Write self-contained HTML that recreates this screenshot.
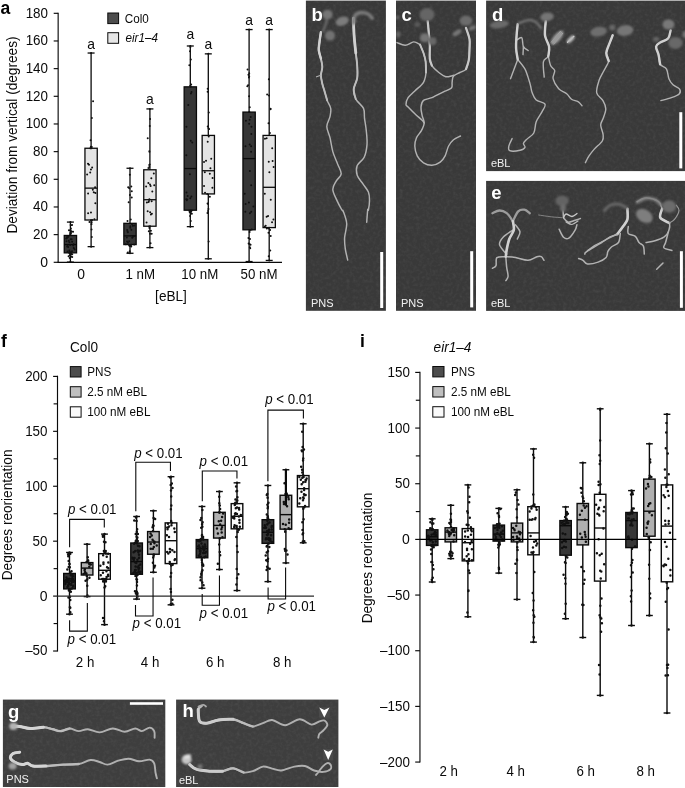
<!DOCTYPE html>
<html lang="en"><head><meta charset="utf-8"><title>Figure</title>
<style>html,body{margin:0;padding:0;background:#fff;overflow:hidden}svg{display:block}</style></head>
<body>
<svg width="685" height="788" viewBox="0 0 685 788" font-family='"Liberation Sans", Arial, Helvetica, sans-serif'>
<defs><filter id="bl" x="-5%" y="-5%" width="110%" height="110%"><feGaussianBlur stdDeviation="0.55"/></filter><filter id="bl2" x="-20%" y="-20%" width="140%" height="140%"><feGaussianBlur stdDeviation="1.2"/></filter><filter id="nz" x="0" y="0" width="100%" height="100%"><feTurbulence type="fractalNoise" baseFrequency="0.3" numOctaves="2" seed="4"/><feColorMatrix type="matrix" values="0 0 0 0 1 0 0 0 0 1 0 0 0 0 1 0.5 0.5 0 0 -0.42"/></filter><clipPath id="cp"><rect x="305.9" y="0.6" width="80" height="310.2"/><rect x="396" y="0.6" width="80" height="310.2"/><rect x="486.1" y="0.6" width="199" height="170.5"/><rect x="486.1" y="180.9" width="199" height="130"/><rect x="2.9" y="699.6" width="162.4" height="87.4"/><rect x="176.1" y="699.6" width="162.3" height="87.4"/></clipPath></defs>
<rect x="0" y="0" width="685" height="788" fill="#fff"/>
<line x1="58.15" y1="12.76" x2="58.15" y2="262.85" stroke="#0a0a0a" stroke-width="1.15" />
<line x1="57.6" y1="262.3" x2="282" y2="262.3" stroke="#0a0a0a" stroke-width="1.15" />
<line x1="53.7" y1="262.3" x2="58.15" y2="262.3" stroke="#0a0a0a" stroke-width="1.15" />
<text x="48" y="266.8" font-size="14.0" text-anchor="end" fill="#0a0a0a">0</text>
<line x1="53.7" y1="234.63" x2="58.15" y2="234.63" stroke="#0a0a0a" stroke-width="1.15" />
<text x="48" y="239.13" font-size="14.0" text-anchor="end" textLength="14.9" lengthAdjust="spacingAndGlyphs" fill="#0a0a0a">20</text>
<line x1="53.7" y1="206.97" x2="58.15" y2="206.97" stroke="#0a0a0a" stroke-width="1.15" />
<text x="48" y="211.47" font-size="14.0" text-anchor="end" textLength="14.9" lengthAdjust="spacingAndGlyphs" fill="#0a0a0a">40</text>
<line x1="53.7" y1="179.3" x2="58.15" y2="179.3" stroke="#0a0a0a" stroke-width="1.15" />
<text x="48" y="183.8" font-size="14.0" text-anchor="end" textLength="14.9" lengthAdjust="spacingAndGlyphs" fill="#0a0a0a">60</text>
<line x1="53.7" y1="151.64" x2="58.15" y2="151.64" stroke="#0a0a0a" stroke-width="1.15" />
<text x="48" y="156.14" font-size="14.0" text-anchor="end" textLength="14.9" lengthAdjust="spacingAndGlyphs" fill="#0a0a0a">80</text>
<line x1="53.7" y1="123.97" x2="58.15" y2="123.97" stroke="#0a0a0a" stroke-width="1.15" />
<text x="48" y="128.47" font-size="14.0" text-anchor="end" textLength="22.36" lengthAdjust="spacingAndGlyphs" fill="#0a0a0a">100</text>
<line x1="53.7" y1="96.3" x2="58.15" y2="96.3" stroke="#0a0a0a" stroke-width="1.15" />
<text x="48" y="100.8" font-size="14.0" text-anchor="end" textLength="22.36" lengthAdjust="spacingAndGlyphs" fill="#0a0a0a">120</text>
<line x1="53.7" y1="68.64" x2="58.15" y2="68.64" stroke="#0a0a0a" stroke-width="1.15" />
<text x="48" y="73.14" font-size="14.0" text-anchor="end" textLength="22.36" lengthAdjust="spacingAndGlyphs" fill="#0a0a0a">140</text>
<line x1="53.7" y1="40.97" x2="58.15" y2="40.97" stroke="#0a0a0a" stroke-width="1.15" />
<text x="48" y="45.47" font-size="14.0" text-anchor="end" textLength="22.36" lengthAdjust="spacingAndGlyphs" fill="#0a0a0a">160</text>
<line x1="53.7" y1="13.31" x2="58.15" y2="13.31" stroke="#0a0a0a" stroke-width="1.15" />
<text x="48" y="17.81" font-size="14.0" text-anchor="end" textLength="22.36" lengthAdjust="spacingAndGlyphs" fill="#0a0a0a">180</text>
<text x="0.5" y="13.7" font-size="17.5" font-weight="bold" fill="#000">a</text>
<text x="16.6" y="135" font-size="14.2" text-anchor="middle" textLength="197" lengthAdjust="spacingAndGlyphs" fill="#0a0a0a" transform="rotate(-90 16.6 135)">Deviation from vertical (degrees)</text>
<rect x="107.8" y="13" width="10.8" height="10.6" fill="#4d4d4d" stroke="#0a0a0a" stroke-width="1"/>
<text x="124.8" y="22.6" font-size="12.23" textLength="24.06" lengthAdjust="spacingAndGlyphs" fill="#0a0a0a">Col0</text>
<rect x="107.8" y="32.7" width="10.8" height="10.6" fill="#e6e6e6" stroke="#0a0a0a" stroke-width="1"/>
<text x="125.4" y="42.3" font-size="12.23" font-style="italic" textLength="32.52" lengthAdjust="spacingAndGlyphs" fill="#0a0a0a">eir1–4</text>
<line x1="70.4" y1="222.08" x2="70.4" y2="262.1" stroke="#0a0a0a" stroke-width="1.3" />
<line x1="66.9" y1="222.08" x2="73.9" y2="222.08" stroke="#0a0a0a" stroke-width="1.3" />
<line x1="66.9" y1="262.1" x2="73.9" y2="262.1" stroke="#0a0a0a" stroke-width="1.3" />
<rect x="64.25" y="235.47" width="12.3" height="17.39" fill="#363636" stroke="#0a0a0a" stroke-width="1.3"/>
<line x1="64.25" y1="244.57" x2="76.55" y2="244.57" stroke="#0a0a0a" stroke-width="1.3" />
<path d="M70.23 254.07a1.0 1.0 0 1 0 2 0a1.0 1.0 0 1 0 -2 0zM69.72 252.25a1.0 1.0 0 1 0 2 0a1.0 1.0 0 1 0 -2 0zM65.49 241.24a1.0 1.0 0 1 0 2 0a1.0 1.0 0 1 0 -2 0zM70.56 231.52a1.0 1.0 0 1 0 2 0a1.0 1.0 0 1 0 -2 0zM69.06 252.88a1.0 1.0 0 1 0 2 0a1.0 1.0 0 1 0 -2 0zM68.73 252.1a1.0 1.0 0 1 0 2 0a1.0 1.0 0 1 0 -2 0zM66.07 237.04a1.0 1.0 0 1 0 2 0a1.0 1.0 0 1 0 -2 0zM69.55 234.57a1.0 1.0 0 1 0 2 0a1.0 1.0 0 1 0 -2 0zM70.62 256.85a1.0 1.0 0 1 0 2 0a1.0 1.0 0 1 0 -2 0zM73.62 249.57a1.0 1.0 0 1 0 2 0a1.0 1.0 0 1 0 -2 0zM72.57 244.15a1.0 1.0 0 1 0 2 0a1.0 1.0 0 1 0 -2 0zM68.98 234.03a1.0 1.0 0 1 0 2 0a1.0 1.0 0 1 0 -2 0zM70.02 253.14a1.0 1.0 0 1 0 2 0a1.0 1.0 0 1 0 -2 0zM66.57 246.1a1.0 1.0 0 1 0 2 0a1.0 1.0 0 1 0 -2 0zM70.63 239.28a1.0 1.0 0 1 0 2 0a1.0 1.0 0 1 0 -2 0zM69.97 233.2a1.0 1.0 0 1 0 2 0a1.0 1.0 0 1 0 -2 0zM69.72 255.98a1.0 1.0 0 1 0 2 0a1.0 1.0 0 1 0 -2 0zM71 251.15a1.0 1.0 0 1 0 2 0a1.0 1.0 0 1 0 -2 0zM67.75 240.68a1.0 1.0 0 1 0 2 0a1.0 1.0 0 1 0 -2 0zM69.53 230.36a1.0 1.0 0 1 0 2 0a1.0 1.0 0 1 0 -2 0zM68.86 255.08a1.0 1.0 0 1 0 2 0a1.0 1.0 0 1 0 -2 0zM67.13 247.07a1.0 1.0 0 1 0 2 0a1.0 1.0 0 1 0 -2 0zM69.62 239.34a1.0 1.0 0 1 0 2 0a1.0 1.0 0 1 0 -2 0zM71.07 224.94a1.0 1.0 0 1 0 2 0a1.0 1.0 0 1 0 -2 0zM68.75 258.09a1.0 1.0 0 1 0 2 0a1.0 1.0 0 1 0 -2 0zM68.67 251.88a1.0 1.0 0 1 0 2 0a1.0 1.0 0 1 0 -2 0zM66.32 237.68a1.0 1.0 0 1 0 2 0a1.0 1.0 0 1 0 -2 0zM72.08 231.77a1.0 1.0 0 1 0 2 0a1.0 1.0 0 1 0 -2 0zM68.58 252.88a1.0 1.0 0 1 0 2 0a1.0 1.0 0 1 0 -2 0zM72.73 248.11a1.0 1.0 0 1 0 2 0a1.0 1.0 0 1 0 -2 0zM71.13 241.72a1.0 1.0 0 1 0 2 0a1.0 1.0 0 1 0 -2 0zM67.94 230.22a1.0 1.0 0 1 0 2 0a1.0 1.0 0 1 0 -2 0zM67.59 256.32a1.0 1.0 0 1 0 2 0a1.0 1.0 0 1 0 -2 0zM69.17 245.03a1.0 1.0 0 1 0 2 0a1.0 1.0 0 1 0 -2 0zM65.51 238.52a1.0 1.0 0 1 0 2 0a1.0 1.0 0 1 0 -2 0zM69.91 228.39a1.0 1.0 0 1 0 2 0a1.0 1.0 0 1 0 -2 0zM71.23 257.08a1.0 1.0 0 1 0 2 0a1.0 1.0 0 1 0 -2 0zM68.39 250.5a1.0 1.0 0 1 0 2 0a1.0 1.0 0 1 0 -2 0zM65.17 238.48a1.0 1.0 0 1 0 2 0a1.0 1.0 0 1 0 -2 0zM69.32 232.14a1.0 1.0 0 1 0 2 0a1.0 1.0 0 1 0 -2 0zM69.65 253.23a1.0 1.0 0 1 0 2 0a1.0 1.0 0 1 0 -2 0zM66.12 246.49a1.0 1.0 0 1 0 2 0a1.0 1.0 0 1 0 -2 0zM68.43 242.32a1.0 1.0 0 1 0 2 0a1.0 1.0 0 1 0 -2 0zM69.63 225.02a1.0 1.0 0 1 0 2 0a1.0 1.0 0 1 0 -2 0zM68.22 252.95a1.0 1.0 0 1 0 2 0a1.0 1.0 0 1 0 -2 0zM72.23 245.54a1.0 1.0 0 1 0 2 0a1.0 1.0 0 1 0 -2 0zM67.44 236.7a1.0 1.0 0 1 0 2 0a1.0 1.0 0 1 0 -2 0zM69.79 232.71a1.0 1.0 0 1 0 2 0a1.0 1.0 0 1 0 -2 0zM71.25 254.31a1.0 1.0 0 1 0 2 0a1.0 1.0 0 1 0 -2 0zM66.53 251.6a1.0 1.0 0 1 0 2 0a1.0 1.0 0 1 0 -2 0zM69.4 262.1a1.0 1.0 0 1 0 2 0a1.0 1.0 0 1 0 -2 0zM69.4 222.08a1.0 1.0 0 1 0 2 0a1.0 1.0 0 1 0 -2 0z" fill="#111"/>
<line x1="91.1" y1="53.03" x2="91.1" y2="246.64" stroke="#0a0a0a" stroke-width="1.3" />
<line x1="87.6" y1="53.03" x2="94.6" y2="53.03" stroke="#0a0a0a" stroke-width="1.3" />
<line x1="87.6" y1="246.64" x2="94.6" y2="246.64" stroke="#0a0a0a" stroke-width="1.3" />
<rect x="84.95" y="148.25" width="12.3" height="71.76" fill="#e4e4e4" stroke="#0a0a0a" stroke-width="1.3"/>
<line x1="84.95" y1="188.13" x2="97.25" y2="188.13" stroke="#0a0a0a" stroke-width="1.3" />
<path d="M88.45 221.93a1.0 1.0 0 1 0 2 0a1.0 1.0 0 1 0 -2 0zM89.97 212.57a1.0 1.0 0 1 0 2 0a1.0 1.0 0 1 0 -2 0zM88 164.64a1.0 1.0 0 1 0 2 0a1.0 1.0 0 1 0 -2 0zM89.28 148.25a1.0 1.0 0 1 0 2 0a1.0 1.0 0 1 0 -2 0zM90.56 229.58a1.0 1.0 0 1 0 2 0a1.0 1.0 0 1 0 -2 0zM91.79 189.63a1.0 1.0 0 1 0 2 0a1.0 1.0 0 1 0 -2 0zM91.14 167.57a1.0 1.0 0 1 0 2 0a1.0 1.0 0 1 0 -2 0zM92.09 101.17a1.0 1.0 0 1 0 2 0a1.0 1.0 0 1 0 -2 0zM90.8 237.04a1.0 1.0 0 1 0 2 0a1.0 1.0 0 1 0 -2 0zM92.74 192.13a1.0 1.0 0 1 0 2 0a1.0 1.0 0 1 0 -2 0zM89.21 172.48a1.0 1.0 0 1 0 2 0a1.0 1.0 0 1 0 -2 0zM89.87 146.64a1.0 1.0 0 1 0 2 0a1.0 1.0 0 1 0 -2 0zM89.84 220.22a1.0 1.0 0 1 0 2 0a1.0 1.0 0 1 0 -2 0zM87.11 213.36a1.0 1.0 0 1 0 2 0a1.0 1.0 0 1 0 -2 0zM86.14 174.57a1.0 1.0 0 1 0 2 0a1.0 1.0 0 1 0 -2 0zM90.36 148.25a1.0 1.0 0 1 0 2 0a1.0 1.0 0 1 0 -2 0zM90.47 224.32a1.0 1.0 0 1 0 2 0a1.0 1.0 0 1 0 -2 0zM93.42 219.2a1.0 1.0 0 1 0 2 0a1.0 1.0 0 1 0 -2 0zM86.99 163.64a1.0 1.0 0 1 0 2 0a1.0 1.0 0 1 0 -2 0zM89.56 140.27a1.0 1.0 0 1 0 2 0a1.0 1.0 0 1 0 -2 0zM90.87 220.62a1.0 1.0 0 1 0 2 0a1.0 1.0 0 1 0 -2 0zM94.47 192.95a1.0 1.0 0 1 0 2 0a1.0 1.0 0 1 0 -2 0zM89.96 169.55a1.0 1.0 0 1 0 2 0a1.0 1.0 0 1 0 -2 0zM90.82 147.1a1.0 1.0 0 1 0 2 0a1.0 1.0 0 1 0 -2 0zM90.64 222.45a1.0 1.0 0 1 0 2 0a1.0 1.0 0 1 0 -2 0zM87.1 193.59a1.0 1.0 0 1 0 2 0a1.0 1.0 0 1 0 -2 0zM94.09 187.21a1.0 1.0 0 1 0 2 0a1.0 1.0 0 1 0 -2 0zM90.85 118.06a1.0 1.0 0 1 0 2 0a1.0 1.0 0 1 0 -2 0zM91.08 220.05a1.0 1.0 0 1 0 2 0a1.0 1.0 0 1 0 -2 0zM94.34 203.17a1.0 1.0 0 1 0 2 0a1.0 1.0 0 1 0 -2 0zM90.1 246.64a1.0 1.0 0 1 0 2 0a1.0 1.0 0 1 0 -2 0zM90.1 53.03a1.0 1.0 0 1 0 2 0a1.0 1.0 0 1 0 -2 0z" fill="#111"/>
<text x="91.1" y="49.03" font-size="13.9" text-anchor="middle" fill="#0a0a0a">a</text>
<line x1="130" y1="168.26" x2="130" y2="253.27" stroke="#0a0a0a" stroke-width="1.3" />
<line x1="126.5" y1="168.26" x2="133.5" y2="168.26" stroke="#0a0a0a" stroke-width="1.3" />
<line x1="126.5" y1="253.27" x2="133.5" y2="253.27" stroke="#0a0a0a" stroke-width="1.3" />
<rect x="123.85" y="223.32" width="12.3" height="21.25" fill="#363636" stroke="#0a0a0a" stroke-width="1.3"/>
<line x1="123.85" y1="235.88" x2="136.15" y2="235.88" stroke="#0a0a0a" stroke-width="1.3" />
<path d="M128.75 251.25a1.0 1.0 0 1 0 2 0a1.0 1.0 0 1 0 -2 0zM126.05 241.39a1.0 1.0 0 1 0 2 0a1.0 1.0 0 1 0 -2 0zM129.29 226.19a1.0 1.0 0 1 0 2 0a1.0 1.0 0 1 0 -2 0zM128.28 188.19a1.0 1.0 0 1 0 2 0a1.0 1.0 0 1 0 -2 0zM129.3 245.75a1.0 1.0 0 1 0 2 0a1.0 1.0 0 1 0 -2 0zM132.12 236.01a1.0 1.0 0 1 0 2 0a1.0 1.0 0 1 0 -2 0zM131.82 225.76a1.0 1.0 0 1 0 2 0a1.0 1.0 0 1 0 -2 0zM130.77 191.31a1.0 1.0 0 1 0 2 0a1.0 1.0 0 1 0 -2 0zM128.08 245.18a1.0 1.0 0 1 0 2 0a1.0 1.0 0 1 0 -2 0zM124.82 244.32a1.0 1.0 0 1 0 2 0a1.0 1.0 0 1 0 -2 0zM126.87 232.37a1.0 1.0 0 1 0 2 0a1.0 1.0 0 1 0 -2 0zM128.9 194.9a1.0 1.0 0 1 0 2 0a1.0 1.0 0 1 0 -2 0zM126.81 252.6a1.0 1.0 0 1 0 2 0a1.0 1.0 0 1 0 -2 0zM133.03 235.98a1.0 1.0 0 1 0 2 0a1.0 1.0 0 1 0 -2 0zM126.52 231.3a1.0 1.0 0 1 0 2 0a1.0 1.0 0 1 0 -2 0zM129.75 219.51a1.0 1.0 0 1 0 2 0a1.0 1.0 0 1 0 -2 0zM129.39 245.04a1.0 1.0 0 1 0 2 0a1.0 1.0 0 1 0 -2 0zM132.01 236.75a1.0 1.0 0 1 0 2 0a1.0 1.0 0 1 0 -2 0zM130.35 229.86a1.0 1.0 0 1 0 2 0a1.0 1.0 0 1 0 -2 0zM130.32 186.5a1.0 1.0 0 1 0 2 0a1.0 1.0 0 1 0 -2 0zM127.85 244.68a1.0 1.0 0 1 0 2 0a1.0 1.0 0 1 0 -2 0zM131.22 237.77a1.0 1.0 0 1 0 2 0a1.0 1.0 0 1 0 -2 0zM126.15 229.88a1.0 1.0 0 1 0 2 0a1.0 1.0 0 1 0 -2 0zM127.17 187.37a1.0 1.0 0 1 0 2 0a1.0 1.0 0 1 0 -2 0zM129.82 245.77a1.0 1.0 0 1 0 2 0a1.0 1.0 0 1 0 -2 0zM128.13 241.13a1.0 1.0 0 1 0 2 0a1.0 1.0 0 1 0 -2 0zM130.99 223.99a1.0 1.0 0 1 0 2 0a1.0 1.0 0 1 0 -2 0zM126.51 221.05a1.0 1.0 0 1 0 2 0a1.0 1.0 0 1 0 -2 0zM130.24 244.79a1.0 1.0 0 1 0 2 0a1.0 1.0 0 1 0 -2 0zM125.87 237.56a1.0 1.0 0 1 0 2 0a1.0 1.0 0 1 0 -2 0zM133.25 225.5a1.0 1.0 0 1 0 2 0a1.0 1.0 0 1 0 -2 0zM130.74 197.45a1.0 1.0 0 1 0 2 0a1.0 1.0 0 1 0 -2 0zM128.5 245.89a1.0 1.0 0 1 0 2 0a1.0 1.0 0 1 0 -2 0zM133.17 244.45a1.0 1.0 0 1 0 2 0a1.0 1.0 0 1 0 -2 0zM129.24 227.72a1.0 1.0 0 1 0 2 0a1.0 1.0 0 1 0 -2 0zM128.84 174.66a1.0 1.0 0 1 0 2 0a1.0 1.0 0 1 0 -2 0zM130.27 246.51a1.0 1.0 0 1 0 2 0a1.0 1.0 0 1 0 -2 0zM126.8 242.74a1.0 1.0 0 1 0 2 0a1.0 1.0 0 1 0 -2 0zM126.7 232.2a1.0 1.0 0 1 0 2 0a1.0 1.0 0 1 0 -2 0zM127.67 202.25a1.0 1.0 0 1 0 2 0a1.0 1.0 0 1 0 -2 0zM129 253.27a1.0 1.0 0 1 0 2 0a1.0 1.0 0 1 0 -2 0zM129 168.26a1.0 1.0 0 1 0 2 0a1.0 1.0 0 1 0 -2 0z" fill="#111"/>
<line x1="149.9" y1="108.92" x2="149.9" y2="247.61" stroke="#0a0a0a" stroke-width="1.3" />
<line x1="146.4" y1="108.92" x2="153.4" y2="108.92" stroke="#0a0a0a" stroke-width="1.3" />
<line x1="146.4" y1="247.61" x2="153.4" y2="247.61" stroke="#0a0a0a" stroke-width="1.3" />
<rect x="143.75" y="169.78" width="12.3" height="56.44" fill="#e4e4e4" stroke="#0a0a0a" stroke-width="1.3"/>
<line x1="143.75" y1="199.72" x2="156.05" y2="199.72" stroke="#0a0a0a" stroke-width="1.3" />
<path d="M148.44 228.1a1.0 1.0 0 1 0 2 0a1.0 1.0 0 1 0 -2 0zM147.61 202.11a1.0 1.0 0 1 0 2 0a1.0 1.0 0 1 0 -2 0zM149.64 186a1.0 1.0 0 1 0 2 0a1.0 1.0 0 1 0 -2 0zM149.15 119a1.0 1.0 0 1 0 2 0a1.0 1.0 0 1 0 -2 0zM149.91 230.72a1.0 1.0 0 1 0 2 0a1.0 1.0 0 1 0 -2 0zM149.11 212.13a1.0 1.0 0 1 0 2 0a1.0 1.0 0 1 0 -2 0zM148.37 199.16a1.0 1.0 0 1 0 2 0a1.0 1.0 0 1 0 -2 0zM148.33 166.91a1.0 1.0 0 1 0 2 0a1.0 1.0 0 1 0 -2 0zM149.08 226.22a1.0 1.0 0 1 0 2 0a1.0 1.0 0 1 0 -2 0zM150.89 213.67a1.0 1.0 0 1 0 2 0a1.0 1.0 0 1 0 -2 0zM147.36 183.06a1.0 1.0 0 1 0 2 0a1.0 1.0 0 1 0 -2 0zM148.32 151.13a1.0 1.0 0 1 0 2 0a1.0 1.0 0 1 0 -2 0zM149 233.64a1.0 1.0 0 1 0 2 0a1.0 1.0 0 1 0 -2 0zM146.67 211.37a1.0 1.0 0 1 0 2 0a1.0 1.0 0 1 0 -2 0zM151.31 191.43a1.0 1.0 0 1 0 2 0a1.0 1.0 0 1 0 -2 0zM148.44 151.81a1.0 1.0 0 1 0 2 0a1.0 1.0 0 1 0 -2 0zM149.04 233.79a1.0 1.0 0 1 0 2 0a1.0 1.0 0 1 0 -2 0zM149.9 214.48a1.0 1.0 0 1 0 2 0a1.0 1.0 0 1 0 -2 0zM149.01 184.58a1.0 1.0 0 1 0 2 0a1.0 1.0 0 1 0 -2 0zM146.73 138.35a1.0 1.0 0 1 0 2 0a1.0 1.0 0 1 0 -2 0zM147.8 231.35a1.0 1.0 0 1 0 2 0a1.0 1.0 0 1 0 -2 0zM150.66 201.27a1.0 1.0 0 1 0 2 0a1.0 1.0 0 1 0 -2 0zM152.82 173.48a1.0 1.0 0 1 0 2 0a1.0 1.0 0 1 0 -2 0zM148.67 164.41a1.0 1.0 0 1 0 2 0a1.0 1.0 0 1 0 -2 0zM150.67 233.74a1.0 1.0 0 1 0 2 0a1.0 1.0 0 1 0 -2 0zM145.55 222.59a1.0 1.0 0 1 0 2 0a1.0 1.0 0 1 0 -2 0zM145.11 186.48a1.0 1.0 0 1 0 2 0a1.0 1.0 0 1 0 -2 0zM148.24 165.09a1.0 1.0 0 1 0 2 0a1.0 1.0 0 1 0 -2 0zM148.07 226.41a1.0 1.0 0 1 0 2 0a1.0 1.0 0 1 0 -2 0zM145.84 202.45a1.0 1.0 0 1 0 2 0a1.0 1.0 0 1 0 -2 0zM150.32 178.28a1.0 1.0 0 1 0 2 0a1.0 1.0 0 1 0 -2 0zM147.39 167.94a1.0 1.0 0 1 0 2 0a1.0 1.0 0 1 0 -2 0zM149.58 243.31a1.0 1.0 0 1 0 2 0a1.0 1.0 0 1 0 -2 0zM148 200.98a1.0 1.0 0 1 0 2 0a1.0 1.0 0 1 0 -2 0zM153.24 185.13a1.0 1.0 0 1 0 2 0a1.0 1.0 0 1 0 -2 0zM148.76 126.03a1.0 1.0 0 1 0 2 0a1.0 1.0 0 1 0 -2 0zM148.9 247.61a1.0 1.0 0 1 0 2 0a1.0 1.0 0 1 0 -2 0zM148.9 108.92a1.0 1.0 0 1 0 2 0a1.0 1.0 0 1 0 -2 0z" fill="#111"/>
<text x="149.9" y="103.92" font-size="13.9" text-anchor="middle" fill="#0a0a0a">a</text>
<line x1="190.3" y1="45.99" x2="190.3" y2="226.63" stroke="#0a0a0a" stroke-width="1.3" />
<line x1="186.8" y1="45.99" x2="193.8" y2="45.99" stroke="#0a0a0a" stroke-width="1.3" />
<line x1="186.8" y1="226.63" x2="193.8" y2="226.63" stroke="#0a0a0a" stroke-width="1.3" />
<rect x="184.15" y="86.84" width="12.3" height="123.37" fill="#363636" stroke="#0a0a0a" stroke-width="1.3"/>
<line x1="184.15" y1="168.54" x2="196.45" y2="168.54" stroke="#0a0a0a" stroke-width="1.3" />
<path d="M188.22 210.83a1.0 1.0 0 1 0 2 0a1.0 1.0 0 1 0 -2 0zM186.61 196.08a1.0 1.0 0 1 0 2 0a1.0 1.0 0 1 0 -2 0zM191.27 142.51a1.0 1.0 0 1 0 2 0a1.0 1.0 0 1 0 -2 0zM189.79 86.81a1.0 1.0 0 1 0 2 0a1.0 1.0 0 1 0 -2 0zM189.13 215.89a1.0 1.0 0 1 0 2 0a1.0 1.0 0 1 0 -2 0zM190.4 196.4a1.0 1.0 0 1 0 2 0a1.0 1.0 0 1 0 -2 0zM185.44 126.69a1.0 1.0 0 1 0 2 0a1.0 1.0 0 1 0 -2 0zM189.37 47.08a1.0 1.0 0 1 0 2 0a1.0 1.0 0 1 0 -2 0zM189.76 220.92a1.0 1.0 0 1 0 2 0a1.0 1.0 0 1 0 -2 0zM185.22 199.14a1.0 1.0 0 1 0 2 0a1.0 1.0 0 1 0 -2 0zM187.27 104.9a1.0 1.0 0 1 0 2 0a1.0 1.0 0 1 0 -2 0zM189.22 85.81a1.0 1.0 0 1 0 2 0a1.0 1.0 0 1 0 -2 0zM190.84 213.69a1.0 1.0 0 1 0 2 0a1.0 1.0 0 1 0 -2 0zM186.19 199.43a1.0 1.0 0 1 0 2 0a1.0 1.0 0 1 0 -2 0zM189.93 93.44a1.0 1.0 0 1 0 2 0a1.0 1.0 0 1 0 -2 0zM188.34 65.32a1.0 1.0 0 1 0 2 0a1.0 1.0 0 1 0 -2 0zM190.71 210.42a1.0 1.0 0 1 0 2 0a1.0 1.0 0 1 0 -2 0zM185.51 192.49a1.0 1.0 0 1 0 2 0a1.0 1.0 0 1 0 -2 0zM190.49 91.88a1.0 1.0 0 1 0 2 0a1.0 1.0 0 1 0 -2 0zM189.83 59.4a1.0 1.0 0 1 0 2 0a1.0 1.0 0 1 0 -2 0zM189.53 210.4a1.0 1.0 0 1 0 2 0a1.0 1.0 0 1 0 -2 0zM188.89 174.25a1.0 1.0 0 1 0 2 0a1.0 1.0 0 1 0 -2 0zM189.77 140.83a1.0 1.0 0 1 0 2 0a1.0 1.0 0 1 0 -2 0zM189.01 51.22a1.0 1.0 0 1 0 2 0a1.0 1.0 0 1 0 -2 0zM190.13 211.75a1.0 1.0 0 1 0 2 0a1.0 1.0 0 1 0 -2 0zM185.84 200.27a1.0 1.0 0 1 0 2 0a1.0 1.0 0 1 0 -2 0zM185.32 155.35a1.0 1.0 0 1 0 2 0a1.0 1.0 0 1 0 -2 0zM190.17 84.55a1.0 1.0 0 1 0 2 0a1.0 1.0 0 1 0 -2 0zM188.74 212.23a1.0 1.0 0 1 0 2 0a1.0 1.0 0 1 0 -2 0zM189.3 198.13a1.0 1.0 0 1 0 2 0a1.0 1.0 0 1 0 -2 0zM189.3 226.63a1.0 1.0 0 1 0 2 0a1.0 1.0 0 1 0 -2 0zM189.3 45.99a1.0 1.0 0 1 0 2 0a1.0 1.0 0 1 0 -2 0z" fill="#111"/>
<text x="190.3" y="38.69" font-size="13.9" text-anchor="middle" fill="#0a0a0a">a</text>
<line x1="208.3" y1="53.86" x2="208.3" y2="258.79" stroke="#0a0a0a" stroke-width="1.3" />
<line x1="204.8" y1="53.86" x2="211.8" y2="53.86" stroke="#0a0a0a" stroke-width="1.3" />
<line x1="204.8" y1="258.79" x2="211.8" y2="258.79" stroke="#0a0a0a" stroke-width="1.3" />
<rect x="202.15" y="135.42" width="12.3" height="58.51" fill="#e4e4e4" stroke="#0a0a0a" stroke-width="1.3"/>
<line x1="202.15" y1="170.74" x2="214.45" y2="170.74" stroke="#0a0a0a" stroke-width="1.3" />
<path d="M208.86 196.83a1.0 1.0 0 1 0 2 0a1.0 1.0 0 1 0 -2 0zM203.03 185.88a1.0 1.0 0 1 0 2 0a1.0 1.0 0 1 0 -2 0zM203.01 161.9a1.0 1.0 0 1 0 2 0a1.0 1.0 0 1 0 -2 0zM206.69 88.78a1.0 1.0 0 1 0 2 0a1.0 1.0 0 1 0 -2 0zM207.1 210.9a1.0 1.0 0 1 0 2 0a1.0 1.0 0 1 0 -2 0zM203.81 172.26a1.0 1.0 0 1 0 2 0a1.0 1.0 0 1 0 -2 0zM206.7 141.81a1.0 1.0 0 1 0 2 0a1.0 1.0 0 1 0 -2 0zM207.8 112.41a1.0 1.0 0 1 0 2 0a1.0 1.0 0 1 0 -2 0zM206.45 213a1.0 1.0 0 1 0 2 0a1.0 1.0 0 1 0 -2 0zM211.57 177.98a1.0 1.0 0 1 0 2 0a1.0 1.0 0 1 0 -2 0zM210.24 158.64a1.0 1.0 0 1 0 2 0a1.0 1.0 0 1 0 -2 0zM206.64 91.75a1.0 1.0 0 1 0 2 0a1.0 1.0 0 1 0 -2 0zM206.54 203.61a1.0 1.0 0 1 0 2 0a1.0 1.0 0 1 0 -2 0zM204.02 192.67a1.0 1.0 0 1 0 2 0a1.0 1.0 0 1 0 -2 0zM209.43 168.25a1.0 1.0 0 1 0 2 0a1.0 1.0 0 1 0 -2 0zM207.51 128.42a1.0 1.0 0 1 0 2 0a1.0 1.0 0 1 0 -2 0zM207.65 241.45a1.0 1.0 0 1 0 2 0a1.0 1.0 0 1 0 -2 0zM208.81 173.75a1.0 1.0 0 1 0 2 0a1.0 1.0 0 1 0 -2 0zM205.02 160.78a1.0 1.0 0 1 0 2 0a1.0 1.0 0 1 0 -2 0zM206.74 126.46a1.0 1.0 0 1 0 2 0a1.0 1.0 0 1 0 -2 0zM207.45 209.08a1.0 1.0 0 1 0 2 0a1.0 1.0 0 1 0 -2 0zM211.39 187.82a1.0 1.0 0 1 0 2 0a1.0 1.0 0 1 0 -2 0zM207.72 136.38a1.0 1.0 0 1 0 2 0a1.0 1.0 0 1 0 -2 0zM208.13 128.96a1.0 1.0 0 1 0 2 0a1.0 1.0 0 1 0 -2 0zM207.12 204.06a1.0 1.0 0 1 0 2 0a1.0 1.0 0 1 0 -2 0zM206.25 193.9a1.0 1.0 0 1 0 2 0a1.0 1.0 0 1 0 -2 0zM207.3 258.79a1.0 1.0 0 1 0 2 0a1.0 1.0 0 1 0 -2 0zM207.3 53.86a1.0 1.0 0 1 0 2 0a1.0 1.0 0 1 0 -2 0z" fill="#111"/>
<text x="208.3" y="48.86" font-size="13.9" text-anchor="middle" fill="#0a0a0a">a</text>
<line x1="249.1" y1="29.57" x2="249.1" y2="261.55" stroke="#0a0a0a" stroke-width="1.3" />
<line x1="245.6" y1="29.57" x2="252.6" y2="29.57" stroke="#0a0a0a" stroke-width="1.3" />
<line x1="245.6" y1="261.55" x2="252.6" y2="261.55" stroke="#0a0a0a" stroke-width="1.3" />
<rect x="242.95" y="112.09" width="12.3" height="117.71" fill="#363636" stroke="#0a0a0a" stroke-width="1.3"/>
<line x1="242.95" y1="158.6" x2="255.25" y2="158.6" stroke="#0a0a0a" stroke-width="1.3" />
<path d="M247.44 238.11a1.0 1.0 0 1 0 2 0a1.0 1.0 0 1 0 -2 0zM243.72 193.87a1.0 1.0 0 1 0 2 0a1.0 1.0 0 1 0 -2 0zM244.47 146.31a1.0 1.0 0 1 0 2 0a1.0 1.0 0 1 0 -2 0zM248.09 96.27a1.0 1.0 0 1 0 2 0a1.0 1.0 0 1 0 -2 0zM248.93 229.91a1.0 1.0 0 1 0 2 0a1.0 1.0 0 1 0 -2 0zM248.86 213.23a1.0 1.0 0 1 0 2 0a1.0 1.0 0 1 0 -2 0zM250.32 133.99a1.0 1.0 0 1 0 2 0a1.0 1.0 0 1 0 -2 0zM248.22 73.29a1.0 1.0 0 1 0 2 0a1.0 1.0 0 1 0 -2 0zM248.81 247.2a1.0 1.0 0 1 0 2 0a1.0 1.0 0 1 0 -2 0zM252.39 206.58a1.0 1.0 0 1 0 2 0a1.0 1.0 0 1 0 -2 0zM250.09 151.65a1.0 1.0 0 1 0 2 0a1.0 1.0 0 1 0 -2 0zM247.43 74.8a1.0 1.0 0 1 0 2 0a1.0 1.0 0 1 0 -2 0zM249.16 229.92a1.0 1.0 0 1 0 2 0a1.0 1.0 0 1 0 -2 0zM250.17 185.14a1.0 1.0 0 1 0 2 0a1.0 1.0 0 1 0 -2 0zM244.91 120.83a1.0 1.0 0 1 0 2 0a1.0 1.0 0 1 0 -2 0zM246.32 86.33a1.0 1.0 0 1 0 2 0a1.0 1.0 0 1 0 -2 0zM249 239.07a1.0 1.0 0 1 0 2 0a1.0 1.0 0 1 0 -2 0zM248.84 170.96a1.0 1.0 0 1 0 2 0a1.0 1.0 0 1 0 -2 0zM249.72 117.08a1.0 1.0 0 1 0 2 0a1.0 1.0 0 1 0 -2 0zM246.57 69.41a1.0 1.0 0 1 0 2 0a1.0 1.0 0 1 0 -2 0zM248.62 232.06a1.0 1.0 0 1 0 2 0a1.0 1.0 0 1 0 -2 0zM244.6 204.12a1.0 1.0 0 1 0 2 0a1.0 1.0 0 1 0 -2 0zM248.62 119.73a1.0 1.0 0 1 0 2 0a1.0 1.0 0 1 0 -2 0zM248.2 76.4a1.0 1.0 0 1 0 2 0a1.0 1.0 0 1 0 -2 0zM247.62 243.48a1.0 1.0 0 1 0 2 0a1.0 1.0 0 1 0 -2 0zM250.74 229.57a1.0 1.0 0 1 0 2 0a1.0 1.0 0 1 0 -2 0zM248.13 123.8a1.0 1.0 0 1 0 2 0a1.0 1.0 0 1 0 -2 0zM247.07 85.31a1.0 1.0 0 1 0 2 0a1.0 1.0 0 1 0 -2 0zM249.57 244.8a1.0 1.0 0 1 0 2 0a1.0 1.0 0 1 0 -2 0zM244.33 211.85a1.0 1.0 0 1 0 2 0a1.0 1.0 0 1 0 -2 0zM250.13 146.25a1.0 1.0 0 1 0 2 0a1.0 1.0 0 1 0 -2 0zM248.75 107.32a1.0 1.0 0 1 0 2 0a1.0 1.0 0 1 0 -2 0zM249.24 248.26a1.0 1.0 0 1 0 2 0a1.0 1.0 0 1 0 -2 0zM247.91 202.57a1.0 1.0 0 1 0 2 0a1.0 1.0 0 1 0 -2 0zM250.46 126.8a1.0 1.0 0 1 0 2 0a1.0 1.0 0 1 0 -2 0zM247.93 77.5a1.0 1.0 0 1 0 2 0a1.0 1.0 0 1 0 -2 0zM248.59 244.13a1.0 1.0 0 1 0 2 0a1.0 1.0 0 1 0 -2 0zM250.25 211.73a1.0 1.0 0 1 0 2 0a1.0 1.0 0 1 0 -2 0zM248.7 144.44a1.0 1.0 0 1 0 2 0a1.0 1.0 0 1 0 -2 0zM248.36 112.06a1.0 1.0 0 1 0 2 0a1.0 1.0 0 1 0 -2 0zM248.1 261.55a1.0 1.0 0 1 0 2 0a1.0 1.0 0 1 0 -2 0zM248.1 29.57a1.0 1.0 0 1 0 2 0a1.0 1.0 0 1 0 -2 0z" fill="#111"/>
<text x="249.1" y="24.57" font-size="13.9" text-anchor="middle" fill="#0a0a0a">a</text>
<line x1="269.2" y1="29.57" x2="269.2" y2="260.44" stroke="#0a0a0a" stroke-width="1.3" />
<line x1="265.7" y1="29.57" x2="272.7" y2="29.57" stroke="#0a0a0a" stroke-width="1.3" />
<line x1="265.7" y1="260.44" x2="272.7" y2="260.44" stroke="#0a0a0a" stroke-width="1.3" />
<rect x="263.05" y="135.42" width="12.3" height="92.18" fill="#e4e4e4" stroke="#0a0a0a" stroke-width="1.3"/>
<line x1="263.05" y1="187.3" x2="275.35" y2="187.3" stroke="#0a0a0a" stroke-width="1.3" />
<path d="M268.03 227.81a1.0 1.0 0 1 0 2 0a1.0 1.0 0 1 0 -2 0zM269.76 199.71a1.0 1.0 0 1 0 2 0a1.0 1.0 0 1 0 -2 0zM268.35 172.21a1.0 1.0 0 1 0 2 0a1.0 1.0 0 1 0 -2 0zM269.66 108.78a1.0 1.0 0 1 0 2 0a1.0 1.0 0 1 0 -2 0zM269.73 235.92a1.0 1.0 0 1 0 2 0a1.0 1.0 0 1 0 -2 0zM272.43 219.57a1.0 1.0 0 1 0 2 0a1.0 1.0 0 1 0 -2 0zM263.93 138.72a1.0 1.0 0 1 0 2 0a1.0 1.0 0 1 0 -2 0zM269.61 109.36a1.0 1.0 0 1 0 2 0a1.0 1.0 0 1 0 -2 0zM269.25 250.57a1.0 1.0 0 1 0 2 0a1.0 1.0 0 1 0 -2 0zM265.63 216.77a1.0 1.0 0 1 0 2 0a1.0 1.0 0 1 0 -2 0zM265.64 138.24a1.0 1.0 0 1 0 2 0a1.0 1.0 0 1 0 -2 0zM267.99 95.53a1.0 1.0 0 1 0 2 0a1.0 1.0 0 1 0 -2 0zM265.8 228.58a1.0 1.0 0 1 0 2 0a1.0 1.0 0 1 0 -2 0zM271.04 222.26a1.0 1.0 0 1 0 2 0a1.0 1.0 0 1 0 -2 0zM271.63 160.91a1.0 1.0 0 1 0 2 0a1.0 1.0 0 1 0 -2 0zM267.83 79.24a1.0 1.0 0 1 0 2 0a1.0 1.0 0 1 0 -2 0zM269.11 229.96a1.0 1.0 0 1 0 2 0a1.0 1.0 0 1 0 -2 0zM263.8 226.6a1.0 1.0 0 1 0 2 0a1.0 1.0 0 1 0 -2 0zM267.76 161.79a1.0 1.0 0 1 0 2 0a1.0 1.0 0 1 0 -2 0zM267.52 123.15a1.0 1.0 0 1 0 2 0a1.0 1.0 0 1 0 -2 0zM267.72 228.56a1.0 1.0 0 1 0 2 0a1.0 1.0 0 1 0 -2 0zM263.79 193.74a1.0 1.0 0 1 0 2 0a1.0 1.0 0 1 0 -2 0zM271.2 148.35a1.0 1.0 0 1 0 2 0a1.0 1.0 0 1 0 -2 0zM268.91 133.09a1.0 1.0 0 1 0 2 0a1.0 1.0 0 1 0 -2 0zM267.71 256.22a1.0 1.0 0 1 0 2 0a1.0 1.0 0 1 0 -2 0zM267.07 215.92a1.0 1.0 0 1 0 2 0a1.0 1.0 0 1 0 -2 0zM272.62 166.92a1.0 1.0 0 1 0 2 0a1.0 1.0 0 1 0 -2 0zM266.14 94.57a1.0 1.0 0 1 0 2 0a1.0 1.0 0 1 0 -2 0zM267.49 232.84a1.0 1.0 0 1 0 2 0a1.0 1.0 0 1 0 -2 0zM264.67 225.65a1.0 1.0 0 1 0 2 0a1.0 1.0 0 1 0 -2 0zM268.2 260.44a1.0 1.0 0 1 0 2 0a1.0 1.0 0 1 0 -2 0zM268.2 29.57a1.0 1.0 0 1 0 2 0a1.0 1.0 0 1 0 -2 0z" fill="#111"/>
<text x="269.2" y="24.57" font-size="13.9" text-anchor="middle" fill="#0a0a0a">a</text>
<text x="81.2" y="279.3" font-size="13.9" text-anchor="middle" fill="#0a0a0a">0</text>
<text x="140.3" y="279.3" font-size="13.9" text-anchor="middle" textLength="29.57" lengthAdjust="spacingAndGlyphs" fill="#0a0a0a">1 nM</text>
<text x="199.8" y="279.3" font-size="13.9" text-anchor="middle" textLength="36.96" lengthAdjust="spacingAndGlyphs" fill="#0a0a0a">10 nM</text>
<text x="259" y="279.3" font-size="13.9" text-anchor="middle" textLength="36.96" lengthAdjust="spacingAndGlyphs" fill="#0a0a0a">50 nM</text>
<text x="171" y="300.6" font-size="14.21" text-anchor="middle" textLength="31.76" lengthAdjust="spacingAndGlyphs" fill="#0a0a0a">[eBL]</text>
<line x1="57.5" y1="375.85" x2="57.5" y2="651.57" stroke="#0a0a0a" stroke-width="1.15" />
<line x1="53.1" y1="651.02" x2="57.5" y2="651.02" stroke="#0a0a0a" stroke-width="1.15" />
<text x="47.5" y="655.42" font-size="14.0" text-anchor="end" textLength="22.36" lengthAdjust="spacingAndGlyphs" fill="#0a0a0a">–50</text>
<line x1="53.6" y1="623.56" x2="57.5" y2="623.56" stroke="#0a0a0a" stroke-width="1.15" />
<line x1="53.1" y1="596.1" x2="57.5" y2="596.1" stroke="#0a0a0a" stroke-width="1.15" />
<text x="47.5" y="600.5" font-size="14.0" text-anchor="end" fill="#0a0a0a">0</text>
<line x1="53.6" y1="568.64" x2="57.5" y2="568.64" stroke="#0a0a0a" stroke-width="1.15" />
<line x1="53.1" y1="541.18" x2="57.5" y2="541.18" stroke="#0a0a0a" stroke-width="1.15" />
<text x="47.5" y="545.58" font-size="14.0" text-anchor="end" textLength="14.9" lengthAdjust="spacingAndGlyphs" fill="#0a0a0a">50</text>
<line x1="53.6" y1="513.71" x2="57.5" y2="513.71" stroke="#0a0a0a" stroke-width="1.15" />
<line x1="53.1" y1="486.25" x2="57.5" y2="486.25" stroke="#0a0a0a" stroke-width="1.15" />
<text x="47.5" y="490.65" font-size="14.0" text-anchor="end" textLength="22.36" lengthAdjust="spacingAndGlyphs" fill="#0a0a0a">100</text>
<line x1="53.6" y1="458.79" x2="57.5" y2="458.79" stroke="#0a0a0a" stroke-width="1.15" />
<line x1="53.1" y1="431.33" x2="57.5" y2="431.33" stroke="#0a0a0a" stroke-width="1.15" />
<text x="47.5" y="435.73" font-size="14.0" text-anchor="end" textLength="22.36" lengthAdjust="spacingAndGlyphs" fill="#0a0a0a">150</text>
<line x1="53.6" y1="403.86" x2="57.5" y2="403.86" stroke="#0a0a0a" stroke-width="1.15" />
<line x1="53.1" y1="376.4" x2="57.5" y2="376.4" stroke="#0a0a0a" stroke-width="1.15" />
<text x="47.5" y="380.8" font-size="14.0" text-anchor="end" textLength="22.36" lengthAdjust="spacingAndGlyphs" fill="#0a0a0a">200</text>
<text x="1" y="347.4" font-size="17.5" font-weight="bold" fill="#000">f</text>
<text x="11.9" y="514.9" font-size="14.2" text-anchor="middle" textLength="130.7" lengthAdjust="spacingAndGlyphs" fill="#0a0a0a" transform="rotate(-90 11.9 514.9)">Degrees reorientation</text>
<text x="70" y="351.6" font-size="14.21" textLength="27.97" lengthAdjust="spacingAndGlyphs" fill="#0a0a0a">Col0</text>
<rect x="70.3" y="366.6" width="10.8" height="10.4" fill="#4d4d4d" stroke="#0a0a0a" stroke-width="1"/>
<text x="87.3" y="375.9" font-size="12.23" textLength="24.06" lengthAdjust="spacingAndGlyphs" fill="#0a0a0a">PNS</text>
<rect x="70.3" y="386.7" width="10.8" height="10.4" fill="#bfbfbf" stroke="#0a0a0a" stroke-width="1"/>
<text x="87.3" y="395.9" font-size="12.23" textLength="59.84" lengthAdjust="spacingAndGlyphs" fill="#0a0a0a">2.5 nM eBL</text>
<rect x="70.3" y="406.8" width="10.8" height="10.4" fill="#fafafa" stroke="#0a0a0a" stroke-width="1"/>
<text x="87.3" y="415.9" font-size="12.23" textLength="63.09" lengthAdjust="spacingAndGlyphs" fill="#0a0a0a">100 nM eBL</text>
<line x1="69.5" y1="552.47" x2="69.5" y2="614.18" stroke="#0a0a0a" stroke-width="1.4" />
<line x1="66.1" y1="552.47" x2="72.9" y2="552.47" stroke="#0a0a0a" stroke-width="1.4" />
<line x1="66.1" y1="614.18" x2="72.9" y2="614.18" stroke="#0a0a0a" stroke-width="1.4" />
<rect x="63.7" y="573.48" width="11.6" height="15.4" fill="#363636" stroke="#0a0a0a" stroke-width="1.4"/>
<line x1="63.7" y1="580.96" x2="75.3" y2="580.96" stroke="#0a0a0a" stroke-width="1.4" />
<path d="M68.58 607.15a1.25 1.25 0 1 0 2.5 0a1.25 1.25 0 1 0 -2.5 0zM71.89 586.62a1.25 1.25 0 1 0 2.5 0a1.25 1.25 0 1 0 -2.5 0zM66.29 579.1a1.25 1.25 0 1 0 2.5 0a1.25 1.25 0 1 0 -2.5 0zM68.58 567.21a1.25 1.25 0 1 0 2.5 0a1.25 1.25 0 1 0 -2.5 0zM69.08 612.22a1.25 1.25 0 1 0 2.5 0a1.25 1.25 0 1 0 -2.5 0zM70.86 581.88a1.25 1.25 0 1 0 2.5 0a1.25 1.25 0 1 0 -2.5 0zM71.7 576.24a1.25 1.25 0 1 0 2.5 0a1.25 1.25 0 1 0 -2.5 0zM66.84 554.66a1.25 1.25 0 1 0 2.5 0a1.25 1.25 0 1 0 -2.5 0zM67.8 588.99a1.25 1.25 0 1 0 2.5 0a1.25 1.25 0 1 0 -2.5 0zM67.84 583.08a1.25 1.25 0 1 0 2.5 0a1.25 1.25 0 1 0 -2.5 0zM69.46 575.33a1.25 1.25 0 1 0 2.5 0a1.25 1.25 0 1 0 -2.5 0zM70.27 571.27a1.25 1.25 0 1 0 2.5 0a1.25 1.25 0 1 0 -2.5 0zM68.89 589.5a1.25 1.25 0 1 0 2.5 0a1.25 1.25 0 1 0 -2.5 0zM66.94 585.14a1.25 1.25 0 1 0 2.5 0a1.25 1.25 0 1 0 -2.5 0zM70.25 578.73a1.25 1.25 0 1 0 2.5 0a1.25 1.25 0 1 0 -2.5 0zM68.16 553.36a1.25 1.25 0 1 0 2.5 0a1.25 1.25 0 1 0 -2.5 0zM69.6 591.79a1.25 1.25 0 1 0 2.5 0a1.25 1.25 0 1 0 -2.5 0zM67.37 584.47a1.25 1.25 0 1 0 2.5 0a1.25 1.25 0 1 0 -2.5 0zM65.42 579.71a1.25 1.25 0 1 0 2.5 0a1.25 1.25 0 1 0 -2.5 0zM69.15 572.24a1.25 1.25 0 1 0 2.5 0a1.25 1.25 0 1 0 -2.5 0zM67.64 590.54a1.25 1.25 0 1 0 2.5 0a1.25 1.25 0 1 0 -2.5 0zM72.4 581.7a1.25 1.25 0 1 0 2.5 0a1.25 1.25 0 1 0 -2.5 0zM65.24 577.59a1.25 1.25 0 1 0 2.5 0a1.25 1.25 0 1 0 -2.5 0zM68.96 572.4a1.25 1.25 0 1 0 2.5 0a1.25 1.25 0 1 0 -2.5 0zM68.71 589.22a1.25 1.25 0 1 0 2.5 0a1.25 1.25 0 1 0 -2.5 0zM66.23 586.99a1.25 1.25 0 1 0 2.5 0a1.25 1.25 0 1 0 -2.5 0zM71.48 576.7a1.25 1.25 0 1 0 2.5 0a1.25 1.25 0 1 0 -2.5 0zM67.43 560.97a1.25 1.25 0 1 0 2.5 0a1.25 1.25 0 1 0 -2.5 0zM68.75 596.79a1.25 1.25 0 1 0 2.5 0a1.25 1.25 0 1 0 -2.5 0zM66.9 585.9a1.25 1.25 0 1 0 2.5 0a1.25 1.25 0 1 0 -2.5 0zM66.39 580.5a1.25 1.25 0 1 0 2.5 0a1.25 1.25 0 1 0 -2.5 0zM69.02 553.68a1.25 1.25 0 1 0 2.5 0a1.25 1.25 0 1 0 -2.5 0zM69.03 599.88a1.25 1.25 0 1 0 2.5 0a1.25 1.25 0 1 0 -2.5 0zM65.88 582.05a1.25 1.25 0 1 0 2.5 0a1.25 1.25 0 1 0 -2.5 0zM66.15 578.93a1.25 1.25 0 1 0 2.5 0a1.25 1.25 0 1 0 -2.5 0zM66.08 569.45a1.25 1.25 0 1 0 2.5 0a1.25 1.25 0 1 0 -2.5 0zM69.02 607.71a1.25 1.25 0 1 0 2.5 0a1.25 1.25 0 1 0 -2.5 0zM64.26 581.97a1.25 1.25 0 1 0 2.5 0a1.25 1.25 0 1 0 -2.5 0zM70 580.72a1.25 1.25 0 1 0 2.5 0a1.25 1.25 0 1 0 -2.5 0zM67.03 556.25a1.25 1.25 0 1 0 2.5 0a1.25 1.25 0 1 0 -2.5 0zM68.46 588.88a1.25 1.25 0 1 0 2.5 0a1.25 1.25 0 1 0 -2.5 0zM71.81 585.78a1.25 1.25 0 1 0 2.5 0a1.25 1.25 0 1 0 -2.5 0zM71.22 574.78a1.25 1.25 0 1 0 2.5 0a1.25 1.25 0 1 0 -2.5 0zM68.25 553.51a1.25 1.25 0 1 0 2.5 0a1.25 1.25 0 1 0 -2.5 0zM68.7 589.76a1.25 1.25 0 1 0 2.5 0a1.25 1.25 0 1 0 -2.5 0zM69.77 584.74a1.25 1.25 0 1 0 2.5 0a1.25 1.25 0 1 0 -2.5 0zM70.1 573.92a1.25 1.25 0 1 0 2.5 0a1.25 1.25 0 1 0 -2.5 0zM68.35 563.88a1.25 1.25 0 1 0 2.5 0a1.25 1.25 0 1 0 -2.5 0zM67.23 597.55a1.25 1.25 0 1 0 2.5 0a1.25 1.25 0 1 0 -2.5 0zM70.61 588.57a1.25 1.25 0 1 0 2.5 0a1.25 1.25 0 1 0 -2.5 0zM71.76 579.22a1.25 1.25 0 1 0 2.5 0a1.25 1.25 0 1 0 -2.5 0zM68.09 563.92a1.25 1.25 0 1 0 2.5 0a1.25 1.25 0 1 0 -2.5 0zM68.71 590.99a1.25 1.25 0 1 0 2.5 0a1.25 1.25 0 1 0 -2.5 0zM69.91 583.84a1.25 1.25 0 1 0 2.5 0a1.25 1.25 0 1 0 -2.5 0zM64.66 580.12a1.25 1.25 0 1 0 2.5 0a1.25 1.25 0 1 0 -2.5 0zM67.45 566.91a1.25 1.25 0 1 0 2.5 0a1.25 1.25 0 1 0 -2.5 0zM67.79 590.59a1.25 1.25 0 1 0 2.5 0a1.25 1.25 0 1 0 -2.5 0zM64.16 584.12a1.25 1.25 0 1 0 2.5 0a1.25 1.25 0 1 0 -2.5 0zM67.92 578.7a1.25 1.25 0 1 0 2.5 0a1.25 1.25 0 1 0 -2.5 0zM67.07 554a1.25 1.25 0 1 0 2.5 0a1.25 1.25 0 1 0 -2.5 0zM68.25 614.18a1.25 1.25 0 1 0 2.5 0a1.25 1.25 0 1 0 -2.5 0zM68.25 552.47a1.25 1.25 0 1 0 2.5 0a1.25 1.25 0 1 0 -2.5 0z" fill="#111"/>
<line x1="87.1" y1="544.22" x2="87.1" y2="596.58" stroke="#0a0a0a" stroke-width="1.4" />
<line x1="83.7" y1="544.22" x2="90.5" y2="544.22" stroke="#0a0a0a" stroke-width="1.4" />
<line x1="83.7" y1="596.58" x2="90.5" y2="596.58" stroke="#0a0a0a" stroke-width="1.4" />
<rect x="81.3" y="562.59" width="11.6" height="12.43" fill="#b0b0b0" stroke="#0a0a0a" stroke-width="1.4"/>
<line x1="81.3" y1="568.09" x2="92.9" y2="568.09" stroke="#0a0a0a" stroke-width="1.4" />
<path d="M84.33 580.67a1.25 1.25 0 1 0 2.5 0a1.25 1.25 0 1 0 -2.5 0zM83.74 573.39a1.25 1.25 0 1 0 2.5 0a1.25 1.25 0 1 0 -2.5 0zM87.56 562.81a1.25 1.25 0 1 0 2.5 0a1.25 1.25 0 1 0 -2.5 0zM86.93 560.39a1.25 1.25 0 1 0 2.5 0a1.25 1.25 0 1 0 -2.5 0zM86 585.63a1.25 1.25 0 1 0 2.5 0a1.25 1.25 0 1 0 -2.5 0zM83.82 572.11a1.25 1.25 0 1 0 2.5 0a1.25 1.25 0 1 0 -2.5 0zM89.4 564.42a1.25 1.25 0 1 0 2.5 0a1.25 1.25 0 1 0 -2.5 0zM86.67 561.32a1.25 1.25 0 1 0 2.5 0a1.25 1.25 0 1 0 -2.5 0zM86.03 579.55a1.25 1.25 0 1 0 2.5 0a1.25 1.25 0 1 0 -2.5 0zM83.33 570.29a1.25 1.25 0 1 0 2.5 0a1.25 1.25 0 1 0 -2.5 0zM87.85 563.71a1.25 1.25 0 1 0 2.5 0a1.25 1.25 0 1 0 -2.5 0zM86.53 557.22a1.25 1.25 0 1 0 2.5 0a1.25 1.25 0 1 0 -2.5 0zM88.21 577.66a1.25 1.25 0 1 0 2.5 0a1.25 1.25 0 1 0 -2.5 0zM83.6 569.34a1.25 1.25 0 1 0 2.5 0a1.25 1.25 0 1 0 -2.5 0zM88.03 566.87a1.25 1.25 0 1 0 2.5 0a1.25 1.25 0 1 0 -2.5 0zM86.89 560.55a1.25 1.25 0 1 0 2.5 0a1.25 1.25 0 1 0 -2.5 0zM85.53 576.08a1.25 1.25 0 1 0 2.5 0a1.25 1.25 0 1 0 -2.5 0zM85.16 573.47a1.25 1.25 0 1 0 2.5 0a1.25 1.25 0 1 0 -2.5 0zM89.6 564.43a1.25 1.25 0 1 0 2.5 0a1.25 1.25 0 1 0 -2.5 0zM85.35 562.01a1.25 1.25 0 1 0 2.5 0a1.25 1.25 0 1 0 -2.5 0zM86.25 595.59a1.25 1.25 0 1 0 2.5 0a1.25 1.25 0 1 0 -2.5 0zM82.11 574.04a1.25 1.25 0 1 0 2.5 0a1.25 1.25 0 1 0 -2.5 0zM85.85 596.58a1.25 1.25 0 1 0 2.5 0a1.25 1.25 0 1 0 -2.5 0zM85.85 544.22a1.25 1.25 0 1 0 2.5 0a1.25 1.25 0 1 0 -2.5 0z" fill="#111"/>
<line x1="104.5" y1="534.1" x2="104.5" y2="624.63" stroke="#0a0a0a" stroke-width="1.4" />
<line x1="101.1" y1="534.1" x2="107.9" y2="534.1" stroke="#0a0a0a" stroke-width="1.4" />
<line x1="101.1" y1="624.63" x2="107.9" y2="624.63" stroke="#0a0a0a" stroke-width="1.4" />
<rect x="98.7" y="553.68" width="11.6" height="25.52" fill="#fcfcfc" stroke="#0a0a0a" stroke-width="1.4"/>
<line x1="98.7" y1="570.29" x2="110.3" y2="570.29" stroke="#0a0a0a" stroke-width="1.4" />
<path d="M101.7 579.49a1.25 1.25 0 1 0 2.5 0a1.25 1.25 0 1 0 -2.5 0zM105.19 571.33a1.25 1.25 0 1 0 2.5 0a1.25 1.25 0 1 0 -2.5 0zM106.85 553.72a1.25 1.25 0 1 0 2.5 0a1.25 1.25 0 1 0 -2.5 0zM104.48 551.03a1.25 1.25 0 1 0 2.5 0a1.25 1.25 0 1 0 -2.5 0zM104.66 581.39a1.25 1.25 0 1 0 2.5 0a1.25 1.25 0 1 0 -2.5 0zM104.62 578.92a1.25 1.25 0 1 0 2.5 0a1.25 1.25 0 1 0 -2.5 0zM102.2 564a1.25 1.25 0 1 0 2.5 0a1.25 1.25 0 1 0 -2.5 0zM102.65 550.99a1.25 1.25 0 1 0 2.5 0a1.25 1.25 0 1 0 -2.5 0zM104 581.06a1.25 1.25 0 1 0 2.5 0a1.25 1.25 0 1 0 -2.5 0zM107.05 576.07a1.25 1.25 0 1 0 2.5 0a1.25 1.25 0 1 0 -2.5 0zM107.13 568.24a1.25 1.25 0 1 0 2.5 0a1.25 1.25 0 1 0 -2.5 0zM103.26 552.53a1.25 1.25 0 1 0 2.5 0a1.25 1.25 0 1 0 -2.5 0zM104 586.3a1.25 1.25 0 1 0 2.5 0a1.25 1.25 0 1 0 -2.5 0zM99.49 575.35a1.25 1.25 0 1 0 2.5 0a1.25 1.25 0 1 0 -2.5 0zM102.19 562.43a1.25 1.25 0 1 0 2.5 0a1.25 1.25 0 1 0 -2.5 0zM101.7 536.85a1.25 1.25 0 1 0 2.5 0a1.25 1.25 0 1 0 -2.5 0zM101.95 581.55a1.25 1.25 0 1 0 2.5 0a1.25 1.25 0 1 0 -2.5 0zM102.51 578.93a1.25 1.25 0 1 0 2.5 0a1.25 1.25 0 1 0 -2.5 0zM105.48 556.81a1.25 1.25 0 1 0 2.5 0a1.25 1.25 0 1 0 -2.5 0zM104.74 553.62a1.25 1.25 0 1 0 2.5 0a1.25 1.25 0 1 0 -2.5 0zM105.18 579.31a1.25 1.25 0 1 0 2.5 0a1.25 1.25 0 1 0 -2.5 0zM105.32 576.91a1.25 1.25 0 1 0 2.5 0a1.25 1.25 0 1 0 -2.5 0zM101.91 555.37a1.25 1.25 0 1 0 2.5 0a1.25 1.25 0 1 0 -2.5 0zM104.05 551.8a1.25 1.25 0 1 0 2.5 0a1.25 1.25 0 1 0 -2.5 0zM102.71 621.23a1.25 1.25 0 1 0 2.5 0a1.25 1.25 0 1 0 -2.5 0zM101.72 572.81a1.25 1.25 0 1 0 2.5 0a1.25 1.25 0 1 0 -2.5 0zM99.11 565.71a1.25 1.25 0 1 0 2.5 0a1.25 1.25 0 1 0 -2.5 0zM102.76 541.86a1.25 1.25 0 1 0 2.5 0a1.25 1.25 0 1 0 -2.5 0zM101.77 618.03a1.25 1.25 0 1 0 2.5 0a1.25 1.25 0 1 0 -2.5 0zM101.03 578.98a1.25 1.25 0 1 0 2.5 0a1.25 1.25 0 1 0 -2.5 0zM107.07 562.4a1.25 1.25 0 1 0 2.5 0a1.25 1.25 0 1 0 -2.5 0zM101.59 535.69a1.25 1.25 0 1 0 2.5 0a1.25 1.25 0 1 0 -2.5 0zM103.24 587.41a1.25 1.25 0 1 0 2.5 0a1.25 1.25 0 1 0 -2.5 0zM106.83 574.8a1.25 1.25 0 1 0 2.5 0a1.25 1.25 0 1 0 -2.5 0zM105.78 567.25a1.25 1.25 0 1 0 2.5 0a1.25 1.25 0 1 0 -2.5 0zM104.23 542.33a1.25 1.25 0 1 0 2.5 0a1.25 1.25 0 1 0 -2.5 0zM103.25 624.63a1.25 1.25 0 1 0 2.5 0a1.25 1.25 0 1 0 -2.5 0zM103.25 534.1a1.25 1.25 0 1 0 2.5 0a1.25 1.25 0 1 0 -2.5 0z" fill="#111"/>
<line x1="136.6" y1="516.5" x2="136.6" y2="599.11" stroke="#0a0a0a" stroke-width="1.4" />
<line x1="133.2" y1="516.5" x2="140" y2="516.5" stroke="#0a0a0a" stroke-width="1.4" />
<line x1="133.2" y1="599.11" x2="140" y2="599.11" stroke="#0a0a0a" stroke-width="1.4" />
<rect x="130.8" y="543.01" width="11.6" height="31.24" fill="#363636" stroke="#0a0a0a" stroke-width="1.4"/>
<line x1="130.8" y1="561.6" x2="142.4" y2="561.6" stroke="#0a0a0a" stroke-width="1.4" />
<path d="M135.53 591.75a1.25 1.25 0 1 0 2.5 0a1.25 1.25 0 1 0 -2.5 0zM133.84 570.1a1.25 1.25 0 1 0 2.5 0a1.25 1.25 0 1 0 -2.5 0zM137.71 554.87a1.25 1.25 0 1 0 2.5 0a1.25 1.25 0 1 0 -2.5 0zM134.09 542.74a1.25 1.25 0 1 0 2.5 0a1.25 1.25 0 1 0 -2.5 0zM135.36 575.59a1.25 1.25 0 1 0 2.5 0a1.25 1.25 0 1 0 -2.5 0zM131.46 573.43a1.25 1.25 0 1 0 2.5 0a1.25 1.25 0 1 0 -2.5 0zM133.89 551.33a1.25 1.25 0 1 0 2.5 0a1.25 1.25 0 1 0 -2.5 0zM134.65 517.43a1.25 1.25 0 1 0 2.5 0a1.25 1.25 0 1 0 -2.5 0zM136.08 594.14a1.25 1.25 0 1 0 2.5 0a1.25 1.25 0 1 0 -2.5 0zM131.98 573.19a1.25 1.25 0 1 0 2.5 0a1.25 1.25 0 1 0 -2.5 0zM137.1 552.33a1.25 1.25 0 1 0 2.5 0a1.25 1.25 0 1 0 -2.5 0zM135.29 536.79a1.25 1.25 0 1 0 2.5 0a1.25 1.25 0 1 0 -2.5 0zM134.23 576.07a1.25 1.25 0 1 0 2.5 0a1.25 1.25 0 1 0 -2.5 0zM137.42 565.72a1.25 1.25 0 1 0 2.5 0a1.25 1.25 0 1 0 -2.5 0zM136.72 545.85a1.25 1.25 0 1 0 2.5 0a1.25 1.25 0 1 0 -2.5 0zM135.99 542.42a1.25 1.25 0 1 0 2.5 0a1.25 1.25 0 1 0 -2.5 0zM135.02 592.45a1.25 1.25 0 1 0 2.5 0a1.25 1.25 0 1 0 -2.5 0zM137.34 569.53a1.25 1.25 0 1 0 2.5 0a1.25 1.25 0 1 0 -2.5 0zM133.24 557.9a1.25 1.25 0 1 0 2.5 0a1.25 1.25 0 1 0 -2.5 0zM136.51 540.9a1.25 1.25 0 1 0 2.5 0a1.25 1.25 0 1 0 -2.5 0zM136.26 575.1a1.25 1.25 0 1 0 2.5 0a1.25 1.25 0 1 0 -2.5 0zM134.48 570.12a1.25 1.25 0 1 0 2.5 0a1.25 1.25 0 1 0 -2.5 0zM135.41 543.15a1.25 1.25 0 1 0 2.5 0a1.25 1.25 0 1 0 -2.5 0zM134.54 541.11a1.25 1.25 0 1 0 2.5 0a1.25 1.25 0 1 0 -2.5 0zM133.73 591.2a1.25 1.25 0 1 0 2.5 0a1.25 1.25 0 1 0 -2.5 0zM135.14 572.96a1.25 1.25 0 1 0 2.5 0a1.25 1.25 0 1 0 -2.5 0zM138.19 546.37a1.25 1.25 0 1 0 2.5 0a1.25 1.25 0 1 0 -2.5 0zM133.01 520.45a1.25 1.25 0 1 0 2.5 0a1.25 1.25 0 1 0 -2.5 0zM135.22 574.33a1.25 1.25 0 1 0 2.5 0a1.25 1.25 0 1 0 -2.5 0zM139.3 571.85a1.25 1.25 0 1 0 2.5 0a1.25 1.25 0 1 0 -2.5 0zM138.94 550.76a1.25 1.25 0 1 0 2.5 0a1.25 1.25 0 1 0 -2.5 0zM135.8 538.53a1.25 1.25 0 1 0 2.5 0a1.25 1.25 0 1 0 -2.5 0zM134.67 593.44a1.25 1.25 0 1 0 2.5 0a1.25 1.25 0 1 0 -2.5 0zM139.07 564.41a1.25 1.25 0 1 0 2.5 0a1.25 1.25 0 1 0 -2.5 0zM136.15 559.63a1.25 1.25 0 1 0 2.5 0a1.25 1.25 0 1 0 -2.5 0zM135.58 531.8a1.25 1.25 0 1 0 2.5 0a1.25 1.25 0 1 0 -2.5 0zM135 575.85a1.25 1.25 0 1 0 2.5 0a1.25 1.25 0 1 0 -2.5 0zM133.3 571.67a1.25 1.25 0 1 0 2.5 0a1.25 1.25 0 1 0 -2.5 0zM136.62 550.46a1.25 1.25 0 1 0 2.5 0a1.25 1.25 0 1 0 -2.5 0zM135.73 541.5a1.25 1.25 0 1 0 2.5 0a1.25 1.25 0 1 0 -2.5 0zM134.7 574.26a1.25 1.25 0 1 0 2.5 0a1.25 1.25 0 1 0 -2.5 0zM133.78 571.91a1.25 1.25 0 1 0 2.5 0a1.25 1.25 0 1 0 -2.5 0zM137.82 557.82a1.25 1.25 0 1 0 2.5 0a1.25 1.25 0 1 0 -2.5 0zM136.59 534.03a1.25 1.25 0 1 0 2.5 0a1.25 1.25 0 1 0 -2.5 0zM136.1 574.42a1.25 1.25 0 1 0 2.5 0a1.25 1.25 0 1 0 -2.5 0zM136.51 567.29a1.25 1.25 0 1 0 2.5 0a1.25 1.25 0 1 0 -2.5 0zM132.54 559.91a1.25 1.25 0 1 0 2.5 0a1.25 1.25 0 1 0 -2.5 0zM135.9 529.22a1.25 1.25 0 1 0 2.5 0a1.25 1.25 0 1 0 -2.5 0zM135.18 579.24a1.25 1.25 0 1 0 2.5 0a1.25 1.25 0 1 0 -2.5 0zM133.78 562.19a1.25 1.25 0 1 0 2.5 0a1.25 1.25 0 1 0 -2.5 0zM134.16 551.07a1.25 1.25 0 1 0 2.5 0a1.25 1.25 0 1 0 -2.5 0zM136.13 537.53a1.25 1.25 0 1 0 2.5 0a1.25 1.25 0 1 0 -2.5 0zM136.23 593.37a1.25 1.25 0 1 0 2.5 0a1.25 1.25 0 1 0 -2.5 0zM137.25 571.76a1.25 1.25 0 1 0 2.5 0a1.25 1.25 0 1 0 -2.5 0zM131.22 557.81a1.25 1.25 0 1 0 2.5 0a1.25 1.25 0 1 0 -2.5 0zM135.33 521.01a1.25 1.25 0 1 0 2.5 0a1.25 1.25 0 1 0 -2.5 0zM135.76 579.55a1.25 1.25 0 1 0 2.5 0a1.25 1.25 0 1 0 -2.5 0zM135.02 563.08a1.25 1.25 0 1 0 2.5 0a1.25 1.25 0 1 0 -2.5 0zM131.3 558.58a1.25 1.25 0 1 0 2.5 0a1.25 1.25 0 1 0 -2.5 0zM134.49 533.93a1.25 1.25 0 1 0 2.5 0a1.25 1.25 0 1 0 -2.5 0zM135.69 585.4a1.25 1.25 0 1 0 2.5 0a1.25 1.25 0 1 0 -2.5 0zM134.27 566.38a1.25 1.25 0 1 0 2.5 0a1.25 1.25 0 1 0 -2.5 0zM132.39 552.22a1.25 1.25 0 1 0 2.5 0a1.25 1.25 0 1 0 -2.5 0zM135.13 540.27a1.25 1.25 0 1 0 2.5 0a1.25 1.25 0 1 0 -2.5 0zM135.75 581.94a1.25 1.25 0 1 0 2.5 0a1.25 1.25 0 1 0 -2.5 0zM137.9 568.05a1.25 1.25 0 1 0 2.5 0a1.25 1.25 0 1 0 -2.5 0zM132.82 543.63a1.25 1.25 0 1 0 2.5 0a1.25 1.25 0 1 0 -2.5 0zM135.15 542.37a1.25 1.25 0 1 0 2.5 0a1.25 1.25 0 1 0 -2.5 0zM136.4 596.62a1.25 1.25 0 1 0 2.5 0a1.25 1.25 0 1 0 -2.5 0zM138.91 573.57a1.25 1.25 0 1 0 2.5 0a1.25 1.25 0 1 0 -2.5 0zM135.35 599.11a1.25 1.25 0 1 0 2.5 0a1.25 1.25 0 1 0 -2.5 0zM135.35 516.5a1.25 1.25 0 1 0 2.5 0a1.25 1.25 0 1 0 -2.5 0z" fill="#111"/>
<line x1="153.4" y1="510.78" x2="153.4" y2="572.27" stroke="#0a0a0a" stroke-width="1.4" />
<line x1="150" y1="510.78" x2="156.8" y2="510.78" stroke="#0a0a0a" stroke-width="1.4" />
<line x1="150" y1="572.27" x2="156.8" y2="572.27" stroke="#0a0a0a" stroke-width="1.4" />
<rect x="147.6" y="531.57" width="11.6" height="22.66" fill="#b0b0b0" stroke="#0a0a0a" stroke-width="1.4"/>
<line x1="147.6" y1="542.02" x2="159.2" y2="542.02" stroke="#0a0a0a" stroke-width="1.4" />
<path d="M151.99 557.51a1.25 1.25 0 1 0 2.5 0a1.25 1.25 0 1 0 -2.5 0zM153.16 543.19a1.25 1.25 0 1 0 2.5 0a1.25 1.25 0 1 0 -2.5 0zM149.31 533.4a1.25 1.25 0 1 0 2.5 0a1.25 1.25 0 1 0 -2.5 0zM152.31 518.1a1.25 1.25 0 1 0 2.5 0a1.25 1.25 0 1 0 -2.5 0zM153.08 567.59a1.25 1.25 0 1 0 2.5 0a1.25 1.25 0 1 0 -2.5 0zM149.5 544.11a1.25 1.25 0 1 0 2.5 0a1.25 1.25 0 1 0 -2.5 0zM151.31 539.74a1.25 1.25 0 1 0 2.5 0a1.25 1.25 0 1 0 -2.5 0zM151.8 525.21a1.25 1.25 0 1 0 2.5 0a1.25 1.25 0 1 0 -2.5 0zM152.47 555.69a1.25 1.25 0 1 0 2.5 0a1.25 1.25 0 1 0 -2.5 0zM155.47 545.38a1.25 1.25 0 1 0 2.5 0a1.25 1.25 0 1 0 -2.5 0zM152.67 541.59a1.25 1.25 0 1 0 2.5 0a1.25 1.25 0 1 0 -2.5 0zM153.87 518.96a1.25 1.25 0 1 0 2.5 0a1.25 1.25 0 1 0 -2.5 0zM152.57 554.61a1.25 1.25 0 1 0 2.5 0a1.25 1.25 0 1 0 -2.5 0zM152.57 546.91a1.25 1.25 0 1 0 2.5 0a1.25 1.25 0 1 0 -2.5 0zM150.53 535.47a1.25 1.25 0 1 0 2.5 0a1.25 1.25 0 1 0 -2.5 0zM151.3 527.21a1.25 1.25 0 1 0 2.5 0a1.25 1.25 0 1 0 -2.5 0zM151.67 562.74a1.25 1.25 0 1 0 2.5 0a1.25 1.25 0 1 0 -2.5 0zM151.64 548.77a1.25 1.25 0 1 0 2.5 0a1.25 1.25 0 1 0 -2.5 0zM153.14 541.78a1.25 1.25 0 1 0 2.5 0a1.25 1.25 0 1 0 -2.5 0zM152.3 525.82a1.25 1.25 0 1 0 2.5 0a1.25 1.25 0 1 0 -2.5 0zM153.72 565.76a1.25 1.25 0 1 0 2.5 0a1.25 1.25 0 1 0 -2.5 0zM149.47 548.63a1.25 1.25 0 1 0 2.5 0a1.25 1.25 0 1 0 -2.5 0zM148.87 537.07a1.25 1.25 0 1 0 2.5 0a1.25 1.25 0 1 0 -2.5 0zM151.78 531.05a1.25 1.25 0 1 0 2.5 0a1.25 1.25 0 1 0 -2.5 0zM152.15 572.27a1.25 1.25 0 1 0 2.5 0a1.25 1.25 0 1 0 -2.5 0zM152.15 510.78a1.25 1.25 0 1 0 2.5 0a1.25 1.25 0 1 0 -2.5 0z" fill="#111"/>
<line x1="171" y1="476.68" x2="171" y2="604.83" stroke="#0a0a0a" stroke-width="1.4" />
<line x1="167.6" y1="476.68" x2="174.4" y2="476.68" stroke="#0a0a0a" stroke-width="1.4" />
<line x1="167.6" y1="604.83" x2="174.4" y2="604.83" stroke="#0a0a0a" stroke-width="1.4" />
<rect x="165.2" y="522.88" width="11.6" height="40.7" fill="#fcfcfc" stroke="#0a0a0a" stroke-width="1.4"/>
<line x1="165.2" y1="540.7" x2="176.8" y2="540.7" stroke="#0a0a0a" stroke-width="1.4" />
<path d="M169.92 573.07a1.25 1.25 0 1 0 2.5 0a1.25 1.25 0 1 0 -2.5 0zM165.91 551.91a1.25 1.25 0 1 0 2.5 0a1.25 1.25 0 1 0 -2.5 0zM166.26 529.36a1.25 1.25 0 1 0 2.5 0a1.25 1.25 0 1 0 -2.5 0zM169.94 496.44a1.25 1.25 0 1 0 2.5 0a1.25 1.25 0 1 0 -2.5 0zM168.66 563.8a1.25 1.25 0 1 0 2.5 0a1.25 1.25 0 1 0 -2.5 0zM168.73 552.05a1.25 1.25 0 1 0 2.5 0a1.25 1.25 0 1 0 -2.5 0zM166.71 523.76a1.25 1.25 0 1 0 2.5 0a1.25 1.25 0 1 0 -2.5 0zM171.26 487.88a1.25 1.25 0 1 0 2.5 0a1.25 1.25 0 1 0 -2.5 0zM169.71 592.12a1.25 1.25 0 1 0 2.5 0a1.25 1.25 0 1 0 -2.5 0zM173.77 559.15a1.25 1.25 0 1 0 2.5 0a1.25 1.25 0 1 0 -2.5 0zM173.56 531.93a1.25 1.25 0 1 0 2.5 0a1.25 1.25 0 1 0 -2.5 0zM170.58 483.43a1.25 1.25 0 1 0 2.5 0a1.25 1.25 0 1 0 -2.5 0zM171.16 599.82a1.25 1.25 0 1 0 2.5 0a1.25 1.25 0 1 0 -2.5 0zM168.5 562.08a1.25 1.25 0 1 0 2.5 0a1.25 1.25 0 1 0 -2.5 0zM166.9 527.22a1.25 1.25 0 1 0 2.5 0a1.25 1.25 0 1 0 -2.5 0zM169.48 484.93a1.25 1.25 0 1 0 2.5 0a1.25 1.25 0 1 0 -2.5 0zM171.44 564.83a1.25 1.25 0 1 0 2.5 0a1.25 1.25 0 1 0 -2.5 0zM173.26 552.09a1.25 1.25 0 1 0 2.5 0a1.25 1.25 0 1 0 -2.5 0zM167.77 536.99a1.25 1.25 0 1 0 2.5 0a1.25 1.25 0 1 0 -2.5 0zM169.64 509.32a1.25 1.25 0 1 0 2.5 0a1.25 1.25 0 1 0 -2.5 0zM169.98 565.5a1.25 1.25 0 1 0 2.5 0a1.25 1.25 0 1 0 -2.5 0zM173.39 559.89a1.25 1.25 0 1 0 2.5 0a1.25 1.25 0 1 0 -2.5 0zM173.05 528.59a1.25 1.25 0 1 0 2.5 0a1.25 1.25 0 1 0 -2.5 0zM169.85 521a1.25 1.25 0 1 0 2.5 0a1.25 1.25 0 1 0 -2.5 0zM169.3 576.77a1.25 1.25 0 1 0 2.5 0a1.25 1.25 0 1 0 -2.5 0zM168.58 549.02a1.25 1.25 0 1 0 2.5 0a1.25 1.25 0 1 0 -2.5 0zM170.21 525.14a1.25 1.25 0 1 0 2.5 0a1.25 1.25 0 1 0 -2.5 0zM170.07 505.55a1.25 1.25 0 1 0 2.5 0a1.25 1.25 0 1 0 -2.5 0zM169.46 604.31a1.25 1.25 0 1 0 2.5 0a1.25 1.25 0 1 0 -2.5 0zM168.87 549.17a1.25 1.25 0 1 0 2.5 0a1.25 1.25 0 1 0 -2.5 0zM167.79 526.49a1.25 1.25 0 1 0 2.5 0a1.25 1.25 0 1 0 -2.5 0zM168.97 477.47a1.25 1.25 0 1 0 2.5 0a1.25 1.25 0 1 0 -2.5 0zM169.34 589.03a1.25 1.25 0 1 0 2.5 0a1.25 1.25 0 1 0 -2.5 0zM167.05 553.46a1.25 1.25 0 1 0 2.5 0a1.25 1.25 0 1 0 -2.5 0zM165.98 527.45a1.25 1.25 0 1 0 2.5 0a1.25 1.25 0 1 0 -2.5 0zM169.72 490.57a1.25 1.25 0 1 0 2.5 0a1.25 1.25 0 1 0 -2.5 0zM171.07 603.65a1.25 1.25 0 1 0 2.5 0a1.25 1.25 0 1 0 -2.5 0zM171.12 550.18a1.25 1.25 0 1 0 2.5 0a1.25 1.25 0 1 0 -2.5 0zM165.59 535.13a1.25 1.25 0 1 0 2.5 0a1.25 1.25 0 1 0 -2.5 0zM170.51 522.78a1.25 1.25 0 1 0 2.5 0a1.25 1.25 0 1 0 -2.5 0zM169.75 604.83a1.25 1.25 0 1 0 2.5 0a1.25 1.25 0 1 0 -2.5 0zM169.75 476.68a1.25 1.25 0 1 0 2.5 0a1.25 1.25 0 1 0 -2.5 0z" fill="#111"/>
<line x1="202" y1="506.49" x2="202" y2="588.22" stroke="#0a0a0a" stroke-width="1.4" />
<line x1="198.6" y1="506.49" x2="205.4" y2="506.49" stroke="#0a0a0a" stroke-width="1.4" />
<line x1="198.6" y1="588.22" x2="205.4" y2="588.22" stroke="#0a0a0a" stroke-width="1.4" />
<rect x="196.2" y="539.6" width="11.6" height="18.15" fill="#363636" stroke="#0a0a0a" stroke-width="1.4"/>
<line x1="196.2" y1="548.62" x2="207.8" y2="548.62" stroke="#0a0a0a" stroke-width="1.4" />
<path d="M201.79 564.48a1.25 1.25 0 1 0 2.5 0a1.25 1.25 0 1 0 -2.5 0zM204.05 553.07a1.25 1.25 0 1 0 2.5 0a1.25 1.25 0 1 0 -2.5 0zM198.47 547.43a1.25 1.25 0 1 0 2.5 0a1.25 1.25 0 1 0 -2.5 0zM200.82 524.22a1.25 1.25 0 1 0 2.5 0a1.25 1.25 0 1 0 -2.5 0zM200.76 562.47a1.25 1.25 0 1 0 2.5 0a1.25 1.25 0 1 0 -2.5 0zM199.56 556.78a1.25 1.25 0 1 0 2.5 0a1.25 1.25 0 1 0 -2.5 0zM201.45 546.6a1.25 1.25 0 1 0 2.5 0a1.25 1.25 0 1 0 -2.5 0zM201.12 526.83a1.25 1.25 0 1 0 2.5 0a1.25 1.25 0 1 0 -2.5 0zM201.99 565.73a1.25 1.25 0 1 0 2.5 0a1.25 1.25 0 1 0 -2.5 0zM204.4 556.52a1.25 1.25 0 1 0 2.5 0a1.25 1.25 0 1 0 -2.5 0zM197.82 546.42a1.25 1.25 0 1 0 2.5 0a1.25 1.25 0 1 0 -2.5 0zM199.54 539.11a1.25 1.25 0 1 0 2.5 0a1.25 1.25 0 1 0 -2.5 0zM199.32 577.33a1.25 1.25 0 1 0 2.5 0a1.25 1.25 0 1 0 -2.5 0zM198.78 554.08a1.25 1.25 0 1 0 2.5 0a1.25 1.25 0 1 0 -2.5 0zM201.96 548.52a1.25 1.25 0 1 0 2.5 0a1.25 1.25 0 1 0 -2.5 0zM199.96 527.85a1.25 1.25 0 1 0 2.5 0a1.25 1.25 0 1 0 -2.5 0zM201.83 564.81a1.25 1.25 0 1 0 2.5 0a1.25 1.25 0 1 0 -2.5 0zM202.7 549.19a1.25 1.25 0 1 0 2.5 0a1.25 1.25 0 1 0 -2.5 0zM204.12 546.38a1.25 1.25 0 1 0 2.5 0a1.25 1.25 0 1 0 -2.5 0zM199.82 539.48a1.25 1.25 0 1 0 2.5 0a1.25 1.25 0 1 0 -2.5 0zM200.56 560.04a1.25 1.25 0 1 0 2.5 0a1.25 1.25 0 1 0 -2.5 0zM203.08 557.22a1.25 1.25 0 1 0 2.5 0a1.25 1.25 0 1 0 -2.5 0zM201.18 548.51a1.25 1.25 0 1 0 2.5 0a1.25 1.25 0 1 0 -2.5 0zM201.14 509.93a1.25 1.25 0 1 0 2.5 0a1.25 1.25 0 1 0 -2.5 0zM201.23 570.2a1.25 1.25 0 1 0 2.5 0a1.25 1.25 0 1 0 -2.5 0zM201.93 553.12a1.25 1.25 0 1 0 2.5 0a1.25 1.25 0 1 0 -2.5 0zM198.03 541.28a1.25 1.25 0 1 0 2.5 0a1.25 1.25 0 1 0 -2.5 0zM200.66 535.59a1.25 1.25 0 1 0 2.5 0a1.25 1.25 0 1 0 -2.5 0zM201.03 582.42a1.25 1.25 0 1 0 2.5 0a1.25 1.25 0 1 0 -2.5 0zM202.55 550.6a1.25 1.25 0 1 0 2.5 0a1.25 1.25 0 1 0 -2.5 0zM203.63 548.56a1.25 1.25 0 1 0 2.5 0a1.25 1.25 0 1 0 -2.5 0zM199.26 520.1a1.25 1.25 0 1 0 2.5 0a1.25 1.25 0 1 0 -2.5 0zM201.08 565.06a1.25 1.25 0 1 0 2.5 0a1.25 1.25 0 1 0 -2.5 0zM197.45 555.69a1.25 1.25 0 1 0 2.5 0a1.25 1.25 0 1 0 -2.5 0zM196.9 546.52a1.25 1.25 0 1 0 2.5 0a1.25 1.25 0 1 0 -2.5 0zM200.75 534.96a1.25 1.25 0 1 0 2.5 0a1.25 1.25 0 1 0 -2.5 0zM199.32 580.27a1.25 1.25 0 1 0 2.5 0a1.25 1.25 0 1 0 -2.5 0zM198.8 551.25a1.25 1.25 0 1 0 2.5 0a1.25 1.25 0 1 0 -2.5 0zM200.22 543.62a1.25 1.25 0 1 0 2.5 0a1.25 1.25 0 1 0 -2.5 0zM200.03 518.01a1.25 1.25 0 1 0 2.5 0a1.25 1.25 0 1 0 -2.5 0zM200.64 571.47a1.25 1.25 0 1 0 2.5 0a1.25 1.25 0 1 0 -2.5 0zM198.39 548.94a1.25 1.25 0 1 0 2.5 0a1.25 1.25 0 1 0 -2.5 0zM196.7 540.68a1.25 1.25 0 1 0 2.5 0a1.25 1.25 0 1 0 -2.5 0zM200.88 536.66a1.25 1.25 0 1 0 2.5 0a1.25 1.25 0 1 0 -2.5 0zM202.28 585.25a1.25 1.25 0 1 0 2.5 0a1.25 1.25 0 1 0 -2.5 0zM199.3 550.94a1.25 1.25 0 1 0 2.5 0a1.25 1.25 0 1 0 -2.5 0zM199.32 540.68a1.25 1.25 0 1 0 2.5 0a1.25 1.25 0 1 0 -2.5 0zM201.85 537.08a1.25 1.25 0 1 0 2.5 0a1.25 1.25 0 1 0 -2.5 0zM200.03 573.49a1.25 1.25 0 1 0 2.5 0a1.25 1.25 0 1 0 -2.5 0zM204.75 551.68a1.25 1.25 0 1 0 2.5 0a1.25 1.25 0 1 0 -2.5 0zM203.59 544.39a1.25 1.25 0 1 0 2.5 0a1.25 1.25 0 1 0 -2.5 0zM201.37 522.28a1.25 1.25 0 1 0 2.5 0a1.25 1.25 0 1 0 -2.5 0zM199.97 574.81a1.25 1.25 0 1 0 2.5 0a1.25 1.25 0 1 0 -2.5 0zM199.14 552.54a1.25 1.25 0 1 0 2.5 0a1.25 1.25 0 1 0 -2.5 0zM201.77 546.71a1.25 1.25 0 1 0 2.5 0a1.25 1.25 0 1 0 -2.5 0zM201.19 539.27a1.25 1.25 0 1 0 2.5 0a1.25 1.25 0 1 0 -2.5 0zM200.47 557.8a1.25 1.25 0 1 0 2.5 0a1.25 1.25 0 1 0 -2.5 0zM204.33 556.78a1.25 1.25 0 1 0 2.5 0a1.25 1.25 0 1 0 -2.5 0zM197.76 545.51a1.25 1.25 0 1 0 2.5 0a1.25 1.25 0 1 0 -2.5 0zM202.13 539.54a1.25 1.25 0 1 0 2.5 0a1.25 1.25 0 1 0 -2.5 0zM200.75 588.22a1.25 1.25 0 1 0 2.5 0a1.25 1.25 0 1 0 -2.5 0zM200.75 506.49a1.25 1.25 0 1 0 2.5 0a1.25 1.25 0 1 0 -2.5 0z" fill="#111"/>
<line x1="219.4" y1="491.53" x2="219.4" y2="569.52" stroke="#0a0a0a" stroke-width="1.4" />
<line x1="216" y1="491.53" x2="222.8" y2="491.53" stroke="#0a0a0a" stroke-width="1.4" />
<line x1="216" y1="569.52" x2="222.8" y2="569.52" stroke="#0a0a0a" stroke-width="1.4" />
<rect x="213.6" y="512.32" width="11.6" height="25.74" fill="#b0b0b0" stroke="#0a0a0a" stroke-width="1.4"/>
<line x1="213.6" y1="525.41" x2="225.2" y2="525.41" stroke="#0a0a0a" stroke-width="1.4" />
<path d="M218.52 551.91a1.25 1.25 0 1 0 2.5 0a1.25 1.25 0 1 0 -2.5 0zM220.13 529.24a1.25 1.25 0 1 0 2.5 0a1.25 1.25 0 1 0 -2.5 0zM218.91 524.55a1.25 1.25 0 1 0 2.5 0a1.25 1.25 0 1 0 -2.5 0zM218.86 508.96a1.25 1.25 0 1 0 2.5 0a1.25 1.25 0 1 0 -2.5 0zM216.59 563.63a1.25 1.25 0 1 0 2.5 0a1.25 1.25 0 1 0 -2.5 0zM221.22 537.23a1.25 1.25 0 1 0 2.5 0a1.25 1.25 0 1 0 -2.5 0zM221.86 513.44a1.25 1.25 0 1 0 2.5 0a1.25 1.25 0 1 0 -2.5 0zM218.27 511.95a1.25 1.25 0 1 0 2.5 0a1.25 1.25 0 1 0 -2.5 0zM218.58 538.13a1.25 1.25 0 1 0 2.5 0a1.25 1.25 0 1 0 -2.5 0zM220.76 527.34a1.25 1.25 0 1 0 2.5 0a1.25 1.25 0 1 0 -2.5 0zM220.86 517.11a1.25 1.25 0 1 0 2.5 0a1.25 1.25 0 1 0 -2.5 0zM218.05 503.23a1.25 1.25 0 1 0 2.5 0a1.25 1.25 0 1 0 -2.5 0zM218.56 538.54a1.25 1.25 0 1 0 2.5 0a1.25 1.25 0 1 0 -2.5 0zM215.69 528.48a1.25 1.25 0 1 0 2.5 0a1.25 1.25 0 1 0 -2.5 0zM217.51 521.23a1.25 1.25 0 1 0 2.5 0a1.25 1.25 0 1 0 -2.5 0zM218.12 512.3a1.25 1.25 0 1 0 2.5 0a1.25 1.25 0 1 0 -2.5 0zM218.91 555.29a1.25 1.25 0 1 0 2.5 0a1.25 1.25 0 1 0 -2.5 0zM216.65 533.4a1.25 1.25 0 1 0 2.5 0a1.25 1.25 0 1 0 -2.5 0zM218.18 512.79a1.25 1.25 0 1 0 2.5 0a1.25 1.25 0 1 0 -2.5 0zM217.98 496.76a1.25 1.25 0 1 0 2.5 0a1.25 1.25 0 1 0 -2.5 0zM217.99 544.46a1.25 1.25 0 1 0 2.5 0a1.25 1.25 0 1 0 -2.5 0zM220.43 532.54a1.25 1.25 0 1 0 2.5 0a1.25 1.25 0 1 0 -2.5 0zM219.86 520.87a1.25 1.25 0 1 0 2.5 0a1.25 1.25 0 1 0 -2.5 0zM218.54 505.51a1.25 1.25 0 1 0 2.5 0a1.25 1.25 0 1 0 -2.5 0zM218.15 569.52a1.25 1.25 0 1 0 2.5 0a1.25 1.25 0 1 0 -2.5 0zM218.15 491.53a1.25 1.25 0 1 0 2.5 0a1.25 1.25 0 1 0 -2.5 0z" fill="#111"/>
<line x1="237" y1="482.84" x2="237" y2="590.53" stroke="#0a0a0a" stroke-width="1.4" />
<line x1="233.6" y1="482.84" x2="240.4" y2="482.84" stroke="#0a0a0a" stroke-width="1.4" />
<line x1="233.6" y1="590.53" x2="240.4" y2="590.53" stroke="#0a0a0a" stroke-width="1.4" />
<rect x="231.2" y="503.63" width="11.6" height="25.19" fill="#fcfcfc" stroke="#0a0a0a" stroke-width="1.4"/>
<line x1="231.2" y1="516.28" x2="242.8" y2="516.28" stroke="#0a0a0a" stroke-width="1.4" />
<path d="M237.56 529.64a1.25 1.25 0 1 0 2.5 0a1.25 1.25 0 1 0 -2.5 0zM233 518.54a1.25 1.25 0 1 0 2.5 0a1.25 1.25 0 1 0 -2.5 0zM233.26 516.26a1.25 1.25 0 1 0 2.5 0a1.25 1.25 0 1 0 -2.5 0zM235.84 490.88a1.25 1.25 0 1 0 2.5 0a1.25 1.25 0 1 0 -2.5 0zM235.74 545.96a1.25 1.25 0 1 0 2.5 0a1.25 1.25 0 1 0 -2.5 0zM238.23 522.66a1.25 1.25 0 1 0 2.5 0a1.25 1.25 0 1 0 -2.5 0zM235.7 513.95a1.25 1.25 0 1 0 2.5 0a1.25 1.25 0 1 0 -2.5 0zM236.1 500.53a1.25 1.25 0 1 0 2.5 0a1.25 1.25 0 1 0 -2.5 0zM235.12 584.44a1.25 1.25 0 1 0 2.5 0a1.25 1.25 0 1 0 -2.5 0zM233.37 525.26a1.25 1.25 0 1 0 2.5 0a1.25 1.25 0 1 0 -2.5 0zM235.74 507.43a1.25 1.25 0 1 0 2.5 0a1.25 1.25 0 1 0 -2.5 0zM235.5 503.24a1.25 1.25 0 1 0 2.5 0a1.25 1.25 0 1 0 -2.5 0zM235.46 569a1.25 1.25 0 1 0 2.5 0a1.25 1.25 0 1 0 -2.5 0zM238.15 520.08a1.25 1.25 0 1 0 2.5 0a1.25 1.25 0 1 0 -2.5 0zM234.54 508.34a1.25 1.25 0 1 0 2.5 0a1.25 1.25 0 1 0 -2.5 0zM234.21 499.61a1.25 1.25 0 1 0 2.5 0a1.25 1.25 0 1 0 -2.5 0zM236.95 529.57a1.25 1.25 0 1 0 2.5 0a1.25 1.25 0 1 0 -2.5 0zM231.78 517.68a1.25 1.25 0 1 0 2.5 0a1.25 1.25 0 1 0 -2.5 0zM233.77 513.67a1.25 1.25 0 1 0 2.5 0a1.25 1.25 0 1 0 -2.5 0zM234.84 486.39a1.25 1.25 0 1 0 2.5 0a1.25 1.25 0 1 0 -2.5 0zM235.74 578.25a1.25 1.25 0 1 0 2.5 0a1.25 1.25 0 1 0 -2.5 0zM235.42 525.89a1.25 1.25 0 1 0 2.5 0a1.25 1.25 0 1 0 -2.5 0zM237.88 509.56a1.25 1.25 0 1 0 2.5 0a1.25 1.25 0 1 0 -2.5 0zM235.23 491.15a1.25 1.25 0 1 0 2.5 0a1.25 1.25 0 1 0 -2.5 0zM235.07 537.06a1.25 1.25 0 1 0 2.5 0a1.25 1.25 0 1 0 -2.5 0zM238.62 526.87a1.25 1.25 0 1 0 2.5 0a1.25 1.25 0 1 0 -2.5 0zM237.77 507.9a1.25 1.25 0 1 0 2.5 0a1.25 1.25 0 1 0 -2.5 0zM234.27 502.78a1.25 1.25 0 1 0 2.5 0a1.25 1.25 0 1 0 -2.5 0zM236.35 551.91a1.25 1.25 0 1 0 2.5 0a1.25 1.25 0 1 0 -2.5 0zM235.43 527.24a1.25 1.25 0 1 0 2.5 0a1.25 1.25 0 1 0 -2.5 0zM233.56 505.08a1.25 1.25 0 1 0 2.5 0a1.25 1.25 0 1 0 -2.5 0zM235.29 502.57a1.25 1.25 0 1 0 2.5 0a1.25 1.25 0 1 0 -2.5 0zM237.12 574.26a1.25 1.25 0 1 0 2.5 0a1.25 1.25 0 1 0 -2.5 0zM232.88 526.88a1.25 1.25 0 1 0 2.5 0a1.25 1.25 0 1 0 -2.5 0zM234.3 513.15a1.25 1.25 0 1 0 2.5 0a1.25 1.25 0 1 0 -2.5 0zM236.19 497.17a1.25 1.25 0 1 0 2.5 0a1.25 1.25 0 1 0 -2.5 0zM236.45 531.9a1.25 1.25 0 1 0 2.5 0a1.25 1.25 0 1 0 -2.5 0zM237.66 516.59a1.25 1.25 0 1 0 2.5 0a1.25 1.25 0 1 0 -2.5 0zM239.61 514.99a1.25 1.25 0 1 0 2.5 0a1.25 1.25 0 1 0 -2.5 0zM233.76 503.29a1.25 1.25 0 1 0 2.5 0a1.25 1.25 0 1 0 -2.5 0zM235.75 590.53a1.25 1.25 0 1 0 2.5 0a1.25 1.25 0 1 0 -2.5 0zM235.75 482.84a1.25 1.25 0 1 0 2.5 0a1.25 1.25 0 1 0 -2.5 0z" fill="#111"/>
<line x1="267.9" y1="485.48" x2="267.9" y2="581.62" stroke="#0a0a0a" stroke-width="1.4" />
<line x1="264.5" y1="485.48" x2="271.3" y2="485.48" stroke="#0a0a0a" stroke-width="1.4" />
<line x1="264.5" y1="581.62" x2="271.3" y2="581.62" stroke="#0a0a0a" stroke-width="1.4" />
<rect x="262.1" y="519.69" width="11.6" height="23.65" fill="#363636" stroke="#0a0a0a" stroke-width="1.4"/>
<line x1="262.1" y1="532.23" x2="273.7" y2="532.23" stroke="#0a0a0a" stroke-width="1.4" />
<path d="M268.42 568.66a1.25 1.25 0 1 0 2.5 0a1.25 1.25 0 1 0 -2.5 0zM266.11 535.19a1.25 1.25 0 1 0 2.5 0a1.25 1.25 0 1 0 -2.5 0zM267.8 529.77a1.25 1.25 0 1 0 2.5 0a1.25 1.25 0 1 0 -2.5 0zM266.9 519.08a1.25 1.25 0 1 0 2.5 0a1.25 1.25 0 1 0 -2.5 0zM267.54 543.43a1.25 1.25 0 1 0 2.5 0a1.25 1.25 0 1 0 -2.5 0zM269.08 538.91a1.25 1.25 0 1 0 2.5 0a1.25 1.25 0 1 0 -2.5 0zM266.65 523.53a1.25 1.25 0 1 0 2.5 0a1.25 1.25 0 1 0 -2.5 0zM266.15 504.7a1.25 1.25 0 1 0 2.5 0a1.25 1.25 0 1 0 -2.5 0zM266.77 558.77a1.25 1.25 0 1 0 2.5 0a1.25 1.25 0 1 0 -2.5 0zM268.66 538.84a1.25 1.25 0 1 0 2.5 0a1.25 1.25 0 1 0 -2.5 0zM266.07 520.84a1.25 1.25 0 1 0 2.5 0a1.25 1.25 0 1 0 -2.5 0zM266.64 507.1a1.25 1.25 0 1 0 2.5 0a1.25 1.25 0 1 0 -2.5 0zM265.68 546.03a1.25 1.25 0 1 0 2.5 0a1.25 1.25 0 1 0 -2.5 0zM269.82 535.32a1.25 1.25 0 1 0 2.5 0a1.25 1.25 0 1 0 -2.5 0zM268.32 522.52a1.25 1.25 0 1 0 2.5 0a1.25 1.25 0 1 0 -2.5 0zM266.08 494.02a1.25 1.25 0 1 0 2.5 0a1.25 1.25 0 1 0 -2.5 0zM265.45 552.58a1.25 1.25 0 1 0 2.5 0a1.25 1.25 0 1 0 -2.5 0zM267.72 539.86a1.25 1.25 0 1 0 2.5 0a1.25 1.25 0 1 0 -2.5 0zM265.98 531a1.25 1.25 0 1 0 2.5 0a1.25 1.25 0 1 0 -2.5 0zM266.35 497.7a1.25 1.25 0 1 0 2.5 0a1.25 1.25 0 1 0 -2.5 0zM265.38 546.5a1.25 1.25 0 1 0 2.5 0a1.25 1.25 0 1 0 -2.5 0zM266.28 538.63a1.25 1.25 0 1 0 2.5 0a1.25 1.25 0 1 0 -2.5 0zM265.89 524.44a1.25 1.25 0 1 0 2.5 0a1.25 1.25 0 1 0 -2.5 0zM267.18 502.82a1.25 1.25 0 1 0 2.5 0a1.25 1.25 0 1 0 -2.5 0zM266.4 561.19a1.25 1.25 0 1 0 2.5 0a1.25 1.25 0 1 0 -2.5 0zM265.72 534.69a1.25 1.25 0 1 0 2.5 0a1.25 1.25 0 1 0 -2.5 0zM270.61 526.09a1.25 1.25 0 1 0 2.5 0a1.25 1.25 0 1 0 -2.5 0zM266.12 519.59a1.25 1.25 0 1 0 2.5 0a1.25 1.25 0 1 0 -2.5 0zM266.5 567.92a1.25 1.25 0 1 0 2.5 0a1.25 1.25 0 1 0 -2.5 0zM266.81 532.89a1.25 1.25 0 1 0 2.5 0a1.25 1.25 0 1 0 -2.5 0zM267.27 530.96a1.25 1.25 0 1 0 2.5 0a1.25 1.25 0 1 0 -2.5 0zM266.42 508.37a1.25 1.25 0 1 0 2.5 0a1.25 1.25 0 1 0 -2.5 0zM265.56 560.45a1.25 1.25 0 1 0 2.5 0a1.25 1.25 0 1 0 -2.5 0zM266.83 534.13a1.25 1.25 0 1 0 2.5 0a1.25 1.25 0 1 0 -2.5 0zM270.39 527.08a1.25 1.25 0 1 0 2.5 0a1.25 1.25 0 1 0 -2.5 0zM266.28 517.63a1.25 1.25 0 1 0 2.5 0a1.25 1.25 0 1 0 -2.5 0zM265.8 566.85a1.25 1.25 0 1 0 2.5 0a1.25 1.25 0 1 0 -2.5 0zM270.7 541.98a1.25 1.25 0 1 0 2.5 0a1.25 1.25 0 1 0 -2.5 0zM262.95 527.77a1.25 1.25 0 1 0 2.5 0a1.25 1.25 0 1 0 -2.5 0zM266.53 516.35a1.25 1.25 0 1 0 2.5 0a1.25 1.25 0 1 0 -2.5 0zM266.74 551.32a1.25 1.25 0 1 0 2.5 0a1.25 1.25 0 1 0 -2.5 0zM268.31 538.67a1.25 1.25 0 1 0 2.5 0a1.25 1.25 0 1 0 -2.5 0zM264.69 527.81a1.25 1.25 0 1 0 2.5 0a1.25 1.25 0 1 0 -2.5 0zM266.53 517.37a1.25 1.25 0 1 0 2.5 0a1.25 1.25 0 1 0 -2.5 0zM264.45 555.43a1.25 1.25 0 1 0 2.5 0a1.25 1.25 0 1 0 -2.5 0zM269.17 540.91a1.25 1.25 0 1 0 2.5 0a1.25 1.25 0 1 0 -2.5 0zM264.24 527.31a1.25 1.25 0 1 0 2.5 0a1.25 1.25 0 1 0 -2.5 0zM266.93 518.83a1.25 1.25 0 1 0 2.5 0a1.25 1.25 0 1 0 -2.5 0zM264.98 560.21a1.25 1.25 0 1 0 2.5 0a1.25 1.25 0 1 0 -2.5 0zM267.17 538.13a1.25 1.25 0 1 0 2.5 0a1.25 1.25 0 1 0 -2.5 0zM270.52 529.4a1.25 1.25 0 1 0 2.5 0a1.25 1.25 0 1 0 -2.5 0zM265.55 514.44a1.25 1.25 0 1 0 2.5 0a1.25 1.25 0 1 0 -2.5 0zM265.34 569.9a1.25 1.25 0 1 0 2.5 0a1.25 1.25 0 1 0 -2.5 0zM264.93 538.14a1.25 1.25 0 1 0 2.5 0a1.25 1.25 0 1 0 -2.5 0zM263.52 525.35a1.25 1.25 0 1 0 2.5 0a1.25 1.25 0 1 0 -2.5 0zM265.54 495.03a1.25 1.25 0 1 0 2.5 0a1.25 1.25 0 1 0 -2.5 0zM268.08 546.9a1.25 1.25 0 1 0 2.5 0a1.25 1.25 0 1 0 -2.5 0zM264.59 539.16a1.25 1.25 0 1 0 2.5 0a1.25 1.25 0 1 0 -2.5 0zM264.03 526.89a1.25 1.25 0 1 0 2.5 0a1.25 1.25 0 1 0 -2.5 0zM266.52 519.69a1.25 1.25 0 1 0 2.5 0a1.25 1.25 0 1 0 -2.5 0zM266.65 581.62a1.25 1.25 0 1 0 2.5 0a1.25 1.25 0 1 0 -2.5 0zM266.65 485.48a1.25 1.25 0 1 0 2.5 0a1.25 1.25 0 1 0 -2.5 0z" fill="#111"/>
<line x1="285.9" y1="469.75" x2="285.9" y2="562.92" stroke="#0a0a0a" stroke-width="1.4" />
<line x1="282.5" y1="469.75" x2="289.3" y2="469.75" stroke="#0a0a0a" stroke-width="1.4" />
<line x1="282.5" y1="562.92" x2="289.3" y2="562.92" stroke="#0a0a0a" stroke-width="1.4" />
<rect x="280.1" y="495.27" width="11.6" height="33.88" fill="#b0b0b0" stroke="#0a0a0a" stroke-width="1.4"/>
<line x1="280.1" y1="514.63" x2="291.7" y2="514.63" stroke="#0a0a0a" stroke-width="1.4" />
<path d="M283.91 531.83a1.25 1.25 0 1 0 2.5 0a1.25 1.25 0 1 0 -2.5 0zM284.48 524.77a1.25 1.25 0 1 0 2.5 0a1.25 1.25 0 1 0 -2.5 0zM285.8 506.33a1.25 1.25 0 1 0 2.5 0a1.25 1.25 0 1 0 -2.5 0zM283.27 483.21a1.25 1.25 0 1 0 2.5 0a1.25 1.25 0 1 0 -2.5 0zM286.27 554.59a1.25 1.25 0 1 0 2.5 0a1.25 1.25 0 1 0 -2.5 0zM287.39 528.32a1.25 1.25 0 1 0 2.5 0a1.25 1.25 0 1 0 -2.5 0zM287.02 497.09a1.25 1.25 0 1 0 2.5 0a1.25 1.25 0 1 0 -2.5 0zM285.29 494.53a1.25 1.25 0 1 0 2.5 0a1.25 1.25 0 1 0 -2.5 0zM283.5 529.17a1.25 1.25 0 1 0 2.5 0a1.25 1.25 0 1 0 -2.5 0zM288.42 528.98a1.25 1.25 0 1 0 2.5 0a1.25 1.25 0 1 0 -2.5 0zM282.56 501.93a1.25 1.25 0 1 0 2.5 0a1.25 1.25 0 1 0 -2.5 0zM285.07 494.85a1.25 1.25 0 1 0 2.5 0a1.25 1.25 0 1 0 -2.5 0zM285.18 550.56a1.25 1.25 0 1 0 2.5 0a1.25 1.25 0 1 0 -2.5 0zM281.75 524.12a1.25 1.25 0 1 0 2.5 0a1.25 1.25 0 1 0 -2.5 0zM287.09 497.13a1.25 1.25 0 1 0 2.5 0a1.25 1.25 0 1 0 -2.5 0zM285.63 494.24a1.25 1.25 0 1 0 2.5 0a1.25 1.25 0 1 0 -2.5 0zM283.85 550.81a1.25 1.25 0 1 0 2.5 0a1.25 1.25 0 1 0 -2.5 0zM287.94 519.44a1.25 1.25 0 1 0 2.5 0a1.25 1.25 0 1 0 -2.5 0zM287.48 499.37a1.25 1.25 0 1 0 2.5 0a1.25 1.25 0 1 0 -2.5 0zM284.25 493.89a1.25 1.25 0 1 0 2.5 0a1.25 1.25 0 1 0 -2.5 0zM283.58 548.88a1.25 1.25 0 1 0 2.5 0a1.25 1.25 0 1 0 -2.5 0zM287.85 522.78a1.25 1.25 0 1 0 2.5 0a1.25 1.25 0 1 0 -2.5 0zM282.68 503.88a1.25 1.25 0 1 0 2.5 0a1.25 1.25 0 1 0 -2.5 0zM285.34 493.4a1.25 1.25 0 1 0 2.5 0a1.25 1.25 0 1 0 -2.5 0zM284.65 562.92a1.25 1.25 0 1 0 2.5 0a1.25 1.25 0 1 0 -2.5 0zM284.65 469.75a1.25 1.25 0 1 0 2.5 0a1.25 1.25 0 1 0 -2.5 0z" fill="#111"/>
<line x1="303.2" y1="423.77" x2="303.2" y2="542.79" stroke="#0a0a0a" stroke-width="1.4" />
<line x1="299.8" y1="423.77" x2="306.6" y2="423.77" stroke="#0a0a0a" stroke-width="1.4" />
<line x1="299.8" y1="542.79" x2="306.6" y2="542.79" stroke="#0a0a0a" stroke-width="1.4" />
<rect x="297.4" y="475.58" width="11.6" height="31.24" fill="#fcfcfc" stroke="#0a0a0a" stroke-width="1.4"/>
<line x1="297.4" y1="488.67" x2="309" y2="488.67" stroke="#0a0a0a" stroke-width="1.4" />
<path d="M302.78 507.04a1.25 1.25 0 1 0 2.5 0a1.25 1.25 0 1 0 -2.5 0zM298.98 498.34a1.25 1.25 0 1 0 2.5 0a1.25 1.25 0 1 0 -2.5 0zM301.93 482.24a1.25 1.25 0 1 0 2.5 0a1.25 1.25 0 1 0 -2.5 0zM302.02 458.52a1.25 1.25 0 1 0 2.5 0a1.25 1.25 0 1 0 -2.5 0zM301.87 533.14a1.25 1.25 0 1 0 2.5 0a1.25 1.25 0 1 0 -2.5 0zM302.47 498.33a1.25 1.25 0 1 0 2.5 0a1.25 1.25 0 1 0 -2.5 0zM304.79 479.96a1.25 1.25 0 1 0 2.5 0a1.25 1.25 0 1 0 -2.5 0zM299.89 466.72a1.25 1.25 0 1 0 2.5 0a1.25 1.25 0 1 0 -2.5 0zM303.1 507.16a1.25 1.25 0 1 0 2.5 0a1.25 1.25 0 1 0 -2.5 0zM303.09 495.26a1.25 1.25 0 1 0 2.5 0a1.25 1.25 0 1 0 -2.5 0zM302.87 488.3a1.25 1.25 0 1 0 2.5 0a1.25 1.25 0 1 0 -2.5 0zM302.71 449.52a1.25 1.25 0 1 0 2.5 0a1.25 1.25 0 1 0 -2.5 0zM301.6 541.61a1.25 1.25 0 1 0 2.5 0a1.25 1.25 0 1 0 -2.5 0zM301.82 497.55a1.25 1.25 0 1 0 2.5 0a1.25 1.25 0 1 0 -2.5 0zM298.06 476.92a1.25 1.25 0 1 0 2.5 0a1.25 1.25 0 1 0 -2.5 0zM301.35 447.03a1.25 1.25 0 1 0 2.5 0a1.25 1.25 0 1 0 -2.5 0zM301.35 534.34a1.25 1.25 0 1 0 2.5 0a1.25 1.25 0 1 0 -2.5 0zM301.74 500.17a1.25 1.25 0 1 0 2.5 0a1.25 1.25 0 1 0 -2.5 0zM304.21 481.79a1.25 1.25 0 1 0 2.5 0a1.25 1.25 0 1 0 -2.5 0zM301.06 472.44a1.25 1.25 0 1 0 2.5 0a1.25 1.25 0 1 0 -2.5 0zM302.34 519.25a1.25 1.25 0 1 0 2.5 0a1.25 1.25 0 1 0 -2.5 0zM300.22 491.81a1.25 1.25 0 1 0 2.5 0a1.25 1.25 0 1 0 -2.5 0zM301.15 477.83a1.25 1.25 0 1 0 2.5 0a1.25 1.25 0 1 0 -2.5 0zM301.8 460.5a1.25 1.25 0 1 0 2.5 0a1.25 1.25 0 1 0 -2.5 0zM303.04 541.19a1.25 1.25 0 1 0 2.5 0a1.25 1.25 0 1 0 -2.5 0zM304.39 494.94a1.25 1.25 0 1 0 2.5 0a1.25 1.25 0 1 0 -2.5 0zM300.42 484.34a1.25 1.25 0 1 0 2.5 0a1.25 1.25 0 1 0 -2.5 0zM300.82 469.68a1.25 1.25 0 1 0 2.5 0a1.25 1.25 0 1 0 -2.5 0zM301.27 530.04a1.25 1.25 0 1 0 2.5 0a1.25 1.25 0 1 0 -2.5 0zM303.81 506.09a1.25 1.25 0 1 0 2.5 0a1.25 1.25 0 1 0 -2.5 0zM302.33 477.08a1.25 1.25 0 1 0 2.5 0a1.25 1.25 0 1 0 -2.5 0zM301.92 475.35a1.25 1.25 0 1 0 2.5 0a1.25 1.25 0 1 0 -2.5 0zM302.05 508.63a1.25 1.25 0 1 0 2.5 0a1.25 1.25 0 1 0 -2.5 0zM302.86 490.1a1.25 1.25 0 1 0 2.5 0a1.25 1.25 0 1 0 -2.5 0zM304.36 480.06a1.25 1.25 0 1 0 2.5 0a1.25 1.25 0 1 0 -2.5 0zM300.97 431.87a1.25 1.25 0 1 0 2.5 0a1.25 1.25 0 1 0 -2.5 0zM301.12 522.34a1.25 1.25 0 1 0 2.5 0a1.25 1.25 0 1 0 -2.5 0zM302.75 494.18a1.25 1.25 0 1 0 2.5 0a1.25 1.25 0 1 0 -2.5 0zM299.55 479.76a1.25 1.25 0 1 0 2.5 0a1.25 1.25 0 1 0 -2.5 0zM300.43 450.59a1.25 1.25 0 1 0 2.5 0a1.25 1.25 0 1 0 -2.5 0zM302.36 507.4a1.25 1.25 0 1 0 2.5 0a1.25 1.25 0 1 0 -2.5 0zM298.08 503.53a1.25 1.25 0 1 0 2.5 0a1.25 1.25 0 1 0 -2.5 0zM305.41 478.53a1.25 1.25 0 1 0 2.5 0a1.25 1.25 0 1 0 -2.5 0zM300.78 451.34a1.25 1.25 0 1 0 2.5 0a1.25 1.25 0 1 0 -2.5 0zM301.95 542.79a1.25 1.25 0 1 0 2.5 0a1.25 1.25 0 1 0 -2.5 0zM301.95 423.77a1.25 1.25 0 1 0 2.5 0a1.25 1.25 0 1 0 -2.5 0z" fill="#111"/>
<line x1="285.9" y1="469.3" x2="285.9" y2="505.8" stroke="#0a0a0a" stroke-width="2.2" />
<line x1="57.1" y1="596.1" x2="314" y2="596.1" stroke="#2a2a2a" stroke-width="1.15" />
<path d="M69.6 547.2V519.4H104.3V527.6" fill="none" stroke="#0a0a0a" stroke-width="1.1"/>
<text x="68" y="513.9" font-size="13.9" textLength="48.44" lengthAdjust="spacingAndGlyphs" fill="#0a0a0a"><tspan font-style="italic">p</tspan> &lt; 0.01</text>
<path d="M69.6 620.3V631.15H87.35V603" fill="none" stroke="#0a0a0a" stroke-width="1.1"/>
<text x="67.6" y="643.65" font-size="13.9" textLength="48.44" lengthAdjust="spacingAndGlyphs" fill="#0a0a0a"><tspan font-style="italic">p</tspan> &lt; 0.01</text>
<path d="M135.8 511.2V462.2H170.45V470.9" fill="none" stroke="#0a0a0a" stroke-width="1.1"/>
<text x="134.2" y="457.5" font-size="13.9" textLength="48.44" lengthAdjust="spacingAndGlyphs" fill="#0a0a0a"><tspan font-style="italic">p</tspan> &lt; 0.01</text>
<path d="M135.5 604.95V616.05H153.05V577.5" fill="none" stroke="#0a0a0a" stroke-width="1.1"/>
<text x="132.6" y="628.3" font-size="13.9" textLength="48.44" lengthAdjust="spacingAndGlyphs" fill="#0a0a0a"><tspan font-style="italic">p</tspan> &lt; 0.01</text>
<path d="M202.3 501.3V470.95H236.95V478.5" fill="none" stroke="#0a0a0a" stroke-width="1.1"/>
<text x="199.6" y="465.7" font-size="13.9" textLength="48.44" lengthAdjust="spacingAndGlyphs" fill="#0a0a0a"><tspan font-style="italic">p</tspan> &lt; 0.01</text>
<path d="M202.2 594.1V605.2H219.45V575.4" fill="none" stroke="#0a0a0a" stroke-width="1.1"/>
<text x="199.6" y="618" font-size="13.9" textLength="48.44" lengthAdjust="spacingAndGlyphs" fill="#0a0a0a"><tspan font-style="italic">p</tspan> &lt; 0.01</text>
<path d="M267.9 481.3V410.1H303.4V418.5" fill="none" stroke="#0a0a0a" stroke-width="1.1"/>
<text x="265.2" y="403.9" font-size="13.9" textLength="48.44" lengthAdjust="spacingAndGlyphs" fill="#0a0a0a"><tspan font-style="italic">p</tspan> &lt; 0.01</text>
<path d="M268.1 587.6V599.05H285.6V567.5" fill="none" stroke="#0a0a0a" stroke-width="1.1"/>
<text x="267.5" y="610.7" font-size="13.9" textLength="48.44" lengthAdjust="spacingAndGlyphs" fill="#0a0a0a"><tspan font-style="italic">p</tspan> &lt; 0.01</text>
<text x="85.1" y="667.1" font-size="13.9" text-anchor="middle" textLength="18.49" lengthAdjust="spacingAndGlyphs" fill="#0a0a0a">2 h</text>
<text x="150.1" y="667.1" font-size="13.9" text-anchor="middle" textLength="18.49" lengthAdjust="spacingAndGlyphs" fill="#0a0a0a">4 h</text>
<text x="215.2" y="667.1" font-size="13.9" text-anchor="middle" textLength="18.49" lengthAdjust="spacingAndGlyphs" fill="#0a0a0a">6 h</text>
<text x="282.2" y="667.1" font-size="13.9" text-anchor="middle" textLength="18.49" lengthAdjust="spacingAndGlyphs" fill="#0a0a0a">8 h</text>
<line x1="419.95" y1="371.85" x2="419.95" y2="762.61" stroke="#0a0a0a" stroke-width="1.15" />
<line x1="415.2" y1="762.06" x2="419.95" y2="762.06" stroke="#0a0a0a" stroke-width="1.15" />
<text x="409.9" y="766.56" font-size="14.0" text-anchor="end" textLength="29.81" lengthAdjust="spacingAndGlyphs" fill="#0a0a0a">–200</text>
<line x1="415.2" y1="706.39" x2="419.95" y2="706.39" stroke="#0a0a0a" stroke-width="1.15" />
<text x="409.9" y="710.89" font-size="14.0" text-anchor="end" textLength="29.81" lengthAdjust="spacingAndGlyphs" fill="#0a0a0a">–150</text>
<line x1="415.2" y1="650.73" x2="419.95" y2="650.73" stroke="#0a0a0a" stroke-width="1.15" />
<text x="409.9" y="655.23" font-size="14.0" text-anchor="end" textLength="29.81" lengthAdjust="spacingAndGlyphs" fill="#0a0a0a">–100</text>
<line x1="415.2" y1="595.06" x2="419.95" y2="595.06" stroke="#0a0a0a" stroke-width="1.15" />
<text x="409.9" y="599.56" font-size="14.0" text-anchor="end" textLength="22.36" lengthAdjust="spacingAndGlyphs" fill="#0a0a0a">–50</text>
<line x1="415.2" y1="539.4" x2="419.95" y2="539.4" stroke="#0a0a0a" stroke-width="1.15" />
<text x="409.9" y="543.9" font-size="14.0" text-anchor="end" fill="#0a0a0a">0</text>
<line x1="415.8" y1="511.57" x2="419.95" y2="511.57" stroke="#0a0a0a" stroke-width="1.15" />
<line x1="415.2" y1="483.73" x2="419.95" y2="483.73" stroke="#0a0a0a" stroke-width="1.15" />
<text x="409.9" y="488.23" font-size="14.0" text-anchor="end" textLength="14.9" lengthAdjust="spacingAndGlyphs" fill="#0a0a0a">50</text>
<line x1="415.8" y1="455.9" x2="419.95" y2="455.9" stroke="#0a0a0a" stroke-width="1.15" />
<line x1="415.2" y1="428.07" x2="419.95" y2="428.07" stroke="#0a0a0a" stroke-width="1.15" />
<text x="409.9" y="432.57" font-size="14.0" text-anchor="end" textLength="22.36" lengthAdjust="spacingAndGlyphs" fill="#0a0a0a">100</text>
<line x1="415.8" y1="400.24" x2="419.95" y2="400.24" stroke="#0a0a0a" stroke-width="1.15" />
<line x1="415.2" y1="372.4" x2="419.95" y2="372.4" stroke="#0a0a0a" stroke-width="1.15" />
<text x="409.9" y="376.9" font-size="14.0" text-anchor="end" textLength="22.36" lengthAdjust="spacingAndGlyphs" fill="#0a0a0a">150</text>
<text x="360" y="346.9" font-size="17.5" font-weight="bold" fill="#000">i</text>
<text x="371.6" y="558" font-size="14.2" text-anchor="middle" textLength="130.7" lengthAdjust="spacingAndGlyphs" fill="#0a0a0a" transform="rotate(-90 371.6 558)">Degrees reorientation</text>
<text x="433.6" y="351.6" font-size="14.21" font-style="italic" textLength="37.81" lengthAdjust="spacingAndGlyphs" fill="#0a0a0a">eir1–4</text>
<rect x="432.8" y="366.5" width="11.2" height="10.4" fill="#4d4d4d" stroke="#0a0a0a" stroke-width="1"/>
<text x="451" y="375.9" font-size="12.23" textLength="24.06" lengthAdjust="spacingAndGlyphs" fill="#0a0a0a">PNS</text>
<rect x="432.8" y="386.6" width="11.2" height="10.4" fill="#bfbfbf" stroke="#0a0a0a" stroke-width="1"/>
<text x="451" y="395.9" font-size="12.23" textLength="59.84" lengthAdjust="spacingAndGlyphs" fill="#0a0a0a">2.5 nM eBL</text>
<rect x="432.8" y="406.7" width="11.2" height="10.4" fill="#fafafa" stroke="#0a0a0a" stroke-width="1"/>
<text x="451" y="415.9" font-size="12.23" textLength="63.09" lengthAdjust="spacingAndGlyphs" fill="#0a0a0a">100 nM eBL</text>
<line x1="432.2" y1="518.8" x2="432.2" y2="582" stroke="#0a0a0a" stroke-width="1.4" />
<line x1="428.8" y1="518.8" x2="435.6" y2="518.8" stroke="#0a0a0a" stroke-width="1.4" />
<line x1="428.8" y1="582" x2="435.6" y2="582" stroke="#0a0a0a" stroke-width="1.4" />
<rect x="426.5" y="529.8" width="11.4" height="15.6" fill="#363636" stroke="#0a0a0a" stroke-width="1.4"/>
<line x1="426.5" y1="536.8" x2="437.9" y2="536.8" stroke="#0a0a0a" stroke-width="1.4" />
<path d="M432.19 569.16a1.25 1.25 0 1 0 2.5 0a1.25 1.25 0 1 0 -2.5 0zM428.96 540.57a1.25 1.25 0 1 0 2.5 0a1.25 1.25 0 1 0 -2.5 0zM430.31 534.69a1.25 1.25 0 1 0 2.5 0a1.25 1.25 0 1 0 -2.5 0zM429.77 528.4a1.25 1.25 0 1 0 2.5 0a1.25 1.25 0 1 0 -2.5 0zM431.5 577.76a1.25 1.25 0 1 0 2.5 0a1.25 1.25 0 1 0 -2.5 0zM431.5 544.93a1.25 1.25 0 1 0 2.5 0a1.25 1.25 0 1 0 -2.5 0zM427.82 536.52a1.25 1.25 0 1 0 2.5 0a1.25 1.25 0 1 0 -2.5 0zM429.13 522.27a1.25 1.25 0 1 0 2.5 0a1.25 1.25 0 1 0 -2.5 0zM430.02 553.97a1.25 1.25 0 1 0 2.5 0a1.25 1.25 0 1 0 -2.5 0zM430.02 545.28a1.25 1.25 0 1 0 2.5 0a1.25 1.25 0 1 0 -2.5 0zM434.54 532.66a1.25 1.25 0 1 0 2.5 0a1.25 1.25 0 1 0 -2.5 0zM430.02 519.18a1.25 1.25 0 1 0 2.5 0a1.25 1.25 0 1 0 -2.5 0zM431.09 546a1.25 1.25 0 1 0 2.5 0a1.25 1.25 0 1 0 -2.5 0zM428.59 539.86a1.25 1.25 0 1 0 2.5 0a1.25 1.25 0 1 0 -2.5 0zM426.97 535.74a1.25 1.25 0 1 0 2.5 0a1.25 1.25 0 1 0 -2.5 0zM430.76 529.8a1.25 1.25 0 1 0 2.5 0a1.25 1.25 0 1 0 -2.5 0zM430.53 579.81a1.25 1.25 0 1 0 2.5 0a1.25 1.25 0 1 0 -2.5 0zM433.98 544.64a1.25 1.25 0 1 0 2.5 0a1.25 1.25 0 1 0 -2.5 0zM426.99 535.9a1.25 1.25 0 1 0 2.5 0a1.25 1.25 0 1 0 -2.5 0zM431.02 523.72a1.25 1.25 0 1 0 2.5 0a1.25 1.25 0 1 0 -2.5 0zM432.43 547.2a1.25 1.25 0 1 0 2.5 0a1.25 1.25 0 1 0 -2.5 0zM433.2 544.97a1.25 1.25 0 1 0 2.5 0a1.25 1.25 0 1 0 -2.5 0zM433.87 531.81a1.25 1.25 0 1 0 2.5 0a1.25 1.25 0 1 0 -2.5 0zM432.06 523.56a1.25 1.25 0 1 0 2.5 0a1.25 1.25 0 1 0 -2.5 0zM431.6 565.12a1.25 1.25 0 1 0 2.5 0a1.25 1.25 0 1 0 -2.5 0zM434.5 541.44a1.25 1.25 0 1 0 2.5 0a1.25 1.25 0 1 0 -2.5 0zM434.76 535.02a1.25 1.25 0 1 0 2.5 0a1.25 1.25 0 1 0 -2.5 0zM431.11 523.75a1.25 1.25 0 1 0 2.5 0a1.25 1.25 0 1 0 -2.5 0zM430.96 562.29a1.25 1.25 0 1 0 2.5 0a1.25 1.25 0 1 0 -2.5 0zM427.5 538.37a1.25 1.25 0 1 0 2.5 0a1.25 1.25 0 1 0 -2.5 0zM432.83 534.62a1.25 1.25 0 1 0 2.5 0a1.25 1.25 0 1 0 -2.5 0zM431.63 529.37a1.25 1.25 0 1 0 2.5 0a1.25 1.25 0 1 0 -2.5 0zM430.14 545.63a1.25 1.25 0 1 0 2.5 0a1.25 1.25 0 1 0 -2.5 0zM431.57 542.24a1.25 1.25 0 1 0 2.5 0a1.25 1.25 0 1 0 -2.5 0zM432.4 533.73a1.25 1.25 0 1 0 2.5 0a1.25 1.25 0 1 0 -2.5 0zM431.2 529.46a1.25 1.25 0 1 0 2.5 0a1.25 1.25 0 1 0 -2.5 0zM430.12 562.02a1.25 1.25 0 1 0 2.5 0a1.25 1.25 0 1 0 -2.5 0zM430.28 539.98a1.25 1.25 0 1 0 2.5 0a1.25 1.25 0 1 0 -2.5 0zM433.3 534.1a1.25 1.25 0 1 0 2.5 0a1.25 1.25 0 1 0 -2.5 0zM431.2 519.87a1.25 1.25 0 1 0 2.5 0a1.25 1.25 0 1 0 -2.5 0zM429.8 549.4a1.25 1.25 0 1 0 2.5 0a1.25 1.25 0 1 0 -2.5 0zM434.84 544.88a1.25 1.25 0 1 0 2.5 0a1.25 1.25 0 1 0 -2.5 0zM433.64 531.88a1.25 1.25 0 1 0 2.5 0a1.25 1.25 0 1 0 -2.5 0zM428.97 528.29a1.25 1.25 0 1 0 2.5 0a1.25 1.25 0 1 0 -2.5 0zM430.95 582a1.25 1.25 0 1 0 2.5 0a1.25 1.25 0 1 0 -2.5 0zM430.95 518.8a1.25 1.25 0 1 0 2.5 0a1.25 1.25 0 1 0 -2.5 0z" fill="#111"/>
<line x1="450.8" y1="505.3" x2="450.8" y2="558.6" stroke="#0a0a0a" stroke-width="1.4" />
<line x1="447.4" y1="505.3" x2="454.2" y2="505.3" stroke="#0a0a0a" stroke-width="1.4" />
<line x1="447.4" y1="558.6" x2="454.2" y2="558.6" stroke="#0a0a0a" stroke-width="1.4" />
<rect x="445.1" y="527.8" width="11.4" height="14.1" fill="#b0b0b0" stroke="#0a0a0a" stroke-width="1.4"/>
<line x1="445.1" y1="532.1" x2="456.5" y2="532.1" stroke="#0a0a0a" stroke-width="1.4" />
<path d="M448 553.87a1.25 1.25 0 1 0 2.5 0a1.25 1.25 0 1 0 -2.5 0zM447.98 536.01a1.25 1.25 0 1 0 2.5 0a1.25 1.25 0 1 0 -2.5 0zM452.74 530.26a1.25 1.25 0 1 0 2.5 0a1.25 1.25 0 1 0 -2.5 0zM449.06 523.92a1.25 1.25 0 1 0 2.5 0a1.25 1.25 0 1 0 -2.5 0zM448.41 555.61a1.25 1.25 0 1 0 2.5 0a1.25 1.25 0 1 0 -2.5 0zM447.77 533.99a1.25 1.25 0 1 0 2.5 0a1.25 1.25 0 1 0 -2.5 0zM447.61 532.09a1.25 1.25 0 1 0 2.5 0a1.25 1.25 0 1 0 -2.5 0zM448.11 523.03a1.25 1.25 0 1 0 2.5 0a1.25 1.25 0 1 0 -2.5 0zM448.68 555.37a1.25 1.25 0 1 0 2.5 0a1.25 1.25 0 1 0 -2.5 0zM452.29 541.49a1.25 1.25 0 1 0 2.5 0a1.25 1.25 0 1 0 -2.5 0zM452.56 528.61a1.25 1.25 0 1 0 2.5 0a1.25 1.25 0 1 0 -2.5 0zM449.28 519.57a1.25 1.25 0 1 0 2.5 0a1.25 1.25 0 1 0 -2.5 0zM451.31 553.25a1.25 1.25 0 1 0 2.5 0a1.25 1.25 0 1 0 -2.5 0zM452.95 535.19a1.25 1.25 0 1 0 2.5 0a1.25 1.25 0 1 0 -2.5 0zM446.14 530.61a1.25 1.25 0 1 0 2.5 0a1.25 1.25 0 1 0 -2.5 0zM449.73 520.04a1.25 1.25 0 1 0 2.5 0a1.25 1.25 0 1 0 -2.5 0zM448.97 551.85a1.25 1.25 0 1 0 2.5 0a1.25 1.25 0 1 0 -2.5 0zM447.37 532.77a1.25 1.25 0 1 0 2.5 0a1.25 1.25 0 1 0 -2.5 0zM451.01 529.49a1.25 1.25 0 1 0 2.5 0a1.25 1.25 0 1 0 -2.5 0zM449.74 522.12a1.25 1.25 0 1 0 2.5 0a1.25 1.25 0 1 0 -2.5 0zM450.22 551.88a1.25 1.25 0 1 0 2.5 0a1.25 1.25 0 1 0 -2.5 0zM449.22 534.14a1.25 1.25 0 1 0 2.5 0a1.25 1.25 0 1 0 -2.5 0zM452.07 531.72a1.25 1.25 0 1 0 2.5 0a1.25 1.25 0 1 0 -2.5 0zM449.68 513.67a1.25 1.25 0 1 0 2.5 0a1.25 1.25 0 1 0 -2.5 0zM450.74 555.63a1.25 1.25 0 1 0 2.5 0a1.25 1.25 0 1 0 -2.5 0zM449.73 533.23a1.25 1.25 0 1 0 2.5 0a1.25 1.25 0 1 0 -2.5 0zM450.28 530.05a1.25 1.25 0 1 0 2.5 0a1.25 1.25 0 1 0 -2.5 0zM449.75 526.68a1.25 1.25 0 1 0 2.5 0a1.25 1.25 0 1 0 -2.5 0zM449.55 558.6a1.25 1.25 0 1 0 2.5 0a1.25 1.25 0 1 0 -2.5 0zM449.55 505.3a1.25 1.25 0 1 0 2.5 0a1.25 1.25 0 1 0 -2.5 0z" fill="#111"/>
<line x1="467.9" y1="484.9" x2="467.9" y2="616.8" stroke="#0a0a0a" stroke-width="1.4" />
<line x1="464.5" y1="484.9" x2="471.3" y2="484.9" stroke="#0a0a0a" stroke-width="1.4" />
<line x1="464.5" y1="616.8" x2="471.3" y2="616.8" stroke="#0a0a0a" stroke-width="1.4" />
<rect x="462.2" y="528.6" width="11.4" height="32.3" fill="#fcfcfc" stroke="#0a0a0a" stroke-width="1.4"/>
<line x1="462.2" y1="542.7" x2="473.6" y2="542.7" stroke="#0a0a0a" stroke-width="1.4" />
<path d="M467.19 590.4a1.25 1.25 0 1 0 2.5 0a1.25 1.25 0 1 0 -2.5 0zM467.18 554.3a1.25 1.25 0 1 0 2.5 0a1.25 1.25 0 1 0 -2.5 0zM466.79 537.02a1.25 1.25 0 1 0 2.5 0a1.25 1.25 0 1 0 -2.5 0zM469.65 527.18a1.25 1.25 0 1 0 2.5 0a1.25 1.25 0 1 0 -2.5 0zM467.51 570.42a1.25 1.25 0 1 0 2.5 0a1.25 1.25 0 1 0 -2.5 0zM467.74 558.97a1.25 1.25 0 1 0 2.5 0a1.25 1.25 0 1 0 -2.5 0zM463.83 531.6a1.25 1.25 0 1 0 2.5 0a1.25 1.25 0 1 0 -2.5 0zM466.03 511.32a1.25 1.25 0 1 0 2.5 0a1.25 1.25 0 1 0 -2.5 0zM467.56 560.95a1.25 1.25 0 1 0 2.5 0a1.25 1.25 0 1 0 -2.5 0zM470.68 560.29a1.25 1.25 0 1 0 2.5 0a1.25 1.25 0 1 0 -2.5 0zM466.54 530.49a1.25 1.25 0 1 0 2.5 0a1.25 1.25 0 1 0 -2.5 0zM466.53 512.85a1.25 1.25 0 1 0 2.5 0a1.25 1.25 0 1 0 -2.5 0zM468.23 572.93a1.25 1.25 0 1 0 2.5 0a1.25 1.25 0 1 0 -2.5 0zM468.84 543.67a1.25 1.25 0 1 0 2.5 0a1.25 1.25 0 1 0 -2.5 0zM470.45 531.15a1.25 1.25 0 1 0 2.5 0a1.25 1.25 0 1 0 -2.5 0zM467.24 524.89a1.25 1.25 0 1 0 2.5 0a1.25 1.25 0 1 0 -2.5 0zM466.79 563.47a1.25 1.25 0 1 0 2.5 0a1.25 1.25 0 1 0 -2.5 0zM462.96 559.38a1.25 1.25 0 1 0 2.5 0a1.25 1.25 0 1 0 -2.5 0zM469.69 534.84a1.25 1.25 0 1 0 2.5 0a1.25 1.25 0 1 0 -2.5 0zM468.54 517.87a1.25 1.25 0 1 0 2.5 0a1.25 1.25 0 1 0 -2.5 0zM466 561.3a1.25 1.25 0 1 0 2.5 0a1.25 1.25 0 1 0 -2.5 0zM465.81 550.02a1.25 1.25 0 1 0 2.5 0a1.25 1.25 0 1 0 -2.5 0zM470.42 541.01a1.25 1.25 0 1 0 2.5 0a1.25 1.25 0 1 0 -2.5 0zM465.45 524.81a1.25 1.25 0 1 0 2.5 0a1.25 1.25 0 1 0 -2.5 0zM466.14 612.49a1.25 1.25 0 1 0 2.5 0a1.25 1.25 0 1 0 -2.5 0zM465.77 548.71a1.25 1.25 0 1 0 2.5 0a1.25 1.25 0 1 0 -2.5 0zM463.86 536.38a1.25 1.25 0 1 0 2.5 0a1.25 1.25 0 1 0 -2.5 0zM467.29 487.56a1.25 1.25 0 1 0 2.5 0a1.25 1.25 0 1 0 -2.5 0zM466.62 561.06a1.25 1.25 0 1 0 2.5 0a1.25 1.25 0 1 0 -2.5 0zM465.44 556.24a1.25 1.25 0 1 0 2.5 0a1.25 1.25 0 1 0 -2.5 0zM469.97 529.97a1.25 1.25 0 1 0 2.5 0a1.25 1.25 0 1 0 -2.5 0zM468.18 496.86a1.25 1.25 0 1 0 2.5 0a1.25 1.25 0 1 0 -2.5 0zM467.12 591.05a1.25 1.25 0 1 0 2.5 0a1.25 1.25 0 1 0 -2.5 0zM470.63 549.13a1.25 1.25 0 1 0 2.5 0a1.25 1.25 0 1 0 -2.5 0zM463.73 541.91a1.25 1.25 0 1 0 2.5 0a1.25 1.25 0 1 0 -2.5 0zM467.92 502.25a1.25 1.25 0 1 0 2.5 0a1.25 1.25 0 1 0 -2.5 0zM466.65 616.8a1.25 1.25 0 1 0 2.5 0a1.25 1.25 0 1 0 -2.5 0zM466.65 484.9a1.25 1.25 0 1 0 2.5 0a1.25 1.25 0 1 0 -2.5 0z" fill="#111"/>
<line x1="498.8" y1="508.4" x2="498.8" y2="573.1" stroke="#0a0a0a" stroke-width="1.4" />
<line x1="495.4" y1="508.4" x2="502.2" y2="508.4" stroke="#0a0a0a" stroke-width="1.4" />
<line x1="495.4" y1="573.1" x2="502.2" y2="573.1" stroke="#0a0a0a" stroke-width="1.4" />
<rect x="493.1" y="525.1" width="11.4" height="16" fill="#363636" stroke="#0a0a0a" stroke-width="1.4"/>
<line x1="493.1" y1="534.1" x2="504.5" y2="534.1" stroke="#0a0a0a" stroke-width="1.4" />
<path d="M497.04 544.74a1.25 1.25 0 1 0 2.5 0a1.25 1.25 0 1 0 -2.5 0zM499.67 536.96a1.25 1.25 0 1 0 2.5 0a1.25 1.25 0 1 0 -2.5 0zM496.1 533.15a1.25 1.25 0 1 0 2.5 0a1.25 1.25 0 1 0 -2.5 0zM498.29 523.65a1.25 1.25 0 1 0 2.5 0a1.25 1.25 0 1 0 -2.5 0zM498.28 542.4a1.25 1.25 0 1 0 2.5 0a1.25 1.25 0 1 0 -2.5 0zM494.62 539.43a1.25 1.25 0 1 0 2.5 0a1.25 1.25 0 1 0 -2.5 0zM493.55 528a1.25 1.25 0 1 0 2.5 0a1.25 1.25 0 1 0 -2.5 0zM497.63 515.92a1.25 1.25 0 1 0 2.5 0a1.25 1.25 0 1 0 -2.5 0zM497.78 569.06a1.25 1.25 0 1 0 2.5 0a1.25 1.25 0 1 0 -2.5 0zM501.11 539.56a1.25 1.25 0 1 0 2.5 0a1.25 1.25 0 1 0 -2.5 0zM500.74 526.3a1.25 1.25 0 1 0 2.5 0a1.25 1.25 0 1 0 -2.5 0zM497.16 524.62a1.25 1.25 0 1 0 2.5 0a1.25 1.25 0 1 0 -2.5 0zM497.68 569.12a1.25 1.25 0 1 0 2.5 0a1.25 1.25 0 1 0 -2.5 0zM498.6 535.2a1.25 1.25 0 1 0 2.5 0a1.25 1.25 0 1 0 -2.5 0zM496.23 530.03a1.25 1.25 0 1 0 2.5 0a1.25 1.25 0 1 0 -2.5 0zM496.28 513.34a1.25 1.25 0 1 0 2.5 0a1.25 1.25 0 1 0 -2.5 0zM497.73 542.06a1.25 1.25 0 1 0 2.5 0a1.25 1.25 0 1 0 -2.5 0zM493.91 539.55a1.25 1.25 0 1 0 2.5 0a1.25 1.25 0 1 0 -2.5 0zM497.99 527.68a1.25 1.25 0 1 0 2.5 0a1.25 1.25 0 1 0 -2.5 0zM498.04 524.59a1.25 1.25 0 1 0 2.5 0a1.25 1.25 0 1 0 -2.5 0zM497.03 547.58a1.25 1.25 0 1 0 2.5 0a1.25 1.25 0 1 0 -2.5 0zM495.67 540.01a1.25 1.25 0 1 0 2.5 0a1.25 1.25 0 1 0 -2.5 0zM496.19 526.54a1.25 1.25 0 1 0 2.5 0a1.25 1.25 0 1 0 -2.5 0zM496.75 524.43a1.25 1.25 0 1 0 2.5 0a1.25 1.25 0 1 0 -2.5 0zM497.6 567.74a1.25 1.25 0 1 0 2.5 0a1.25 1.25 0 1 0 -2.5 0zM501.48 540.3a1.25 1.25 0 1 0 2.5 0a1.25 1.25 0 1 0 -2.5 0zM500.79 533.59a1.25 1.25 0 1 0 2.5 0a1.25 1.25 0 1 0 -2.5 0zM497.8 517.02a1.25 1.25 0 1 0 2.5 0a1.25 1.25 0 1 0 -2.5 0zM498.56 544.47a1.25 1.25 0 1 0 2.5 0a1.25 1.25 0 1 0 -2.5 0zM495.1 539.3a1.25 1.25 0 1 0 2.5 0a1.25 1.25 0 1 0 -2.5 0zM501.58 530.82a1.25 1.25 0 1 0 2.5 0a1.25 1.25 0 1 0 -2.5 0zM497.92 508.46a1.25 1.25 0 1 0 2.5 0a1.25 1.25 0 1 0 -2.5 0zM497.36 544.53a1.25 1.25 0 1 0 2.5 0a1.25 1.25 0 1 0 -2.5 0zM493.92 534.83a1.25 1.25 0 1 0 2.5 0a1.25 1.25 0 1 0 -2.5 0zM495.86 527.56a1.25 1.25 0 1 0 2.5 0a1.25 1.25 0 1 0 -2.5 0zM499.2 509.04a1.25 1.25 0 1 0 2.5 0a1.25 1.25 0 1 0 -2.5 0zM497.72 545.71a1.25 1.25 0 1 0 2.5 0a1.25 1.25 0 1 0 -2.5 0zM493.46 540.12a1.25 1.25 0 1 0 2.5 0a1.25 1.25 0 1 0 -2.5 0zM497.77 526.61a1.25 1.25 0 1 0 2.5 0a1.25 1.25 0 1 0 -2.5 0zM495.7 524.29a1.25 1.25 0 1 0 2.5 0a1.25 1.25 0 1 0 -2.5 0zM498.35 543.17a1.25 1.25 0 1 0 2.5 0a1.25 1.25 0 1 0 -2.5 0zM494.58 537.1a1.25 1.25 0 1 0 2.5 0a1.25 1.25 0 1 0 -2.5 0zM499.77 532.48a1.25 1.25 0 1 0 2.5 0a1.25 1.25 0 1 0 -2.5 0zM497.67 516.05a1.25 1.25 0 1 0 2.5 0a1.25 1.25 0 1 0 -2.5 0zM497.55 573.1a1.25 1.25 0 1 0 2.5 0a1.25 1.25 0 1 0 -2.5 0zM497.55 508.4a1.25 1.25 0 1 0 2.5 0a1.25 1.25 0 1 0 -2.5 0z" fill="#111"/>
<line x1="517" y1="489.8" x2="517" y2="599.4" stroke="#0a0a0a" stroke-width="1.4" />
<line x1="513.6" y1="489.8" x2="520.4" y2="489.8" stroke="#0a0a0a" stroke-width="1.4" />
<line x1="513.6" y1="599.4" x2="520.4" y2="599.4" stroke="#0a0a0a" stroke-width="1.4" />
<rect x="511.3" y="523.1" width="11.4" height="18.8" fill="#b0b0b0" stroke="#0a0a0a" stroke-width="1.4"/>
<line x1="511.3" y1="532.9" x2="522.7" y2="532.9" stroke="#0a0a0a" stroke-width="1.4" />
<path d="M516.1 542.62a1.25 1.25 0 1 0 2.5 0a1.25 1.25 0 1 0 -2.5 0zM515.71 536.42a1.25 1.25 0 1 0 2.5 0a1.25 1.25 0 1 0 -2.5 0zM513.34 530.22a1.25 1.25 0 1 0 2.5 0a1.25 1.25 0 1 0 -2.5 0zM515.31 509.32a1.25 1.25 0 1 0 2.5 0a1.25 1.25 0 1 0 -2.5 0zM514.14 563.67a1.25 1.25 0 1 0 2.5 0a1.25 1.25 0 1 0 -2.5 0zM512.19 540.08a1.25 1.25 0 1 0 2.5 0a1.25 1.25 0 1 0 -2.5 0zM515 525.72a1.25 1.25 0 1 0 2.5 0a1.25 1.25 0 1 0 -2.5 0zM517.31 504.59a1.25 1.25 0 1 0 2.5 0a1.25 1.25 0 1 0 -2.5 0zM516.32 549.94a1.25 1.25 0 1 0 2.5 0a1.25 1.25 0 1 0 -2.5 0zM518.74 534.32a1.25 1.25 0 1 0 2.5 0a1.25 1.25 0 1 0 -2.5 0zM511.77 528.07a1.25 1.25 0 1 0 2.5 0a1.25 1.25 0 1 0 -2.5 0zM513.92 494.99a1.25 1.25 0 1 0 2.5 0a1.25 1.25 0 1 0 -2.5 0zM516.02 547.21a1.25 1.25 0 1 0 2.5 0a1.25 1.25 0 1 0 -2.5 0zM518.47 540.23a1.25 1.25 0 1 0 2.5 0a1.25 1.25 0 1 0 -2.5 0zM512.99 529.3a1.25 1.25 0 1 0 2.5 0a1.25 1.25 0 1 0 -2.5 0zM515.68 517.51a1.25 1.25 0 1 0 2.5 0a1.25 1.25 0 1 0 -2.5 0zM515.7 559.61a1.25 1.25 0 1 0 2.5 0a1.25 1.25 0 1 0 -2.5 0zM515.88 537.89a1.25 1.25 0 1 0 2.5 0a1.25 1.25 0 1 0 -2.5 0zM517.51 531.72a1.25 1.25 0 1 0 2.5 0a1.25 1.25 0 1 0 -2.5 0zM516.28 499.98a1.25 1.25 0 1 0 2.5 0a1.25 1.25 0 1 0 -2.5 0zM515.15 573.03a1.25 1.25 0 1 0 2.5 0a1.25 1.25 0 1 0 -2.5 0zM517.81 538.47a1.25 1.25 0 1 0 2.5 0a1.25 1.25 0 1 0 -2.5 0zM518.81 532.3a1.25 1.25 0 1 0 2.5 0a1.25 1.25 0 1 0 -2.5 0zM514.66 492.5a1.25 1.25 0 1 0 2.5 0a1.25 1.25 0 1 0 -2.5 0zM515.79 560.27a1.25 1.25 0 1 0 2.5 0a1.25 1.25 0 1 0 -2.5 0zM511.82 537.06a1.25 1.25 0 1 0 2.5 0a1.25 1.25 0 1 0 -2.5 0zM515.75 599.4a1.25 1.25 0 1 0 2.5 0a1.25 1.25 0 1 0 -2.5 0zM515.75 489.8a1.25 1.25 0 1 0 2.5 0a1.25 1.25 0 1 0 -2.5 0z" fill="#111"/>
<line x1="533.5" y1="448.9" x2="533.5" y2="642.1" stroke="#0a0a0a" stroke-width="1.4" />
<line x1="530.1" y1="448.9" x2="536.9" y2="448.9" stroke="#0a0a0a" stroke-width="1.4" />
<line x1="530.1" y1="642.1" x2="536.9" y2="642.1" stroke="#0a0a0a" stroke-width="1.4" />
<rect x="527.8" y="506.7" width="11.4" height="48.1" fill="#fcfcfc" stroke="#0a0a0a" stroke-width="1.4"/>
<line x1="527.8" y1="532.9" x2="539.2" y2="532.9" stroke="#0a0a0a" stroke-width="1.4" />
<path d="M532.35 637.05a1.25 1.25 0 1 0 2.5 0a1.25 1.25 0 1 0 -2.5 0zM530.2 552.55a1.25 1.25 0 1 0 2.5 0a1.25 1.25 0 1 0 -2.5 0zM528.39 511.49a1.25 1.25 0 1 0 2.5 0a1.25 1.25 0 1 0 -2.5 0zM532.82 505.84a1.25 1.25 0 1 0 2.5 0a1.25 1.25 0 1 0 -2.5 0zM532.31 600.62a1.25 1.25 0 1 0 2.5 0a1.25 1.25 0 1 0 -2.5 0zM532.88 541.67a1.25 1.25 0 1 0 2.5 0a1.25 1.25 0 1 0 -2.5 0zM533.91 519.2a1.25 1.25 0 1 0 2.5 0a1.25 1.25 0 1 0 -2.5 0zM532.41 505.74a1.25 1.25 0 1 0 2.5 0a1.25 1.25 0 1 0 -2.5 0zM532.19 622.68a1.25 1.25 0 1 0 2.5 0a1.25 1.25 0 1 0 -2.5 0zM532.2 552.11a1.25 1.25 0 1 0 2.5 0a1.25 1.25 0 1 0 -2.5 0zM530.44 519.78a1.25 1.25 0 1 0 2.5 0a1.25 1.25 0 1 0 -2.5 0zM531.98 505.39a1.25 1.25 0 1 0 2.5 0a1.25 1.25 0 1 0 -2.5 0zM533.05 572.01a1.25 1.25 0 1 0 2.5 0a1.25 1.25 0 1 0 -2.5 0zM529.35 535.94a1.25 1.25 0 1 0 2.5 0a1.25 1.25 0 1 0 -2.5 0zM534.27 517.89a1.25 1.25 0 1 0 2.5 0a1.25 1.25 0 1 0 -2.5 0zM533.18 504.46a1.25 1.25 0 1 0 2.5 0a1.25 1.25 0 1 0 -2.5 0zM533.09 616.69a1.25 1.25 0 1 0 2.5 0a1.25 1.25 0 1 0 -2.5 0zM535.04 545.59a1.25 1.25 0 1 0 2.5 0a1.25 1.25 0 1 0 -2.5 0zM531.39 519.13a1.25 1.25 0 1 0 2.5 0a1.25 1.25 0 1 0 -2.5 0zM531.9 454.86a1.25 1.25 0 1 0 2.5 0a1.25 1.25 0 1 0 -2.5 0zM531.89 610.22a1.25 1.25 0 1 0 2.5 0a1.25 1.25 0 1 0 -2.5 0zM531.72 547.46a1.25 1.25 0 1 0 2.5 0a1.25 1.25 0 1 0 -2.5 0zM534.75 507.19a1.25 1.25 0 1 0 2.5 0a1.25 1.25 0 1 0 -2.5 0zM532.82 457.66a1.25 1.25 0 1 0 2.5 0a1.25 1.25 0 1 0 -2.5 0zM532.42 615.21a1.25 1.25 0 1 0 2.5 0a1.25 1.25 0 1 0 -2.5 0zM536.01 543.47a1.25 1.25 0 1 0 2.5 0a1.25 1.25 0 1 0 -2.5 0zM530.19 508.42a1.25 1.25 0 1 0 2.5 0a1.25 1.25 0 1 0 -2.5 0zM532 494.46a1.25 1.25 0 1 0 2.5 0a1.25 1.25 0 1 0 -2.5 0zM531.51 593.1a1.25 1.25 0 1 0 2.5 0a1.25 1.25 0 1 0 -2.5 0zM531.7 553.28a1.25 1.25 0 1 0 2.5 0a1.25 1.25 0 1 0 -2.5 0zM528.32 519.67a1.25 1.25 0 1 0 2.5 0a1.25 1.25 0 1 0 -2.5 0zM533.09 505.03a1.25 1.25 0 1 0 2.5 0a1.25 1.25 0 1 0 -2.5 0zM532.61 637.4a1.25 1.25 0 1 0 2.5 0a1.25 1.25 0 1 0 -2.5 0zM534.79 540.93a1.25 1.25 0 1 0 2.5 0a1.25 1.25 0 1 0 -2.5 0zM535.41 509.73a1.25 1.25 0 1 0 2.5 0a1.25 1.25 0 1 0 -2.5 0zM530.14 506.57a1.25 1.25 0 1 0 2.5 0a1.25 1.25 0 1 0 -2.5 0zM532.25 642.1a1.25 1.25 0 1 0 2.5 0a1.25 1.25 0 1 0 -2.5 0zM532.25 448.9a1.25 1.25 0 1 0 2.5 0a1.25 1.25 0 1 0 -2.5 0z" fill="#111"/>
<line x1="565.6" y1="506.9" x2="565.6" y2="618.7" stroke="#0a0a0a" stroke-width="1.4" />
<line x1="562.2" y1="506.9" x2="569" y2="506.9" stroke="#0a0a0a" stroke-width="1.4" />
<line x1="562.2" y1="618.7" x2="569" y2="618.7" stroke="#0a0a0a" stroke-width="1.4" />
<rect x="559.9" y="520.6" width="11.4" height="34.6" fill="#363636" stroke="#0a0a0a" stroke-width="1.4"/>
<line x1="559.9" y1="525.7" x2="571.3" y2="525.7" stroke="#0a0a0a" stroke-width="1.4" />
<path d="M564.21 583.76a1.25 1.25 0 1 0 2.5 0a1.25 1.25 0 1 0 -2.5 0zM564.7 547.13a1.25 1.25 0 1 0 2.5 0a1.25 1.25 0 1 0 -2.5 0zM565.35 520.99a1.25 1.25 0 1 0 2.5 0a1.25 1.25 0 1 0 -2.5 0zM565.72 519.47a1.25 1.25 0 1 0 2.5 0a1.25 1.25 0 1 0 -2.5 0zM562.3 574.79a1.25 1.25 0 1 0 2.5 0a1.25 1.25 0 1 0 -2.5 0zM562.75 546.72a1.25 1.25 0 1 0 2.5 0a1.25 1.25 0 1 0 -2.5 0zM561.23 522.4a1.25 1.25 0 1 0 2.5 0a1.25 1.25 0 1 0 -2.5 0zM565.26 515.23a1.25 1.25 0 1 0 2.5 0a1.25 1.25 0 1 0 -2.5 0zM563.63 613.77a1.25 1.25 0 1 0 2.5 0a1.25 1.25 0 1 0 -2.5 0zM564.63 541.44a1.25 1.25 0 1 0 2.5 0a1.25 1.25 0 1 0 -2.5 0zM561.26 524.94a1.25 1.25 0 1 0 2.5 0a1.25 1.25 0 1 0 -2.5 0zM564.29 520.25a1.25 1.25 0 1 0 2.5 0a1.25 1.25 0 1 0 -2.5 0zM563.72 562.19a1.25 1.25 0 1 0 2.5 0a1.25 1.25 0 1 0 -2.5 0zM560.97 548.02a1.25 1.25 0 1 0 2.5 0a1.25 1.25 0 1 0 -2.5 0zM567.14 522.91a1.25 1.25 0 1 0 2.5 0a1.25 1.25 0 1 0 -2.5 0zM564.77 514.97a1.25 1.25 0 1 0 2.5 0a1.25 1.25 0 1 0 -2.5 0zM563.99 578.3a1.25 1.25 0 1 0 2.5 0a1.25 1.25 0 1 0 -2.5 0zM564.03 534.24a1.25 1.25 0 1 0 2.5 0a1.25 1.25 0 1 0 -2.5 0zM565.28 522.91a1.25 1.25 0 1 0 2.5 0a1.25 1.25 0 1 0 -2.5 0zM563.85 517.09a1.25 1.25 0 1 0 2.5 0a1.25 1.25 0 1 0 -2.5 0zM564.38 562.94a1.25 1.25 0 1 0 2.5 0a1.25 1.25 0 1 0 -2.5 0zM563.39 540.08a1.25 1.25 0 1 0 2.5 0a1.25 1.25 0 1 0 -2.5 0zM560.34 522.71a1.25 1.25 0 1 0 2.5 0a1.25 1.25 0 1 0 -2.5 0zM564.99 518.5a1.25 1.25 0 1 0 2.5 0a1.25 1.25 0 1 0 -2.5 0zM564.43 603.79a1.25 1.25 0 1 0 2.5 0a1.25 1.25 0 1 0 -2.5 0zM562.58 540.7a1.25 1.25 0 1 0 2.5 0a1.25 1.25 0 1 0 -2.5 0zM562.67 520.66a1.25 1.25 0 1 0 2.5 0a1.25 1.25 0 1 0 -2.5 0zM565.51 512a1.25 1.25 0 1 0 2.5 0a1.25 1.25 0 1 0 -2.5 0zM566.04 557.51a1.25 1.25 0 1 0 2.5 0a1.25 1.25 0 1 0 -2.5 0zM560.76 542.22a1.25 1.25 0 1 0 2.5 0a1.25 1.25 0 1 0 -2.5 0zM563.86 523.72a1.25 1.25 0 1 0 2.5 0a1.25 1.25 0 1 0 -2.5 0zM565.1 512.72a1.25 1.25 0 1 0 2.5 0a1.25 1.25 0 1 0 -2.5 0zM564.71 556.38a1.25 1.25 0 1 0 2.5 0a1.25 1.25 0 1 0 -2.5 0zM561.51 533.41a1.25 1.25 0 1 0 2.5 0a1.25 1.25 0 1 0 -2.5 0zM563.14 523.98a1.25 1.25 0 1 0 2.5 0a1.25 1.25 0 1 0 -2.5 0zM566.63 513.84a1.25 1.25 0 1 0 2.5 0a1.25 1.25 0 1 0 -2.5 0zM564.35 618.7a1.25 1.25 0 1 0 2.5 0a1.25 1.25 0 1 0 -2.5 0zM564.35 506.9a1.25 1.25 0 1 0 2.5 0a1.25 1.25 0 1 0 -2.5 0z" fill="#111"/>
<line x1="582.8" y1="462.8" x2="582.8" y2="637.5" stroke="#0a0a0a" stroke-width="1.4" />
<line x1="579.4" y1="462.8" x2="586.2" y2="462.8" stroke="#0a0a0a" stroke-width="1.4" />
<line x1="579.4" y1="637.5" x2="586.2" y2="637.5" stroke="#0a0a0a" stroke-width="1.4" />
<rect x="577.1" y="503.5" width="11.4" height="41.4" fill="#b0b0b0" stroke="#0a0a0a" stroke-width="1.4"/>
<line x1="577.1" y1="519.8" x2="588.5" y2="519.8" stroke="#0a0a0a" stroke-width="1.4" />
<path d="M582.54 583.65a1.25 1.25 0 1 0 2.5 0a1.25 1.25 0 1 0 -2.5 0zM583.51 531.9a1.25 1.25 0 1 0 2.5 0a1.25 1.25 0 1 0 -2.5 0zM583.68 507.68a1.25 1.25 0 1 0 2.5 0a1.25 1.25 0 1 0 -2.5 0zM580.18 492.83a1.25 1.25 0 1 0 2.5 0a1.25 1.25 0 1 0 -2.5 0zM581.03 604.79a1.25 1.25 0 1 0 2.5 0a1.25 1.25 0 1 0 -2.5 0zM584.59 541.71a1.25 1.25 0 1 0 2.5 0a1.25 1.25 0 1 0 -2.5 0zM583.73 519.73a1.25 1.25 0 1 0 2.5 0a1.25 1.25 0 1 0 -2.5 0zM579.59 487.96a1.25 1.25 0 1 0 2.5 0a1.25 1.25 0 1 0 -2.5 0zM582.71 571.29a1.25 1.25 0 1 0 2.5 0a1.25 1.25 0 1 0 -2.5 0zM583.88 534.41a1.25 1.25 0 1 0 2.5 0a1.25 1.25 0 1 0 -2.5 0zM582.43 505.57a1.25 1.25 0 1 0 2.5 0a1.25 1.25 0 1 0 -2.5 0zM581.27 496.38a1.25 1.25 0 1 0 2.5 0a1.25 1.25 0 1 0 -2.5 0zM580.14 567.1a1.25 1.25 0 1 0 2.5 0a1.25 1.25 0 1 0 -2.5 0zM580.65 537.55a1.25 1.25 0 1 0 2.5 0a1.25 1.25 0 1 0 -2.5 0zM580.6 510.75a1.25 1.25 0 1 0 2.5 0a1.25 1.25 0 1 0 -2.5 0zM581.93 498.21a1.25 1.25 0 1 0 2.5 0a1.25 1.25 0 1 0 -2.5 0zM582.18 605.08a1.25 1.25 0 1 0 2.5 0a1.25 1.25 0 1 0 -2.5 0zM578.96 533.75a1.25 1.25 0 1 0 2.5 0a1.25 1.25 0 1 0 -2.5 0zM578.64 514.84a1.25 1.25 0 1 0 2.5 0a1.25 1.25 0 1 0 -2.5 0zM580.68 488.45a1.25 1.25 0 1 0 2.5 0a1.25 1.25 0 1 0 -2.5 0zM583.3 579.81a1.25 1.25 0 1 0 2.5 0a1.25 1.25 0 1 0 -2.5 0zM584.37 536.77a1.25 1.25 0 1 0 2.5 0a1.25 1.25 0 1 0 -2.5 0zM585.32 506.14a1.25 1.25 0 1 0 2.5 0a1.25 1.25 0 1 0 -2.5 0zM582.63 501.17a1.25 1.25 0 1 0 2.5 0a1.25 1.25 0 1 0 -2.5 0zM581.55 637.5a1.25 1.25 0 1 0 2.5 0a1.25 1.25 0 1 0 -2.5 0zM581.55 462.8a1.25 1.25 0 1 0 2.5 0a1.25 1.25 0 1 0 -2.5 0z" fill="#111"/>
<line x1="600.2" y1="408.8" x2="600.2" y2="695.4" stroke="#0a0a0a" stroke-width="1.4" />
<line x1="596.8" y1="408.8" x2="603.6" y2="408.8" stroke="#0a0a0a" stroke-width="1.4" />
<line x1="596.8" y1="695.4" x2="603.6" y2="695.4" stroke="#0a0a0a" stroke-width="1.4" />
<rect x="594.5" y="494.3" width="11.4" height="86.8" fill="#fcfcfc" stroke="#0a0a0a" stroke-width="1.4"/>
<line x1="594.5" y1="528" x2="605.9" y2="528" stroke="#0a0a0a" stroke-width="1.4" />
<path d="M599.06 605.75a1.25 1.25 0 1 0 2.5 0a1.25 1.25 0 1 0 -2.5 0zM599.48 578.58a1.25 1.25 0 1 0 2.5 0a1.25 1.25 0 1 0 -2.5 0zM602.4 511.24a1.25 1.25 0 1 0 2.5 0a1.25 1.25 0 1 0 -2.5 0zM598.88 440.45a1.25 1.25 0 1 0 2.5 0a1.25 1.25 0 1 0 -2.5 0zM600.05 618.61a1.25 1.25 0 1 0 2.5 0a1.25 1.25 0 1 0 -2.5 0zM600.47 553.63a1.25 1.25 0 1 0 2.5 0a1.25 1.25 0 1 0 -2.5 0zM597.78 514.87a1.25 1.25 0 1 0 2.5 0a1.25 1.25 0 1 0 -2.5 0zM598.94 460.75a1.25 1.25 0 1 0 2.5 0a1.25 1.25 0 1 0 -2.5 0zM600.25 598.47a1.25 1.25 0 1 0 2.5 0a1.25 1.25 0 1 0 -2.5 0zM595.66 553.21a1.25 1.25 0 1 0 2.5 0a1.25 1.25 0 1 0 -2.5 0zM598.14 515.38a1.25 1.25 0 1 0 2.5 0a1.25 1.25 0 1 0 -2.5 0zM598.51 464.06a1.25 1.25 0 1 0 2.5 0a1.25 1.25 0 1 0 -2.5 0zM600.67 623.19a1.25 1.25 0 1 0 2.5 0a1.25 1.25 0 1 0 -2.5 0zM598.46 555.26a1.25 1.25 0 1 0 2.5 0a1.25 1.25 0 1 0 -2.5 0zM603.02 506.95a1.25 1.25 0 1 0 2.5 0a1.25 1.25 0 1 0 -2.5 0zM597.34 481.82a1.25 1.25 0 1 0 2.5 0a1.25 1.25 0 1 0 -2.5 0zM599.17 617.57a1.25 1.25 0 1 0 2.5 0a1.25 1.25 0 1 0 -2.5 0zM602.88 564.21a1.25 1.25 0 1 0 2.5 0a1.25 1.25 0 1 0 -2.5 0zM599.05 500.16a1.25 1.25 0 1 0 2.5 0a1.25 1.25 0 1 0 -2.5 0zM598.44 492.68a1.25 1.25 0 1 0 2.5 0a1.25 1.25 0 1 0 -2.5 0zM598.33 674.62a1.25 1.25 0 1 0 2.5 0a1.25 1.25 0 1 0 -2.5 0zM602.14 528.52a1.25 1.25 0 1 0 2.5 0a1.25 1.25 0 1 0 -2.5 0zM596.13 513.82a1.25 1.25 0 1 0 2.5 0a1.25 1.25 0 1 0 -2.5 0zM597.38 485.09a1.25 1.25 0 1 0 2.5 0a1.25 1.25 0 1 0 -2.5 0zM598.36 615.31a1.25 1.25 0 1 0 2.5 0a1.25 1.25 0 1 0 -2.5 0zM600.02 571.41a1.25 1.25 0 1 0 2.5 0a1.25 1.25 0 1 0 -2.5 0zM597.74 507.67a1.25 1.25 0 1 0 2.5 0a1.25 1.25 0 1 0 -2.5 0zM598.93 409.76a1.25 1.25 0 1 0 2.5 0a1.25 1.25 0 1 0 -2.5 0zM599.86 631.79a1.25 1.25 0 1 0 2.5 0a1.25 1.25 0 1 0 -2.5 0zM597.36 539.28a1.25 1.25 0 1 0 2.5 0a1.25 1.25 0 1 0 -2.5 0zM594.88 504.72a1.25 1.25 0 1 0 2.5 0a1.25 1.25 0 1 0 -2.5 0zM599.2 484.25a1.25 1.25 0 1 0 2.5 0a1.25 1.25 0 1 0 -2.5 0zM597.79 665a1.25 1.25 0 1 0 2.5 0a1.25 1.25 0 1 0 -2.5 0zM598.93 570.66a1.25 1.25 0 1 0 2.5 0a1.25 1.25 0 1 0 -2.5 0zM597.03 509.36a1.25 1.25 0 1 0 2.5 0a1.25 1.25 0 1 0 -2.5 0zM598.25 455.27a1.25 1.25 0 1 0 2.5 0a1.25 1.25 0 1 0 -2.5 0zM598.95 695.4a1.25 1.25 0 1 0 2.5 0a1.25 1.25 0 1 0 -2.5 0zM598.95 408.8a1.25 1.25 0 1 0 2.5 0a1.25 1.25 0 1 0 -2.5 0z" fill="#111"/>
<line x1="631.5" y1="490.6" x2="631.5" y2="625.5" stroke="#0a0a0a" stroke-width="1.4" />
<line x1="628.1" y1="490.6" x2="634.9" y2="490.6" stroke="#0a0a0a" stroke-width="1.4" />
<line x1="628.1" y1="625.5" x2="634.9" y2="625.5" stroke="#0a0a0a" stroke-width="1.4" />
<rect x="625.8" y="512.5" width="11.4" height="35.1" fill="#363636" stroke="#0a0a0a" stroke-width="1.4"/>
<line x1="625.8" y1="520.6" x2="637.2" y2="520.6" stroke="#0a0a0a" stroke-width="1.4" />
<path d="M631.44 572.57a1.25 1.25 0 1 0 2.5 0a1.25 1.25 0 1 0 -2.5 0zM627.14 536.5a1.25 1.25 0 1 0 2.5 0a1.25 1.25 0 1 0 -2.5 0zM632.38 519.33a1.25 1.25 0 1 0 2.5 0a1.25 1.25 0 1 0 -2.5 0zM630.23 512.11a1.25 1.25 0 1 0 2.5 0a1.25 1.25 0 1 0 -2.5 0zM630.78 548.84a1.25 1.25 0 1 0 2.5 0a1.25 1.25 0 1 0 -2.5 0zM631.18 525.38a1.25 1.25 0 1 0 2.5 0a1.25 1.25 0 1 0 -2.5 0zM626.66 514.07a1.25 1.25 0 1 0 2.5 0a1.25 1.25 0 1 0 -2.5 0zM631.22 512.49a1.25 1.25 0 1 0 2.5 0a1.25 1.25 0 1 0 -2.5 0zM629.61 596.33a1.25 1.25 0 1 0 2.5 0a1.25 1.25 0 1 0 -2.5 0zM627.54 538.05a1.25 1.25 0 1 0 2.5 0a1.25 1.25 0 1 0 -2.5 0zM626.96 518.44a1.25 1.25 0 1 0 2.5 0a1.25 1.25 0 1 0 -2.5 0zM631.55 494.24a1.25 1.25 0 1 0 2.5 0a1.25 1.25 0 1 0 -2.5 0zM629.67 577.03a1.25 1.25 0 1 0 2.5 0a1.25 1.25 0 1 0 -2.5 0zM626.59 537.19a1.25 1.25 0 1 0 2.5 0a1.25 1.25 0 1 0 -2.5 0zM630.93 513.39a1.25 1.25 0 1 0 2.5 0a1.25 1.25 0 1 0 -2.5 0zM631.06 492.17a1.25 1.25 0 1 0 2.5 0a1.25 1.25 0 1 0 -2.5 0zM629.75 565.35a1.25 1.25 0 1 0 2.5 0a1.25 1.25 0 1 0 -2.5 0zM633.79 546.41a1.25 1.25 0 1 0 2.5 0a1.25 1.25 0 1 0 -2.5 0zM628.73 513.68a1.25 1.25 0 1 0 2.5 0a1.25 1.25 0 1 0 -2.5 0zM629.78 494.42a1.25 1.25 0 1 0 2.5 0a1.25 1.25 0 1 0 -2.5 0zM629.84 601.61a1.25 1.25 0 1 0 2.5 0a1.25 1.25 0 1 0 -2.5 0zM630.21 521.68a1.25 1.25 0 1 0 2.5 0a1.25 1.25 0 1 0 -2.5 0zM628.14 512.91a1.25 1.25 0 1 0 2.5 0a1.25 1.25 0 1 0 -2.5 0zM631.42 508.48a1.25 1.25 0 1 0 2.5 0a1.25 1.25 0 1 0 -2.5 0zM630.39 590.56a1.25 1.25 0 1 0 2.5 0a1.25 1.25 0 1 0 -2.5 0zM630.12 523.97a1.25 1.25 0 1 0 2.5 0a1.25 1.25 0 1 0 -2.5 0zM628.14 514.18a1.25 1.25 0 1 0 2.5 0a1.25 1.25 0 1 0 -2.5 0zM631.02 511.56a1.25 1.25 0 1 0 2.5 0a1.25 1.25 0 1 0 -2.5 0zM631.19 559.89a1.25 1.25 0 1 0 2.5 0a1.25 1.25 0 1 0 -2.5 0zM630.76 539.75a1.25 1.25 0 1 0 2.5 0a1.25 1.25 0 1 0 -2.5 0zM630.53 519.67a1.25 1.25 0 1 0 2.5 0a1.25 1.25 0 1 0 -2.5 0zM632.49 508.56a1.25 1.25 0 1 0 2.5 0a1.25 1.25 0 1 0 -2.5 0zM630.68 562.79a1.25 1.25 0 1 0 2.5 0a1.25 1.25 0 1 0 -2.5 0zM629.03 525.3a1.25 1.25 0 1 0 2.5 0a1.25 1.25 0 1 0 -2.5 0zM627.72 518.62a1.25 1.25 0 1 0 2.5 0a1.25 1.25 0 1 0 -2.5 0zM630.44 510.23a1.25 1.25 0 1 0 2.5 0a1.25 1.25 0 1 0 -2.5 0zM630.25 625.5a1.25 1.25 0 1 0 2.5 0a1.25 1.25 0 1 0 -2.5 0zM630.25 490.6a1.25 1.25 0 1 0 2.5 0a1.25 1.25 0 1 0 -2.5 0z" fill="#111"/>
<line x1="649.4" y1="443.8" x2="649.4" y2="615.5" stroke="#0a0a0a" stroke-width="1.4" />
<line x1="646" y1="443.8" x2="652.8" y2="443.8" stroke="#0a0a0a" stroke-width="1.4" />
<line x1="646" y1="615.5" x2="652.8" y2="615.5" stroke="#0a0a0a" stroke-width="1.4" />
<rect x="643.7" y="479.1" width="11.4" height="57.1" fill="#b0b0b0" stroke="#0a0a0a" stroke-width="1.4"/>
<line x1="643.7" y1="511.2" x2="655.1" y2="511.2" stroke="#0a0a0a" stroke-width="1.4" />
<path d="M649.47 542.15a1.25 1.25 0 1 0 2.5 0a1.25 1.25 0 1 0 -2.5 0zM645.33 527.66a1.25 1.25 0 1 0 2.5 0a1.25 1.25 0 1 0 -2.5 0zM644.81 488.54a1.25 1.25 0 1 0 2.5 0a1.25 1.25 0 1 0 -2.5 0zM648.44 475.76a1.25 1.25 0 1 0 2.5 0a1.25 1.25 0 1 0 -2.5 0zM648.84 593.52a1.25 1.25 0 1 0 2.5 0a1.25 1.25 0 1 0 -2.5 0zM650.65 515.29a1.25 1.25 0 1 0 2.5 0a1.25 1.25 0 1 0 -2.5 0zM646.94 506.09a1.25 1.25 0 1 0 2.5 0a1.25 1.25 0 1 0 -2.5 0zM648.86 459.44a1.25 1.25 0 1 0 2.5 0a1.25 1.25 0 1 0 -2.5 0zM648.75 549.89a1.25 1.25 0 1 0 2.5 0a1.25 1.25 0 1 0 -2.5 0zM648.19 512.43a1.25 1.25 0 1 0 2.5 0a1.25 1.25 0 1 0 -2.5 0zM647.76 503.9a1.25 1.25 0 1 0 2.5 0a1.25 1.25 0 1 0 -2.5 0zM647.99 478.19a1.25 1.25 0 1 0 2.5 0a1.25 1.25 0 1 0 -2.5 0zM648.02 578.63a1.25 1.25 0 1 0 2.5 0a1.25 1.25 0 1 0 -2.5 0zM647.07 521.51a1.25 1.25 0 1 0 2.5 0a1.25 1.25 0 1 0 -2.5 0zM649.04 503.3a1.25 1.25 0 1 0 2.5 0a1.25 1.25 0 1 0 -2.5 0zM650.1 476.93a1.25 1.25 0 1 0 2.5 0a1.25 1.25 0 1 0 -2.5 0zM648.93 598.22a1.25 1.25 0 1 0 2.5 0a1.25 1.25 0 1 0 -2.5 0zM646.27 522.64a1.25 1.25 0 1 0 2.5 0a1.25 1.25 0 1 0 -2.5 0zM647.2 486.43a1.25 1.25 0 1 0 2.5 0a1.25 1.25 0 1 0 -2.5 0zM648.91 462.5a1.25 1.25 0 1 0 2.5 0a1.25 1.25 0 1 0 -2.5 0zM647.81 564.82a1.25 1.25 0 1 0 2.5 0a1.25 1.25 0 1 0 -2.5 0zM645.5 534.05a1.25 1.25 0 1 0 2.5 0a1.25 1.25 0 1 0 -2.5 0zM646.68 483.88a1.25 1.25 0 1 0 2.5 0a1.25 1.25 0 1 0 -2.5 0zM648.99 462.27a1.25 1.25 0 1 0 2.5 0a1.25 1.25 0 1 0 -2.5 0zM647.35 537.67a1.25 1.25 0 1 0 2.5 0a1.25 1.25 0 1 0 -2.5 0zM646.48 523.69a1.25 1.25 0 1 0 2.5 0a1.25 1.25 0 1 0 -2.5 0zM648.15 615.5a1.25 1.25 0 1 0 2.5 0a1.25 1.25 0 1 0 -2.5 0zM648.15 443.8a1.25 1.25 0 1 0 2.5 0a1.25 1.25 0 1 0 -2.5 0z" fill="#111"/>
<line x1="667" y1="414.3" x2="667" y2="713" stroke="#0a0a0a" stroke-width="1.4" />
<line x1="663.6" y1="414.3" x2="670.4" y2="414.3" stroke="#0a0a0a" stroke-width="1.4" />
<line x1="663.6" y1="713" x2="670.4" y2="713" stroke="#0a0a0a" stroke-width="1.4" />
<rect x="661.3" y="484.9" width="11.4" height="96.9" fill="#fcfcfc" stroke="#0a0a0a" stroke-width="1.4"/>
<line x1="661.3" y1="526.1" x2="672.7" y2="526.1" stroke="#0a0a0a" stroke-width="1.4" />
<path d="M665.42 582.78a1.25 1.25 0 1 0 2.5 0a1.25 1.25 0 1 0 -2.5 0zM663.5 564.46a1.25 1.25 0 1 0 2.5 0a1.25 1.25 0 1 0 -2.5 0zM667.53 520.9a1.25 1.25 0 1 0 2.5 0a1.25 1.25 0 1 0 -2.5 0zM664.11 477.65a1.25 1.25 0 1 0 2.5 0a1.25 1.25 0 1 0 -2.5 0zM666.89 664.72a1.25 1.25 0 1 0 2.5 0a1.25 1.25 0 1 0 -2.5 0zM668.72 532.63a1.25 1.25 0 1 0 2.5 0a1.25 1.25 0 1 0 -2.5 0zM663.92 520.65a1.25 1.25 0 1 0 2.5 0a1.25 1.25 0 1 0 -2.5 0zM665.17 484.78a1.25 1.25 0 1 0 2.5 0a1.25 1.25 0 1 0 -2.5 0zM664.53 601.77a1.25 1.25 0 1 0 2.5 0a1.25 1.25 0 1 0 -2.5 0zM667.06 558.82a1.25 1.25 0 1 0 2.5 0a1.25 1.25 0 1 0 -2.5 0zM663.69 497.29a1.25 1.25 0 1 0 2.5 0a1.25 1.25 0 1 0 -2.5 0zM664.98 432.57a1.25 1.25 0 1 0 2.5 0a1.25 1.25 0 1 0 -2.5 0zM666.78 587.89a1.25 1.25 0 1 0 2.5 0a1.25 1.25 0 1 0 -2.5 0zM669.14 575.38a1.25 1.25 0 1 0 2.5 0a1.25 1.25 0 1 0 -2.5 0zM667.49 495.86a1.25 1.25 0 1 0 2.5 0a1.25 1.25 0 1 0 -2.5 0zM666.28 484.68a1.25 1.25 0 1 0 2.5 0a1.25 1.25 0 1 0 -2.5 0zM665.88 588.92a1.25 1.25 0 1 0 2.5 0a1.25 1.25 0 1 0 -2.5 0zM664.77 564.92a1.25 1.25 0 1 0 2.5 0a1.25 1.25 0 1 0 -2.5 0zM664.2 524.48a1.25 1.25 0 1 0 2.5 0a1.25 1.25 0 1 0 -2.5 0zM666.5 453.43a1.25 1.25 0 1 0 2.5 0a1.25 1.25 0 1 0 -2.5 0zM667.33 629.52a1.25 1.25 0 1 0 2.5 0a1.25 1.25 0 1 0 -2.5 0zM663.74 541.88a1.25 1.25 0 1 0 2.5 0a1.25 1.25 0 1 0 -2.5 0zM667.26 508.18a1.25 1.25 0 1 0 2.5 0a1.25 1.25 0 1 0 -2.5 0zM667.48 474.28a1.25 1.25 0 1 0 2.5 0a1.25 1.25 0 1 0 -2.5 0zM665.76 665.01a1.25 1.25 0 1 0 2.5 0a1.25 1.25 0 1 0 -2.5 0zM662 565.85a1.25 1.25 0 1 0 2.5 0a1.25 1.25 0 1 0 -2.5 0zM666.63 490.91a1.25 1.25 0 1 0 2.5 0a1.25 1.25 0 1 0 -2.5 0zM665.77 484.61a1.25 1.25 0 1 0 2.5 0a1.25 1.25 0 1 0 -2.5 0zM666.19 667.92a1.25 1.25 0 1 0 2.5 0a1.25 1.25 0 1 0 -2.5 0zM669.15 570.1a1.25 1.25 0 1 0 2.5 0a1.25 1.25 0 1 0 -2.5 0zM662.35 495.22a1.25 1.25 0 1 0 2.5 0a1.25 1.25 0 1 0 -2.5 0zM664.56 448.26a1.25 1.25 0 1 0 2.5 0a1.25 1.25 0 1 0 -2.5 0zM666.69 675.36a1.25 1.25 0 1 0 2.5 0a1.25 1.25 0 1 0 -2.5 0zM662.38 566.14a1.25 1.25 0 1 0 2.5 0a1.25 1.25 0 1 0 -2.5 0zM665.13 487.11a1.25 1.25 0 1 0 2.5 0a1.25 1.25 0 1 0 -2.5 0zM665.21 422.92a1.25 1.25 0 1 0 2.5 0a1.25 1.25 0 1 0 -2.5 0zM664.36 675.61a1.25 1.25 0 1 0 2.5 0a1.25 1.25 0 1 0 -2.5 0zM665.36 546.81a1.25 1.25 0 1 0 2.5 0a1.25 1.25 0 1 0 -2.5 0zM667.38 523.86a1.25 1.25 0 1 0 2.5 0a1.25 1.25 0 1 0 -2.5 0zM663.66 469.55a1.25 1.25 0 1 0 2.5 0a1.25 1.25 0 1 0 -2.5 0zM665.75 713a1.25 1.25 0 1 0 2.5 0a1.25 1.25 0 1 0 -2.5 0zM665.75 414.3a1.25 1.25 0 1 0 2.5 0a1.25 1.25 0 1 0 -2.5 0z" fill="#111"/>
<line x1="419.7" y1="539.4" x2="676.3" y2="539.4" stroke="#000" stroke-width="1.1" />
<text x="448.7" y="775.9" font-size="13.9" text-anchor="middle" textLength="18.49" lengthAdjust="spacingAndGlyphs" fill="#0a0a0a">2 h</text>
<text x="515.7" y="775.9" font-size="13.9" text-anchor="middle" textLength="18.49" lengthAdjust="spacingAndGlyphs" fill="#0a0a0a">4 h</text>
<text x="585.7" y="775.9" font-size="13.9" text-anchor="middle" textLength="18.49" lengthAdjust="spacingAndGlyphs" fill="#0a0a0a">6 h</text>
<text x="645.7" y="775.9" font-size="13.9" text-anchor="middle" textLength="18.49" lengthAdjust="spacingAndGlyphs" fill="#0a0a0a">8 h</text>
<rect x="305.9" y="0.6" width="80" height="310.2" fill="#393939"/>
<rect x="396" y="0.6" width="80" height="310.2" fill="#393939"/>
<rect x="486.1" y="0.6" width="199" height="170.5" fill="#393939"/>
<rect x="486.1" y="180.9" width="199" height="130" fill="#393939"/>
<rect x="2.9" y="699.6" width="162.4" height="87.4" fill="#3e3e3e"/>
<rect x="176.1" y="699.6" width="162.3" height="87.4" fill="#3e3e3e"/>
<g clip-path="url(#cp)"><rect x="0" y="0" width="685" height="788" fill="#fff" filter="url(#nz)" opacity="0.16"/><g filter="url(#bl)">
<path d="M320.9 32.1 C320.67 33.73 319.85 38.88 319.5 41.9 C319.15 44.92 318.57 47.42 318.8 50.2 C319.03 52.98 320.32 55.8 320.9 58.6 C321.48 61.4 322.3 64.22 322.3 67 C322.3 69.78 320.9 72.52 320.9 75.3 C320.9 78.08 321.72 81.13 322.3 83.7 C322.88 86.27 323.58 87.92 324.4 90.7 C325.22 93.48 326.15 97.45 327.2 100.4 C328.25 103.35 330.23 105.68 330.7 108.4 C331.17 111.12 330.65 113.68 330 116.7 C329.35 119.72 326.8 123 326.8 126.5 C326.8 130 329 133.52 330 137.7 C331 141.88 331.52 147.18 332.8 151.6 C334.08 156.02 336.3 160.48 337.7 164.2 C339.1 167.92 341.43 171.12 341.2 173.9 C340.97 176.68 337.7 178.33 336.3 180.9 C334.9 183.47 332.8 186.27 332.8 189.3 C332.8 192.33 334.78 195.65 336.3 199.1 C337.82 202.55 340.75 207.98 341.9 210 C343.05 212.02 342.4 208.92 343.2 211.2 C344 213.48 346.47 219.28 346.7 223.7 C346.93 228.12 344.83 233.52 344.6 237.7 C344.37 241.88 344.78 245.08 345.3 248.8 C345.82 252.52 347.3 258.13 347.7 260" fill="none" stroke="#b2b2b2" stroke-width="1.45" stroke-linecap="round" stroke-linejoin="round" opacity="1" />
<path d="M353.7 18.1 C353.7 19.73 353.58 24.4 353.7 27.9 C353.82 31.4 354.05 34.92 354.4 39.1 C354.75 43.28 355.33 48.58 355.8 53 C356.27 57.42 356.97 61.42 357.2 65.6 C357.43 69.78 357.78 74.15 357.2 78.1 C356.62 82.05 353.93 85.8 353.7 89.3 C353.47 92.8 354.17 95.92 355.8 99.1 C357.43 102.28 362.05 105.23 363.5 108.4 C364.95 111.57 364.03 114.38 364.5 118.1 C364.97 121.82 365.88 126.28 366.3 130.7 C366.72 135.12 367.35 140.18 367 144.6 C366.65 149.02 365.83 153.7 364.2 157.2 C362.57 160.7 358.37 162.58 357.2 165.6 C356.03 168.62 356.27 172.28 357.2 175.3 C358.13 178.32 360.93 180.9 362.8 183.7 C364.67 186.5 367.28 189.32 368.4 192.1 C369.52 194.88 369.5 197.42 369.5 200.4 C369.5 203.38 368.7 208.43 368.4 210 C368.1 211.57 367.98 207.75 367.7 209.8 C367.42 211.85 366.87 220.22 366.7 222.3" fill="none" stroke="#b2b2b2" stroke-width="1.45" stroke-linecap="round" stroke-linejoin="round" opacity="1" />
<path d="M320.9 32.1 C320.67 33.73 319.85 38.88 319.5 41.9 C319.15 44.92 318.57 47.42 318.8 50.2 C319.03 52.98 320.32 55.8 320.9 58.6 C321.48 61.4 322.3 64.22 322.3 67 C322.3 69.78 320.9 72.52 320.9 75.3 C320.9 78.08 321.72 81.13 322.3 83.7 C322.88 86.27 323.58 87.92 324.4 90.7 C325.22 93.48 326.73 98.78 327.2 100.4" fill="none" stroke="#bcbcbc" stroke-width="1.9" stroke-linecap="round" stroke-linejoin="round" opacity="1" />
<path d="M353.7 18.1 C353.7 19.73 353.58 24.4 353.7 27.9 C353.82 31.4 354.05 34.92 354.4 39.1 C354.75 43.28 355.33 48.58 355.8 53 C356.27 57.42 356.97 61.42 357.2 65.6 C357.43 69.78 357.78 74.15 357.2 78.1 C356.62 82.05 353.93 85.8 353.7 89.3 C353.47 92.8 355.45 97.47 355.8 99.1" fill="none" stroke="#bcbcbc" stroke-width="1.9" stroke-linecap="round" stroke-linejoin="round" opacity="1" />
<path d="M320.9 32.1 C320.67 33.73 319.85 38.88 319.5 41.9 C319.15 44.92 318.57 47.42 318.8 50.2 C319.03 52.98 320.55 57.2 320.9 58.6" fill="none" stroke="#d0d0d0" stroke-width="2.4" stroke-linecap="round" stroke-linejoin="round" opacity="1" />
<path d="M353.7 18.1 C353.7 19.73 353.58 24.4 353.7 27.9 C353.82 31.4 354.05 34.92 354.4 39.1 C354.75 43.28 355.57 50.68 355.8 53" fill="none" stroke="#d0d0d0" stroke-width="2.8" stroke-linecap="round" stroke-linejoin="round" opacity="1" />
<path d="M320.9 75.3 L316.5 76.8" fill="none" stroke="#b2b2b2" stroke-width="1.2" stroke-linecap="round" stroke-linejoin="round" opacity="1" />
<path d="M427.7 20.9 C427.93 23.47 428.75 32.12 429.1 36.3 C429.45 40.48 429.68 42.28 429.8 46 C429.92 49.72 429.45 55.33 429.8 58.6 C430.15 61.87 430.4 63.28 431.9 65.6 C433.4 67.92 436.48 70.65 438.8 72.5 C441.12 74.35 443.7 76.12 445.8 76.7 C447.9 77.28 450.12 76.23 451.4 76 C452.68 75.77 453.15 75.42 453.5 75.3" fill="none" stroke="#b2b2b2" stroke-width="1.45" stroke-linecap="round" stroke-linejoin="round" opacity="1" />
<path d="M420 44.6 C420.58 46 422.57 50.2 423.5 53 C424.43 55.8 425.18 58.15 425.6 61.4 C426.02 64.65 426.35 69.02 426 72.5 C425.65 75.98 425.32 79.27 423.5 82.3 C421.68 85.33 417.67 88.13 415.1 90.7 C412.53 93.27 409.62 95.38 408.1 97.7 C406.58 100.02 406 103.05 406 104.6 C406 106.15 406.58 105.43 408.1 107 C409.62 108.57 412.77 111.8 415.1 114 C417.43 116.2 420.58 118.7 422.1 120.2 C423.62 121.7 423.85 122.53 424.2 123" fill="none" stroke="#b2b2b2" stroke-width="1.45" stroke-linecap="round" stroke-linejoin="round" opacity="1" />
<path d="M397 42.6 C398.38 43.05 402.52 45.42 405.3 45.3 C408.08 45.18 411.25 42.02 413.7 41.9 C416.15 41.78 418.95 44.15 420 44.6" fill="none" stroke="#b2b2b2" stroke-width="1.45" stroke-linecap="round" stroke-linejoin="round" opacity="1" />
<path d="M466 27.9 C466.58 29.77 468.92 35.62 469.5 39.1 C470.08 42.58 469.62 45.32 469.5 48.8 C469.38 52.28 469.38 56.62 468.8 60 C468.22 63.38 467.5 67.02 466 69.1 C464.5 71.18 461.88 71.35 459.8 72.5 C457.72 73.65 454.78 74.37 453.5 76 C452.22 77.63 452.45 80.32 452.1 82.3 C451.75 84.28 452.92 86.27 451.4 87.9 C449.88 89.53 446.25 90.47 443 92.1 C439.75 93.73 435.15 96.32 431.9 97.7 C428.65 99.08 425.32 98.85 423.5 100.4 C421.68 101.95 421.23 104.52 421 107 C420.77 109.48 421.57 112.63 422.1 115.3 C422.63 117.97 424.32 120.43 424.2 123 C424.08 125.57 422.68 128.25 421.4 130.7 C420.12 133.15 417.6 135.15 416.5 137.7 C415.4 140.25 414.68 142.98 414.8 146 C414.92 149.02 415.75 153 417.2 155.8 C418.65 158.6 421.05 161.22 423.5 162.8 C425.95 164.38 429.12 165.42 431.9 165.3 C434.68 165.18 438 163.68 440.2 162.1 C442.4 160.52 443.7 158.48 445.1 155.8 C446.5 153.12 447.2 148.67 448.6 146 C450 143.33 451.52 141.47 453.5 139.8 C455.48 138.13 459.33 136.63 460.5 136" fill="none" stroke="#b2b2b2" stroke-width="1.45" stroke-linecap="round" stroke-linejoin="round" opacity="1" />
<path d="M427.7 20.9 C427.93 23.47 428.75 32.12 429.1 36.3 C429.45 40.48 429.68 42.28 429.8 46 C429.92 49.72 429.45 55.33 429.8 58.6 C430.15 61.87 431.55 64.43 431.9 65.6" fill="none" stroke="#c8c8c8" stroke-width="2.2" stroke-linecap="round" stroke-linejoin="round" opacity="1" />
<path d="M466 27.9 C466.58 29.77 468.92 35.62 469.5 39.1 C470.08 42.58 469.62 45.32 469.5 48.8 C469.38 52.28 469.38 56.62 468.8 60 C468.22 63.38 466.47 67.58 466 69.1" fill="none" stroke="#c8c8c8" stroke-width="2.2" stroke-linecap="round" stroke-linejoin="round" opacity="1" />
<path d="M420 44.6 C420.58 46 422.57 50.2 423.5 53 C424.43 55.8 425.18 58.15 425.6 61.4 C426.02 64.65 425.93 70.65 426 72.5" fill="none" stroke="#c0c0c0" stroke-width="1.9" stroke-linecap="round" stroke-linejoin="round" opacity="1" />
<path d="M517.7 24.1 C517.52 25.97 516.87 31.28 516.6 35.3 C516.33 39.32 515.92 44.18 516.1 48.2 C516.28 52.22 517.43 57.53 517.7 59.4" fill="none" stroke="#b2b2b2" stroke-width="1.4" stroke-linecap="round" stroke-linejoin="round" opacity="1" />
<path d="M517.7 59.4 L510.5 78.7" fill="none" stroke="#b2b2b2" stroke-width="1.4" stroke-linecap="round" stroke-linejoin="round" opacity="1" />
<path d="M517.7 59.4 C518.92 61.02 523.12 65.62 525 69.1 C526.88 72.58 528.07 77.48 529 80.3 C529.93 83.12 530.07 83.92 530.6 86 C531.13 88.08 531.27 90.45 532.2 92.8 C533.13 95.15 534.07 98.22 536.2 100.1 C538.33 101.98 544.07 102.1 545 104.1 C545.93 106.1 543.27 109.15 541.8 112.1 C540.33 115.05 537.53 118.32 536.2 121.8 C534.87 125.28 535.4 130.07 533.8 133 C532.2 135.93 528.33 137.67 526.6 139.4 C524.87 141.13 523.67 142.07 523.4 143.4 C523.13 144.73 525.55 146.25 525 147.4 C524.45 148.55 522.65 149.75 520.1 150.3 C517.55 150.85 511.57 151.45 509.7 150.7 C507.83 149.95 508.5 147.82 508.9 145.8 C509.3 143.78 511.57 139.8 512.1 138.6" fill="none" stroke="#b2b2b2" stroke-width="1.4" stroke-linecap="round" stroke-linejoin="round" opacity="1" />
<path d="M516.6 40.1 C517.47 39.7 520.67 36.62 521.8 37.7 C522.93 38.78 522.33 44.45 523.4 46.6 C524.47 48.75 527.4 49.93 528.2 50.6" fill="none" stroke="#b2b2b2" stroke-width="1.4" stroke-linecap="round" stroke-linejoin="round" opacity="1" />
<path d="M523.4 46.6 L523 54.6" fill="none" stroke="#b2b2b2" stroke-width="1.4" stroke-linecap="round" stroke-linejoin="round" opacity="1" />
<path d="M545.8 20.9 C545.67 23.3 544.45 31.02 545 35.3 C545.55 39.58 548.55 43.12 549.1 46.6 C549.65 50.08 549.25 53.67 548.3 56.2 C547.35 58.73 544.08 58.32 543.4 61.8 C542.72 65.28 544.07 74.55 544.2 77.1" fill="none" stroke="#b2b2b2" stroke-width="1.4" stroke-linecap="round" stroke-linejoin="round" opacity="1" />
<path d="M548.3 56.2 C548.7 57.8 549.63 63.38 550.7 65.8 C551.77 68.22 554.3 68.55 554.7 70.7 C555.1 72.85 552.43 75.68 553.1 78.7 C553.77 81.72 556.43 86.3 558.7 88.8 C560.97 91.3 564.57 91.95 566.7 93.7 C568.83 95.45 569.62 97.97 571.5 99.3 C573.38 100.63 576.25 100.63 578 101.7 C579.75 102.77 581.33 105.03 582 105.7" fill="none" stroke="#b2b2b2" stroke-width="1.4" stroke-linecap="round" stroke-linejoin="round" opacity="1" />
<path d="M612.7 35.3 C612.17 36.65 610.57 40.45 609.5 43.4 C608.43 46.35 606.43 50.07 606.3 53 C606.17 55.93 609.1 58.05 608.7 61 C608.3 63.95 605.5 67.48 603.9 70.7 C602.3 73.92 600.3 76.62 599.1 80.3 C597.9 83.98 596.03 89.37 596.7 92.8 C597.37 96.23 601.58 98.22 603.1 100.9 C604.62 103.58 605.8 105.97 605.8 108.9 C605.8 111.83 603.95 115.82 603.1 118.5 C602.25 121.18 600.7 122.32 600.7 125 C600.7 127.68 602.83 131.93 603.1 134.6 C603.37 137.27 603.77 138.58 602.3 141 C600.83 143.42 596.57 146.55 594.3 149.1 C592.03 151.65 590.18 154.03 588.7 156.3 C587.22 158.57 585.95 161.63 585.4 162.7" fill="none" stroke="#b2b2b2" stroke-width="1.4" stroke-linecap="round" stroke-linejoin="round" opacity="1" />
<path d="M670.6 30.5 C670.18 31.83 669.85 36.48 668.1 38.5 C666.35 40.52 662.1 41.25 660.1 42.6 C658.1 43.95 656.37 44.6 656.1 46.6 C655.83 48.6 657.83 51.67 658.5 54.6 C659.17 57.53 658.77 61.78 660.1 64.2 C661.43 66.62 665.03 66.68 666.5 69.1 C667.97 71.52 667.82 76.08 668.9 78.7 C669.98 81.32 671.25 83.12 673 84.8 C674.75 86.48 678.33 87.32 679.4 88.8 C680.47 90.28 680.73 92.22 679.4 93.7 C678.07 95.18 674.48 96.55 671.4 97.7 C668.32 98.85 662.65 100.12 660.9 100.6" fill="none" stroke="#b2b2b2" stroke-width="1.4" stroke-linecap="round" stroke-linejoin="round" opacity="1" />
<path d="M517.7 24.1 C517.52 25.97 516.87 31.28 516.6 35.3 C516.33 39.32 515.92 44.18 516.1 48.2 C516.28 52.22 517.43 57.53 517.7 59.4" fill="none" stroke="#d0d0d0" stroke-width="2.4" stroke-linecap="round" stroke-linejoin="round" opacity="1" />
<path d="M545.8 20.9 C545.67 23.3 544.45 31.02 545 35.3 C545.55 39.58 548.55 43.12 549.1 46.6 C549.65 50.08 548.43 54.6 548.3 56.2" fill="none" stroke="#d0d0d0" stroke-width="2.4" stroke-linecap="round" stroke-linejoin="round" opacity="1" />
<path d="M612.7 35.3 C612.17 36.65 610.57 40.45 609.5 43.4 C608.43 46.35 606.43 50.07 606.3 53 C606.17 55.93 608.3 59.67 608.7 61" fill="none" stroke="#d0d0d0" stroke-width="2.4" stroke-linecap="round" stroke-linejoin="round" opacity="1" />
<path d="M670.6 30.5 C670.18 31.83 669.85 36.48 668.1 38.5 C666.35 40.52 662.1 41.25 660.1 42.6 C658.1 43.95 656.37 44.6 656.1 46.6 C655.83 48.6 657.83 51.67 658.5 54.6 C659.17 57.53 659.83 62.6 660.1 64.2" fill="none" stroke="#d0d0d0" stroke-width="2.4" stroke-linecap="round" stroke-linejoin="round" opacity="1" />
<path d="M492.4 213.2 C493.58 212.75 497.12 210.5 499.5 210.5 C501.88 210.5 504.47 211.42 506.7 213.2 C508.93 214.98 511.87 219.87 512.9 221.2" fill="none" stroke="#9c9c9c" stroke-width="2.3" stroke-linecap="round" stroke-linejoin="round" opacity="1" />
<path d="M512.9 221.2 C513.78 219.57 516.28 213.32 518.2 211.4 C520.12 209.48 522.47 209.4 524.4 209.7 C526.33 210 528.9 212.62 529.8 213.2" fill="none" stroke="#9c9c9c" stroke-width="2.3" stroke-linecap="round" stroke-linejoin="round" opacity="1" />
<path d="M512.9 221.2 C513.05 222.68 514.4 227.13 513.8 230.1 C513.2 233.07 510.48 235.75 509.3 239 C508.12 242.25 507.28 246.65 506.7 249.6 C506.12 252.55 505.95 255.52 505.8 256.7" fill="none" stroke="#b2b2b2" stroke-width="1.5" stroke-linecap="round" stroke-linejoin="round" opacity="1" />
<path d="M512.9 230.1 C511.27 231.28 505.33 234.83 503.1 237.2 C500.87 239.57 499.35 241.93 499.5 244.3 C499.65 246.67 502.8 249.77 504 251.4 C505.2 253.03 506.25 253.65 506.7 254.1" fill="none" stroke="#b2b2b2" stroke-width="1.5" stroke-linecap="round" stroke-linejoin="round" opacity="1" />
<path d="M515.5 224.8 C516.25 225.98 519.7 229.53 520 231.9 C520.3 234.27 517.75 237.82 517.3 239" fill="none" stroke="#b2b2b2" stroke-width="1.5" stroke-linecap="round" stroke-linejoin="round" opacity="1" />
<path d="M505.8 256.7 C504.32 256.85 498.53 256.12 496.9 257.6 C495.27 259.08 496.75 263.82 496 265.6 C495.25 267.38 493 267.85 492.4 268.3" fill="none" stroke="#b2b2b2" stroke-width="1.5" stroke-linecap="round" stroke-linejoin="round" opacity="1" />
<path d="M505.8 256.7 C505.95 258.48 506.32 264.13 506.7 267.4 C507.08 270.67 508.25 274.08 508.1 276.3 C507.95 278.52 506.18 279.97 505.8 280.7" fill="none" stroke="#b2b2b2" stroke-width="1.5" stroke-linecap="round" stroke-linejoin="round" opacity="1" />
<path d="M505.8 256.7 C507.42 256.85 511.8 257 515.5 257.6 C519.2 258.2 524.43 260.45 528 260.3 C531.57 260.15 534.68 257.3 536.9 256.7 C539.12 256.1 540.12 256.1 541.3 256.7 C542.48 257.3 543.55 259.7 544 260.3" fill="none" stroke="#b2b2b2" stroke-width="1.5" stroke-linecap="round" stroke-linejoin="round" opacity="1" />
<path d="M562.6 203.4 L563.5 217.7" fill="none" stroke="#b2b2b2" stroke-width="1.5" stroke-linecap="round" stroke-linejoin="round" opacity="1" />
<path d="M538.6 215 C540.68 215.3 547.25 216.35 551.1 216.8 C554.95 217.25 559.93 217.55 561.7 217.7" fill="none" stroke="#8a8a8a" stroke-width="0.9" stroke-linecap="round" stroke-linejoin="round" opacity="1" />
<path d="M559.1 229.2 C559.83 230.53 561.87 235.72 563.5 237.2 C565.13 238.68 566.97 239.28 568.9 238.1 C570.83 236.92 573.77 232.32 575.1 230.1 C576.43 227.88 576.6 225.68 576.9 224.8" fill="none" stroke="#b2b2b2" stroke-width="1.5" stroke-linecap="round" stroke-linejoin="round" opacity="1" />
<path d="M563.5 217.7 C564.25 218.43 566.07 221.67 568 222.1 C569.93 222.53 573.03 220.9 575.1 220.3 C577.17 219.7 579.52 218.8 580.4 218.5" fill="none" stroke="#b2b2b2" stroke-width="1.5" stroke-linecap="round" stroke-linejoin="round" opacity="1" />
<path d="M627.4 208.8 C627.4 210.57 628.13 216.45 627.4 219.4 C626.67 222.35 624.62 224.13 623 226.5 C621.38 228.87 618.58 232.42 617.7 233.6" fill="none" stroke="#b2b2b2" stroke-width="1.5" stroke-linecap="round" stroke-linejoin="round" opacity="1" />
<path d="M617.7 233.6 C616.22 234.35 611.47 236.62 608.8 238.1 C606.13 239.58 604.37 240.87 601.7 242.5 C599.03 244.13 595.47 246.27 592.8 247.9 C590.13 249.53 587.03 251.27 585.7 252.3 C584.37 253.33 584.95 253.8 584.8 254.1" fill="none" stroke="#b2b2b2" stroke-width="1.5" stroke-linecap="round" stroke-linejoin="round" opacity="1" />
<path d="M620.3 233.6 C620 235.08 619.98 240.27 618.5 242.5 C617.02 244.73 613.17 245.52 611.4 247 C609.63 248.48 608.78 249.63 607.9 251.4 C607.02 253.17 607.73 255.82 606.1 257.6 C604.47 259.38 601.22 261.05 598.1 262.1 C594.98 263.15 589.92 264.2 587.4 263.9 C584.88 263.6 584.47 261.2 583 260.3 C581.53 259.4 579.33 258.8 578.6 258.5" fill="none" stroke="#b2b2b2" stroke-width="1.5" stroke-linecap="round" stroke-linejoin="round" opacity="1" />
<path d="M628.3 226.5 C628.3 227.68 627.12 231.97 628.3 233.6 C629.48 235.23 633.62 234.82 635.4 236.3 C637.18 237.78 637.67 240.87 639 242.5 C640.33 244.13 642.52 244.17 643.4 246.1 C644.28 248.03 644.15 252.77 644.3 254.1" fill="none" stroke="#b2b2b2" stroke-width="1.5" stroke-linecap="round" stroke-linejoin="round" opacity="1" />
<path d="M662.1 208.8 C661.8 210.28 659.12 215.33 660.3 217.7 C661.48 220.07 667.87 220.63 669.2 223 C670.53 225.37 669.18 229.53 668.3 231.9 C667.42 234.27 666.12 235.72 663.9 237.2 C661.68 238.68 657.97 239.92 655 240.8 C652.03 241.68 647.58 242.22 646.1 242.5" fill="none" stroke="#b2b2b2" stroke-width="1.5" stroke-linecap="round" stroke-linejoin="round" opacity="1" />
<path d="M668.3 231.9 C667.85 233.67 666.33 239.83 665.6 242.5 C664.87 245.17 662.85 246.57 663.9 247.9 C664.95 249.23 670.57 250.07 671.9 250.5" fill="none" stroke="#b2b2b2" stroke-width="1.5" stroke-linecap="round" stroke-linejoin="round" opacity="1" />
<path d="M637.2 201.7 C638.68 201.1 642.55 198.1 646.1 198.1 C649.65 198.1 655.83 199.92 658.5 201.7 C661.17 203.48 661.5 207.62 662.1 208.8" fill="none" stroke="#b2b2b2" stroke-width="1.5" stroke-linecap="round" stroke-linejoin="round" opacity="1" />
<path d="M656.7 269.2 L663 263" fill="none" stroke="#b2b2b2" stroke-width="1.5" stroke-linecap="round" stroke-linejoin="round" opacity="1" />
<path d="M512.9 221.2 C513.05 222.68 514.4 227.13 513.8 230.1 C513.2 233.07 510.48 235.75 509.3 239 C508.12 242.25 507.28 246.65 506.7 249.6 C506.12 252.55 505.95 255.52 505.8 256.7" fill="none" stroke="#d0d0d0" stroke-width="2.6" stroke-linecap="round" stroke-linejoin="round" opacity="1" />
<path d="M627.4 208.8 C627.4 210.57 628.13 216.45 627.4 219.4 C626.67 222.35 624.62 224.13 623 226.5 C621.38 228.87 618.58 232.42 617.7 233.6" fill="none" stroke="#d0d0d0" stroke-width="2.6" stroke-linecap="round" stroke-linejoin="round" opacity="1" />
<path d="M662.1 208.8 C661.8 210.28 659.12 215.33 660.3 217.7 C661.48 220.07 667.72 222.12 669.2 223" fill="none" stroke="#d0d0d0" stroke-width="2.6" stroke-linecap="round" stroke-linejoin="round" opacity="1" />
<path d="M617.7 234.8 C616.5 235.1 612.88 235.57 610.5 236.6 C608.12 237.63 606.07 239.5 603.4 241 C600.73 242.5 597.17 243.97 594.5 245.6 C591.83 247.23 588.58 249.93 587.4 250.8" fill="none" stroke="#b2b2b2" stroke-width="1.3" stroke-linecap="round" stroke-linejoin="round" opacity="1" />
<path d="M669.2 223 C670.08 222.4 672.87 221.48 674.5 219.4 C676.13 217.32 678.7 212.87 679 210.5 C679.3 208.13 676.75 206.08 676.3 205.2" fill="none" stroke="#999" stroke-width="1.2" stroke-linecap="round" stroke-linejoin="round" opacity="1" />
<path d="M563.5 217.7 C563.92 217.08 564.58 214.2 566 214 C567.42 213.8 570.17 216.58 572 216.5 C573.83 216.42 576.17 214 577 213.5" fill="none" stroke="#c8c8c8" stroke-width="1.3" stroke-linecap="round" stroke-linejoin="round" opacity="1" />
<path d="M566 222 C567 222.42 570 224.67 572 224.5 C574 224.33 577 221.58 578 221" fill="none" stroke="#bbb" stroke-width="1.2" stroke-linecap="round" stroke-linejoin="round" opacity="1" />
<path d="M551.45 42.14 L560.45 31.34" fill="none" stroke="#e0e0e0" stroke-width="0.8" stroke-linecap="round" stroke-linejoin="round" opacity="1" />
<path d="M552.6 43.1 L561.6 32.3" fill="none" stroke="#e0e0e0" stroke-width="0.8" stroke-linecap="round" stroke-linejoin="round" opacity="1" />
<path d="M553.75 44.06 L562.75 33.26" fill="none" stroke="#e0e0e0" stroke-width="0.8" stroke-linecap="round" stroke-linejoin="round" opacity="1" />
<path d="M567.5 42.3 L573.9 36.3" fill="none" stroke="#e8e8e8" stroke-width="1.2" stroke-linecap="round" stroke-linejoin="round" opacity="1" />
<path d="M13.1 726.5 C14.2 726.5 16.85 726.17 19.7 726.5 C22.55 726.83 26.25 728.38 30.2 728.5 C34.15 728.62 39.67 727.08 43.4 727.2 C47.13 727.32 49.77 728.55 52.6 729.2 C55.43 729.85 57.57 731.22 60.4 731.1 C63.23 730.98 66.53 728.5 69.6 728.5 C72.67 728.5 75.75 730.98 78.8 731.1 C81.85 731.22 84.42 728.98 87.9 729.2 C91.38 729.42 95.55 732.52 99.7 732.4 C103.85 732.28 108.63 728.6 112.8 728.5 C116.97 728.4 120.97 731.8 124.7 731.8 C128.43 731.8 132.35 728.62 135.2 728.5 C138.05 728.38 139.4 731.25 141.8 731.1 C144.2 730.95 147.53 727.6 149.6 727.6 C151.67 727.6 153.37 729.42 154.2 731.1 C155.03 732.78 154.53 736.6 154.6 737.7" fill="none" stroke="#b0b0b0" stroke-width="1.9" stroke-linecap="round" stroke-linejoin="round" opacity="1" />
<path d="M19.7 752.2 C18.6 752.42 14.63 752.52 13.1 753.5 C11.57 754.48 10.27 756.68 10.5 758.1 C10.73 759.52 12.53 760.92 14.5 762 C16.47 763.08 20.12 764.38 22.3 764.6 C24.48 764.82 25.85 763.07 27.6 763.3 C29.35 763.53 29.73 765.55 32.8 766 C35.87 766.45 40.95 766.23 46 766 C51.05 765.77 57.63 764.93 63.1 764.6 C68.57 764.27 74.23 764.77 78.8 764 C83.37 763.23 87.02 760.33 90.5 760 C93.98 759.67 96.85 761.23 99.7 762 C102.55 762.77 104.53 764.82 107.6 764.6 C110.67 764.38 114.6 761.68 118.1 760.7 C121.6 759.72 125.1 758.6 128.6 758.7 C132.1 758.8 135.6 761.15 139.1 761.3 C142.6 761.45 147.08 759.27 149.6 759.6 C152.12 759.93 153.22 761.15 154.2 763.3 C155.18 765.45 155.05 769.98 155.5 772.5 C155.95 775.02 156.67 777.42 156.9 778.4" fill="none" stroke="#b0b0b0" stroke-width="1.9" stroke-linecap="round" stroke-linejoin="round" opacity="1" />
<path d="M13.1 726.5 C14.2 726.5 16.85 726.17 19.7 726.5 C22.55 726.83 26.25 728.38 30.2 728.5 C34.15 728.62 39.67 727.08 43.4 727.2 C47.13 727.32 49.77 728.55 52.6 729.2 C55.43 729.85 57.57 731.22 60.4 731.1 C63.23 730.98 68.07 728.93 69.6 728.5" fill="none" stroke="#bcbcbc" stroke-width="2.3" stroke-linecap="round" stroke-linejoin="round" opacity="1" />
<path d="M19.7 752.2 C18.6 752.42 14.63 752.52 13.1 753.5 C11.57 754.48 10.27 756.68 10.5 758.1 C10.73 759.52 12.53 760.92 14.5 762 C16.47 763.08 20.12 764.38 22.3 764.6 C24.48 764.82 25.85 763.07 27.6 763.3 C29.35 763.53 29.73 765.55 32.8 766 C35.87 766.45 40.95 766.23 46 766 C51.05 765.77 57.63 764.93 63.1 764.6 C68.57 764.27 76.18 764.1 78.8 764" fill="none" stroke="#bcbcbc" stroke-width="2.3" stroke-linecap="round" stroke-linejoin="round" opacity="1" />
<path d="M13.1 726.5 C14.2 726.5 16.85 726.17 19.7 726.5 C22.55 726.83 26.25 728.38 30.2 728.5 C34.15 728.62 41.2 727.42 43.4 727.2" fill="none" stroke="#d4d4d4" stroke-width="3.0" stroke-linecap="round" stroke-linejoin="round" opacity="1" />
<path d="M19.7 752.2 C18.6 752.42 14.63 752.52 13.1 753.5 C11.57 754.48 10.27 756.68 10.5 758.1 C10.73 759.52 12.53 760.92 14.5 762 C16.47 763.08 20.12 764.38 22.3 764.6 C24.48 764.82 25.85 763.07 27.6 763.3 C29.35 763.53 29.73 765.55 32.8 766 C35.87 766.45 43.8 766 46 766" fill="none" stroke="#d4d4d4" stroke-width="3.0" stroke-linecap="round" stroke-linejoin="round" opacity="1" />
<path d="M201.5 706.2 C200.95 706.75 198.52 706.98 198.2 709.5 C197.88 712.02 198.17 719.02 199.6 721.3 C201.03 723.58 203.63 723.42 206.8 723.2 C209.97 722.98 214.22 720.65 218.6 720 C222.98 719.35 228.93 718.77 233.1 719.3 C237.27 719.83 240.32 722 243.6 723.2 C246.88 724.4 249.58 726.5 252.8 726.5 C256.02 726.5 259.68 724.28 262.9 723.2 C266.12 722.12 268.38 719.67 272.1 720 C275.82 720.33 280.6 725.32 285.2 725.2 C289.8 725.08 295.32 719.4 299.7 719.3 C304.08 719.2 308.22 724.27 311.5 724.6 C314.78 724.93 317.22 721.97 319.4 721.3 C321.58 720.63 323.28 719.95 324.6 720.6 C325.92 721.25 327.52 723.55 327.3 725.2 C327.08 726.85 324.62 729.07 323.3 730.5 C321.98 731.93 320.23 732.6 319.4 733.8 C318.57 735 318.48 737.05 318.3 737.7" fill="none" stroke="#b0b0b0" stroke-width="1.9" stroke-linecap="round" stroke-linejoin="round" opacity="1" />
<path d="M189.7 764.6 C190.8 765.37 193.02 768.1 196.3 769.2 C199.58 770.3 205.02 770.87 209.4 771.2 C213.78 771.53 218.65 771.68 222.6 771.2 C226.55 770.72 229.6 768.08 233.1 768.3 C236.6 768.52 240.32 772.02 243.6 772.5 C246.88 772.98 249.58 772.18 252.8 771.2 C256.02 770.22 259.68 767.03 262.9 766.6 C266.12 766.17 269.03 767.95 272.1 768.6 C275.17 769.25 277.58 770.83 281.3 770.5 C285.02 770.17 290.47 767.35 294.4 766.6 C298.33 765.85 301.62 765.35 304.9 766 C308.18 766.65 311.03 769.52 314.1 770.5 C317.17 771.48 320.57 772.12 323.3 771.9 C326.03 771.68 329.3 770.42 330.5 769.2 C331.7 767.98 331.15 765.58 330.5 764.6 C329.85 763.62 328.02 762.85 326.6 763.3 C325.18 763.75 323.42 765.77 322 767.3 C320.58 768.83 319.08 771.23 318.1 772.5 C317.12 773.77 316.43 774.5 316.1 774.9" fill="none" stroke="#b0b0b0" stroke-width="1.9" stroke-linecap="round" stroke-linejoin="round" opacity="1" />
<path d="M201.5 706.2 C200.95 706.75 198.52 706.98 198.2 709.5 C197.88 712.02 198.17 719.02 199.6 721.3 C201.03 723.58 203.63 723.42 206.8 723.2 C209.97 722.98 214.22 720.65 218.6 720 C222.98 719.35 228.93 718.77 233.1 719.3 C237.27 719.83 240.32 722 243.6 723.2 C246.88 724.4 251.27 725.95 252.8 726.5" fill="none" stroke="#bcbcbc" stroke-width="2.3" stroke-linecap="round" stroke-linejoin="round" opacity="1" />
<path d="M189.7 764.6 C190.8 765.37 193.02 768.1 196.3 769.2 C199.58 770.3 205.02 770.87 209.4 771.2 C213.78 771.53 218.65 771.68 222.6 771.2 C226.55 770.72 229.6 768.08 233.1 768.3 C236.6 768.52 241.85 771.8 243.6 772.5" fill="none" stroke="#bcbcbc" stroke-width="2.3" stroke-linecap="round" stroke-linejoin="round" opacity="1" />
<path d="M198.2 709.5 C198.43 711.47 198.17 719.02 199.6 721.3 C201.03 723.58 203.63 723.42 206.8 723.2 C209.97 722.98 214.22 720.65 218.6 720 C222.98 719.35 230.68 719.42 233.1 719.3" fill="none" stroke="#cccccc" stroke-width="3.0" stroke-linecap="round" stroke-linejoin="round" opacity="1" />
<path d="M189.7 764.6 C190.8 765.37 193.02 768.1 196.3 769.2 C199.58 770.3 205.02 770.87 209.4 771.2 C213.78 771.53 220.4 771.2 222.6 771.2" fill="none" stroke="#cccccc" stroke-width="3.0" stroke-linecap="round" stroke-linejoin="round" opacity="1" />
<path d="M198.5 706.5 C199.33 706.22 202.25 704.78 203.5 704.8 C204.75 704.82 205.58 706.3 206 706.6" fill="none" stroke="#aaa" stroke-width="1.8" stroke-linecap="round" stroke-linejoin="round" opacity="1" />
</g>
<g filter="url(#bl2)">
<ellipse cx="327.5" cy="14.6" rx="5.2" ry="4.8" fill="#767676" opacity="1"/>
<ellipse cx="330" cy="35.6" rx="5" ry="5" fill="#727272" opacity="1"/>
<ellipse cx="342.2" cy="21.2" rx="6.8" ry="4.4" fill="#7c7c7c" opacity="1" transform="rotate(-20 342.2 21.2)"/>
<ellipse cx="427" cy="14.6" rx="7.5" ry="6.5" fill="#656565" opacity="1"/>
<ellipse cx="424.9" cy="37.7" rx="5" ry="4.5" fill="#747474" opacity="1"/>
<ellipse cx="432.5" cy="41.2" rx="4" ry="4" fill="#686868" opacity="1"/>
<ellipse cx="417.2" cy="24.4" rx="3" ry="2.5" fill="#5a5a5a" opacity="1"/>
<ellipse cx="398.2" cy="34.2" rx="2.5" ry="3" fill="#636363" opacity="1"/>
<ellipse cx="397.5" cy="17.4" rx="2.2" ry="2" fill="#636363" opacity="1"/>
<ellipse cx="466" cy="20.6" rx="6.3" ry="5.2" fill="#6c6c6c" opacity="1"/>
<ellipse cx="457" cy="32.8" rx="5" ry="2.4" fill="#767676" opacity="1" transform="rotate(-30 457 32.8)"/>
<ellipse cx="472.5" cy="27.9" rx="4" ry="2" fill="#767676" opacity="1" transform="rotate(-25 472.5 27.9)"/>
<ellipse cx="499.3" cy="24.4" rx="9.6" ry="3.8" fill="#6a6a6a" opacity="1" transform="rotate(-8 499.3 24.4)"/>
<ellipse cx="547" cy="16.9" rx="6.8" ry="4.4" fill="#747474" opacity="1" transform="rotate(-8 547 16.9)"/>
<ellipse cx="557.1" cy="37.7" rx="9" ry="3.6" fill="#9a9a9a" opacity="1" transform="rotate(-50 557.1 37.7)"/>
<ellipse cx="570.7" cy="39.3" rx="5" ry="2.3" fill="#b6b6b6" opacity="1" transform="rotate(-45 570.7 39.3)"/>
<ellipse cx="598.6" cy="31.6" rx="8.4" ry="4.8" fill="#6e6e6e" opacity="1" transform="rotate(-10 598.6 31.6)"/>
<ellipse cx="625.1" cy="30.5" rx="8.4" ry="5.3" fill="#767676" opacity="1" transform="rotate(-8 625.1 30.5)"/>
<ellipse cx="612.3" cy="27.6" rx="3" ry="3" fill="#686868" opacity="1"/>
<ellipse cx="668.5" cy="24.4" rx="6" ry="5.2" fill="#787878" opacity="1"/>
<ellipse cx="675.4" cy="42.9" rx="7.2" ry="6" fill="#686868" opacity="1"/>
<ellipse cx="656.1" cy="39.3" rx="3.2" ry="2.5" fill="#636363" opacity="1"/>
<ellipse cx="685" cy="34.5" rx="2.5" ry="3.5" fill="#747474" opacity="1"/>
<ellipse cx="562.1" cy="200.8" rx="6.7" ry="5.3" fill="#636363" opacity="1"/>
<ellipse cx="563" cy="208" rx="3" ry="4" fill="#6a6a6a" opacity="1"/>
<ellipse cx="644.3" cy="215.9" rx="9" ry="6.3" fill="#7e7e7e" opacity="1" transform="rotate(32 644.3 215.9)"/>
<ellipse cx="669.2" cy="206.5" rx="7" ry="6.2" fill="#6c6c6c" opacity="1"/>
<ellipse cx="13.4" cy="726.3" rx="4.2" ry="3.8" fill="#b4b4b4" opacity="1"/>
<ellipse cx="12.6" cy="766" rx="4" ry="3.6" fill="#a0a0a0" opacity="1"/>
<ellipse cx="186.6" cy="759.6" rx="5" ry="4.8" fill="#c4c4c4" opacity="1"/>
<ellipse cx="187.5" cy="756.5" rx="3.6" ry="2" fill="#e0e0e0" opacity="1" transform="rotate(-20 187.5 756.5)"/>
<ellipse cx="200" cy="766.5" rx="2.6" ry="2.2" fill="#777" opacity="1"/>
<path d="M353.7 23 C353.92 21.75 353.78 17.23 355 15.5 C356.22 13.77 358.83 12.85 361 12.6 C363.17 12.35 366.12 13.07 368 14 C369.88 14.93 371.58 17.5 372.3 18.2" fill="none" stroke="#7a7a7a" stroke-width="3.6" stroke-linecap="round" stroke-linejoin="round" opacity="1" />
<path d="M327 19 C326.75 20 326.17 23 325.5 25 C324.83 27 323.42 30 323 31" fill="none" stroke="#707070" stroke-width="2.2" stroke-linecap="round" stroke-linejoin="round" opacity="1" />
<path d="M518.5 23.3 C520.12 22.77 525.38 20.37 528.2 20.1 C531.02 19.83 533.27 20.37 535.4 21.7 C537.53 23.03 540.07 27.03 541 28.1" fill="none" stroke="#747474" stroke-width="2.4" stroke-linecap="round" stroke-linejoin="round" opacity="1" />
<path d="M604.3 210.5 C605.33 209.62 607.98 206.23 610.5 205.2 C613.02 204.17 616.73 203.85 619.4 204.3 C622.07 204.75 625.32 207.3 626.5 207.9" fill="none" stroke="#686868" stroke-width="3" stroke-linecap="round" stroke-linejoin="round" opacity="1" />
<path d="M637.2 202.2 C638.68 201.55 643.13 198.75 646.1 198.3 C649.07 197.85 652.6 198.47 655 199.5 C657.4 200.53 659.58 203.67 660.5 204.5" fill="none" stroke="#7c7c7c" stroke-width="3.4" stroke-linecap="round" stroke-linejoin="round" opacity="1" />
</g></g>
<rect x="380.2" y="252" width="3" height="56" fill="#fff"/>
<rect x="470.2" y="251.2" width="3" height="56.2" fill="#fff"/>
<rect x="679.3" y="112.2" width="3" height="56.2" fill="#fff"/>
<rect x="679.9" y="251.2" width="3" height="56.6" fill="#fff"/>
<rect x="129.9" y="702.2" width="33.1" height="2.6" fill="#fff"/>
<text x="311.4" y="20.6" font-size="18.5" font-weight="bold" fill="#fff">b</text>
<text x="401.5" y="20.6" font-size="18.5" font-weight="bold" fill="#fff">c</text>
<text x="492" y="20.6" font-size="18.5" font-weight="bold" fill="#fff">d</text>
<text x="491.2" y="199.2" font-size="18.5" font-weight="bold" fill="#fff">e</text>
<text x="8" y="717.6" font-size="18.5" font-weight="bold" fill="#fff">g</text>
<text x="182.6" y="716.7" font-size="18.5" font-weight="bold" fill="#fff">h</text>
<text x="310.9" y="306.9" font-size="11.49" textLength="22.62" lengthAdjust="spacingAndGlyphs" fill="#f0f0f0">PNS</text>
<text x="400.9" y="306.9" font-size="11.49" textLength="22.62" lengthAdjust="spacingAndGlyphs" fill="#f0f0f0">PNS</text>
<text x="490.9" y="166.7" font-size="11.49" textLength="19.57" lengthAdjust="spacingAndGlyphs" fill="#f0f0f0">eBL</text>
<text x="490.9" y="306.7" font-size="11.49" textLength="19.57" lengthAdjust="spacingAndGlyphs" fill="#f0f0f0">eBL</text>
<text x="6.3" y="783.4" font-size="11.49" textLength="22.62" lengthAdjust="spacingAndGlyphs" fill="#f0f0f0">PNS</text>
<text x="178.9" y="783.6" font-size="11.49" textLength="19.57" lengthAdjust="spacingAndGlyphs" fill="#f0f0f0">eBL</text>
<rect x="318.9" y="707.2" width="10.9" height="10.4" fill="#4a4a4a"/>
<rect x="323.2" y="748.9" width="10" height="11.6" fill="#4a4a4a"/>
<path d="M319.3 707.6L324.3 709.9L329.4 707.6L324.3 717.4Z" fill="#fff"/>
<path d="M323.6 749.4L328.2 751.7L332.8 749.4L328.2 760Z" fill="#fff"/>
</svg>
</body></html>
